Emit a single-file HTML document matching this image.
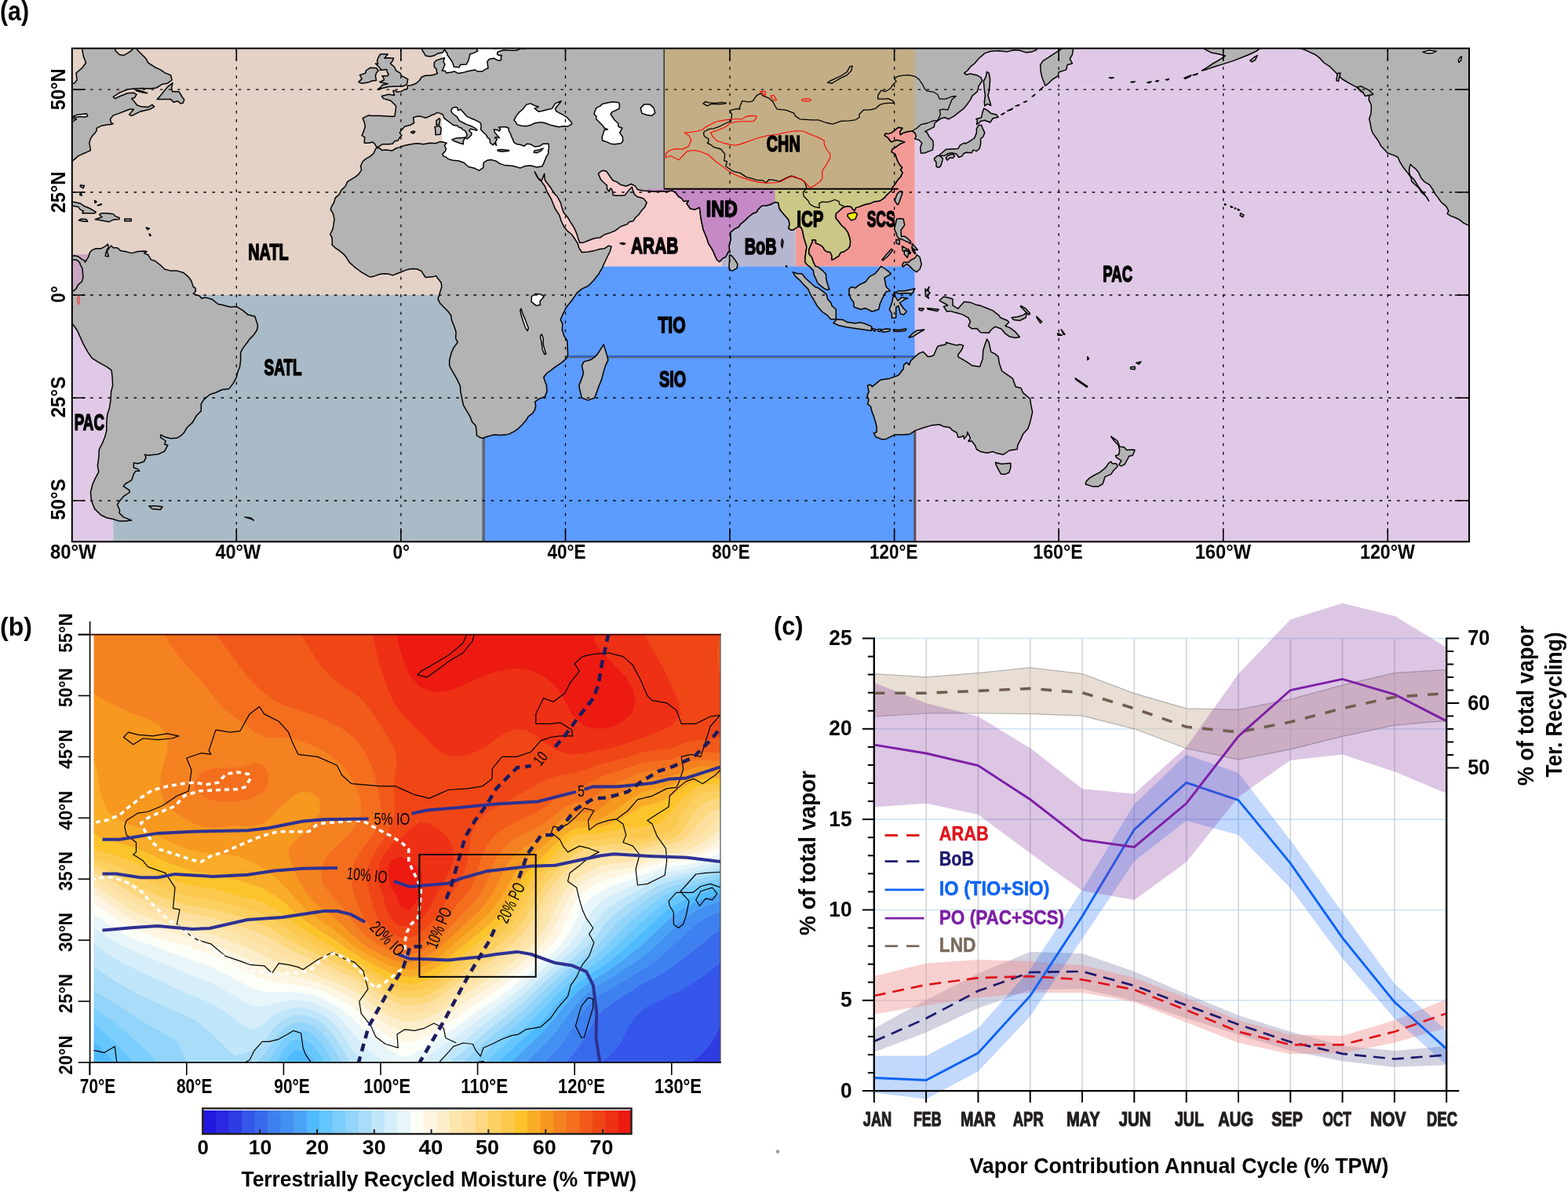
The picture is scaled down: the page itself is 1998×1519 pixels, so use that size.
<!DOCTYPE html><html><head><meta charset="utf-8"><title>Figure</title><style>html,body{margin:0;padding:0;background:#fff;overflow:hidden}svg{display:block}</style></head><body><svg width="1998" height="1519" viewBox="0 0 1998 1519" font-family="Liberation Sans, Arial, sans-serif">
<rect width="1998" height="1519" fill="#fff"/>
<defs><clipPath id="mapclip"><rect x="91.8" y="61.6" width="1780.2" height="628.7"/></clipPath>
<clipPath id="cpCHN"><rect x="846.2" y="56.4" width="319.6" height="184.4"/></clipPath>
<clipPath id="cpIND"><rect x="825.2" y="240.8" width="162.4" height="98.5"/></clipPath>
<clipPath id="cpICP"><rect x="987.6" y="240.8" width="183.4" height="98.5"/></clipPath>
</defs>
<g clip-path="url(#mapclip)">
<rect x="91.8" y="61.6" width="1780.2" height="628.6999999999999" fill="#fff"/>
<rect x="86.5" y="56.4" width="476.7" height="319.6" fill="#e4d2c7"/>
<rect x="144.2" y="376.0" width="471.5" height="319.6" fill="#a9bbc6"/>
<rect x="86.5" y="332.5" width="57.6" height="363.1" fill="#e0c9e6"/>
<rect x="86.5" y="324.1" width="36.7" height="51.9" fill="#caa5c4"/>
<rect x="615.7" y="339.3" width="550.1" height="356.3" fill="#5c9bff"/>
<rect x="678.5" y="215.7" width="241.0" height="123.6" fill="#f8cccc"/>
<rect x="919.5" y="239.8" width="94.3" height="99.5" fill="#b6b6d0"/>
<rect x="1013.8" y="156.0" width="151.9" height="183.4" fill="#f39a96"/>
<rect x="1165.8" y="56.4" width="717.7" height="639.2" fill="#e0c9e6"/>
<line x1="614.8" y1="454.6" x2="614.8" y2="695.6" stroke="#6e8290" stroke-width="1.9"/>
<line x1="616.6" y1="454.6" x2="616.6" y2="695.6" stroke="#5a5050" stroke-width="1.9"/>
<line x1="615.7" y1="453.8" x2="1165.8" y2="453.8" stroke="#1a5ecb" stroke-width="1.7"/>
<line x1="615.7" y1="455.5" x2="1165.8" y2="455.5" stroke="#6b6060" stroke-width="1.7"/>
<line x1="1165.8" y1="454.6" x2="1165.8" y2="695.6" stroke="#5a5058" stroke-width="3"/>
<path d="M536.6,51.2 L536.6,56.4 L537.1,61.7 L538.7,65.3 L540.2,67.4 L542.3,71.1 L547.6,72.1 L552.8,71.1 L558.1,67.9 L564.3,66.9 L566.4,62.7 L568.0,65.9 L569.6,67.4 L570.1,70.0 L572.7,73.7 L575.3,77.4 L576.9,80.5 L578.5,85.2 L585.3,85.8 L586.3,82.6 L594.2,82.1 L596.8,77.4 L597.9,73.2 L598.9,69.0 L604.2,67.4 L608.9,64.8 L606.8,61.7 L602.6,58.5 L601.5,56.4 L601.5,51.2 L623.0,51.2 L623.0,58.5 L626.2,60.1 L630.9,62.2 L636.6,60.6 L644.5,60.1 L650.3,59.0 L657.6,59.0 L662.8,60.6 L669.1,62.2 L662.8,62.2 L657.6,64.3 L649.7,64.3 L641.9,63.8 L636.6,65.3 L634.0,66.4 L633.5,69.0 L635.6,70.6 L639.3,70.6 L638.2,73.2 L638.7,76.3 L636.1,77.4 L633.0,76.3 L629.3,74.2 L623.5,75.3 L620.9,78.4 L621.4,82.6 L622.0,86.8 L618.3,88.4 L614.6,91.0 L608.3,91.0 L605.2,88.9 L597.3,90.5 L589.5,92.6 L584.2,93.6 L579.0,91.0 L575.3,92.0 L568.5,93.1 L567.5,90.5 L563.3,90.0 L564.9,87.3 L567.0,81.6 L564.9,78.9 L566.4,73.7 L562.8,74.8 L556.0,76.9 L553.3,80.0 L553.3,85.2 L556.0,87.9 L556.5,91.5 L557.5,93.6 L552.8,95.2 L547.6,96.2 L542.3,96.2 L537.1,98.3 L534.5,102.5 L530.3,106.2 L526.6,107.8 L523.5,108.8 L519.3,109.3 L519.3,113.0 L513.5,115.1 L510.9,116.7 L505.7,117.2 L503.6,115.6 L500.9,115.6 L502.5,121.4 L495.2,120.3 L486.3,122.4 L488.4,125.6 L497.8,128.2 L500.4,130.8 L504.6,135.0 L504.1,140.8 L503.0,148.1 L500.4,148.6 L492.6,148.1 L484.7,147.6 L474.2,147.6 L469.0,147.1 L462.2,150.7 L464.3,156.0 L465.3,161.2 L463.7,166.4 L461.1,172.7 L464.8,174.8 L464.3,179.5 L464.3,182.2 L470.0,182.2 L474.8,181.1 L477.4,183.2 L479.5,186.9 L481.6,187.4 L484.7,185.3 L487.8,183.7 L495.2,183.7 L500.4,183.2 L502.5,180.1 L507.2,179.0 L509.3,175.3 L511.9,172.7 L509.3,169.1 L511.9,165.4 L515.6,161.2 L522.4,159.6 L527.7,156.5 L527.1,153.3 L526.6,149.7 L531.9,148.1 L537.1,148.6 L542.3,150.2 L547.6,148.1 L550.2,146.5 L553.9,145.5 L557.0,143.4 L560.7,144.4 L564.3,146.0 L565.9,150.7 L569.6,153.3 L573.8,156.5 L578.0,159.6 L582.7,160.2 L584.8,162.2 L588.4,163.3 L589.5,165.4 L592.6,166.4 L594.2,169.1 L595.2,172.2 L593.2,175.9 L595.2,176.9 L597.9,174.8 L600.5,172.2 L601.0,169.6 L597.9,166.4 L599.4,164.3 L602.6,164.9 L607.3,166.4 L607.8,165.4 L604.7,162.8 L599.4,160.2 L594.7,158.6 L590.5,156.5 L585.3,153.9 L582.2,148.6 L576.9,145.0 L574.8,141.3 L576.4,137.6 L579.5,136.6 L582.7,137.1 L583.7,140.8 L586.9,139.2 L591.1,143.9 L594.7,148.1 L600.0,150.7 L605.2,152.8 L610.4,155.4 L612.5,157.0 L613.1,161.2 L612.5,164.9 L615.7,168.5 L619.3,171.7 L621.4,175.3 L624.1,177.4 L624.6,182.2 L628.3,184.8 L630.3,182.2 L632.4,185.3 L631.4,180.6 L633.5,177.4 L630.3,175.3 L634.5,174.8 L636.6,175.9 L633.0,171.7 L630.3,168.5 L629.3,164.9 L633.0,165.4 L636.1,167.0 L637.7,164.9 L635.6,162.2 L639.8,161.7 L644.5,161.7 L648.2,163.3 L648.2,166.4 L650.3,170.1 L651.8,174.3 L653.4,177.4 L655.0,181.6 L658.6,183.7 L662.8,184.3 L668.1,186.3 L671.2,183.2 L675.9,183.7 L681.2,186.9 L687.5,186.3 L692.2,183.2 L699.0,183.2 L699.5,188.4 L698.5,192.1 L699.0,195.3 L696.9,198.4 L694.8,203.1 L692.7,208.4 L690.6,212.0 L683.8,213.1 L680.1,212.0 L675.9,211.0 L669.6,211.5 L662.8,214.1 L653.9,211.5 L642.9,210.4 L636.6,208.4 L631.9,205.2 L626.2,203.6 L620.9,204.2 L616.2,207.3 L615.7,213.6 L610.4,217.3 L605.2,214.6 L596.8,212.5 L591.1,207.3 L583.7,204.7 L576.9,204.2 L571.1,202.6 L568.0,200.0 L564.9,198.9 L563.8,196.3 L567.5,192.6 L568.5,189.5 L566.4,185.3 L569.1,182.2 L564.3,181.1 L560.7,180.6 L554.9,182.7 L547.6,182.2 L539.7,183.7 L531.9,182.7 L526.6,183.2 L521.4,184.3 L516.1,185.3 L508.3,187.9 L504.6,189.0 L499.4,192.1 L492.0,191.1 L486.8,191.6 L483.1,188.4 L480.0,188.4 L478.4,190.0 L476.3,195.3 L471.6,199.4 L465.8,202.6 L462.2,205.7 L459.6,211.5 L460.6,216.7 L457.5,221.4 L453.3,225.1 L448.0,228.3 L442.8,231.4 L440.2,237.2 L434.9,242.4 L432.3,247.6 L427.1,252.4 L425.5,258.1 L422.4,263.4 L421.3,267.0 L424.5,272.3 L426.0,279.1 L425.0,286.9 L423.9,292.2 L420.8,298.5 L422.9,302.7 L423.4,307.9 L422.9,311.6 L427.1,315.8 L432.3,319.4 L437.6,323.6 L441.2,327.8 L445.4,334.6 L450.7,339.3 L455.9,343.5 L461.1,347.2 L469.0,351.9 L471.6,352.9 L476.8,351.9 L484.7,349.3 L489.9,348.8 L495.2,349.3 L500.4,350.9 L505.7,348.8 L510.9,346.7 L516.1,344.6 L521.4,343.0 L526.6,342.5 L531.9,343.0 L537.1,345.6 L539.7,349.8 L542.3,353.5 L547.6,352.9 L552.8,352.4 L555.4,351.4 L558.1,355.0 L562.2,360.3 L562.8,365.5 L561.2,370.8 L559.6,376.0 L558.1,381.2 L560.7,386.5 L565.9,391.7 L571.1,397.0 L574.8,402.2 L575.3,407.4 L578.5,415.3 L581.1,423.2 L580.6,431.0 L583.2,436.2 L578.0,443.1 L575.3,449.3 L572.7,458.8 L572.7,466.1 L576.4,472.9 L581.6,481.8 L586.3,491.3 L586.9,499.1 L589.0,509.6 L590.5,516.4 L594.7,523.7 L598.9,530.6 L601.5,537.4 L606.2,542.6 L607.3,550.5 L607.3,554.6 L612.0,557.8 L615.7,558.3 L620.9,556.2 L628.8,554.1 L636.6,554.6 L644.5,554.1 L649.7,552.6 L655.0,549.9 L660.2,546.3 L665.5,541.0 L670.2,535.8 L673.3,530.6 L678.5,526.9 L681.2,522.7 L682.7,517.5 L681.7,512.2 L686.4,508.5 L694.3,505.4 L696.9,499.1 L696.4,491.3 L694.3,485.5 L692.7,480.8 L696.9,475.5 L702.1,471.9 L707.4,467.7 L715.2,462.4 L721.5,457.2 L723.6,452.0 L723.1,441.5 L722.6,433.6 L718.9,428.4 L716.3,420.5 L716.8,412.7 L714.2,407.4 L716.3,402.2 L718.9,397.0 L721.5,391.7 L725.7,386.5 L729.9,381.2 L735.1,373.4 L741.4,368.1 L749.3,364.5 L756.1,357.7 L762.4,349.8 L767.6,340.9 L771.8,331.5 L777.0,321.0 L779.1,314.2 L775.5,313.1 L770.2,316.8 L765.0,317.3 L757.1,319.4 L749.3,321.0 L741.4,321.5 L737.7,315.8 L736.2,310.5 L733.0,305.3 L728.3,298.5 L723.1,294.3 L718.9,289.6 L715.2,281.7 L712.6,273.8 L707.4,266.0 L705.3,260.7 L702.1,252.9 L697.4,245.0 L694.3,237.2 L690.1,231.4 L686.4,228.3 L683.8,223.0 L681.2,218.8 L682.2,220.9 L684.8,226.2 L690.1,230.4 L691.6,226.7 L693.7,221.4 L694.3,229.3 L696.9,233.0 L702.1,239.8 L705.8,246.1 L710.0,250.3 L714.2,258.1 L715.7,263.4 L718.4,271.2 L723.1,276.5 L726.7,282.7 L732.0,291.1 L735.1,298.5 L737.2,305.3 L738.8,309.5 L744.0,308.9 L749.3,306.8 L757.1,303.7 L765.0,302.7 L770.2,299.0 L778.1,296.4 L784.4,293.7 L791.2,288.5 L799.0,285.9 L801.7,282.7 L806.9,281.7 L809.5,277.5 L813.7,273.8 L817.4,268.6 L821.6,263.9 L824.2,258.1 L820.0,252.9 L816.3,251.8 L812.1,250.8 L808.5,247.6 L806.4,242.4 L805.3,238.2 L801.7,241.9 L796.4,248.7 L791.2,249.2 L785.9,249.2 L781.2,248.7 L780.2,242.4 L778.1,239.8 L776.0,244.0 L773.4,240.3 L773.4,236.1 L770.2,233.5 L765.5,228.8 L762.4,221.4 L765.0,218.8 L767.6,217.3 L772.8,218.3 L776.0,223.0 L780.7,229.8 L785.9,231.9 L791.2,235.6 L798.0,237.2 L804.3,234.5 L809.5,237.2 L812.1,241.4 L820.0,242.9 L833.1,244.0 L843.6,243.5 L848.8,244.0 L856.7,242.9 L860.9,245.5 L864.5,250.3 L868.7,252.9 L871.3,256.6 L877.6,256.0 L875.0,259.2 L879.7,266.0 L885.5,267.0 L891.3,264.4 L892.3,271.2 L892.8,276.5 L894.4,284.3 L896.0,292.2 L898.6,298.5 L901.2,305.3 L902.8,310.5 L906.4,315.8 L909.1,321.0 L911.2,326.2 L913.8,331.5 L916.9,333.6 L920.6,329.4 L924.8,327.3 L927.4,322.0 L929.5,319.4 L929.0,313.1 L931.1,305.3 L930.5,296.4 L935.3,292.2 L941.5,289.0 L943.1,285.9 L948.4,281.7 L953.6,276.5 L958.8,272.3 L964.1,270.2 L966.7,266.0 L970.9,262.3 L974.6,262.3 L979.8,261.3 L984.5,259.2 L987.6,257.6 L991.8,258.6 L992.9,264.9 L994.5,268.1 L998.1,272.3 L1001.8,276.5 L1004.9,280.1 L1006.0,285.4 L1004.9,291.1 L1008.1,293.2 L1011.2,292.7 L1016.5,289.0 L1020.7,289.6 L1022.8,294.8 L1024.3,302.7 L1025.9,307.9 L1028.0,314.7 L1026.9,321.0 L1025.9,328.8 L1025.9,334.1 L1028.0,336.7 L1032.2,340.4 L1036.4,344.6 L1036.9,349.8 L1039.5,355.0 L1041.6,360.3 L1044.8,363.4 L1049.5,367.1 L1053.1,369.2 L1056.8,368.7 L1054.7,362.9 L1052.6,355.0 L1052.6,349.8 L1047.9,344.6 L1042.7,340.4 L1039.0,339.3 L1036.4,334.1 L1034.3,327.8 L1030.6,323.6 L1030.6,318.4 L1032.7,313.1 L1034.8,308.9 L1034.8,305.8 L1039.5,305.8 L1039.5,310.0 L1045.3,312.1 L1048.9,315.2 L1050.5,318.4 L1053.1,320.5 L1057.9,321.5 L1059.9,325.7 L1059.9,330.9 L1062.0,330.4 L1068.9,326.2 L1070.9,322.0 L1075.7,320.5 L1080.9,316.8 L1083.0,313.1 L1083.5,307.9 L1082.5,302.7 L1080.4,296.4 L1076.7,291.1 L1072.5,287.5 L1068.9,282.7 L1064.7,277.5 L1065.2,272.3 L1069.4,268.6 L1074.1,264.4 L1079.3,262.8 L1084.6,263.4 L1086.1,266.0 L1088.8,268.6 L1090.3,264.9 L1095.0,263.4 L1100.3,261.3 L1105.5,259.7 L1109.2,259.2 L1113.4,257.1 L1121.2,256.0 L1126.5,252.4 L1130.7,247.6 L1135.9,242.9 L1137.5,238.2 L1140.6,234.5 L1143.8,229.3 L1147.4,225.6 L1150.1,219.9 L1147.4,216.2 L1149.5,213.6 L1145.9,209.4 L1143.8,205.7 L1142.2,201.5 L1140.6,196.3 L1135.9,193.7 L1137.0,190.0 L1142.2,186.9 L1147.4,183.2 L1152.7,181.1 L1147.4,179.5 L1142.2,178.5 L1135.9,181.1 L1133.3,178.5 L1131.7,175.9 L1127.0,172.7 L1128.1,170.1 L1131.7,170.6 L1135.9,169.1 L1139.6,166.4 L1144.8,162.2 L1150.1,163.3 L1146.9,167.5 L1147.4,171.7 L1151.6,169.1 L1157.9,167.5 L1162.1,167.0 L1165.8,169.1 L1167.3,173.8 L1165.8,176.9 L1171.0,178.5 L1174.7,182.2 L1172.6,188.4 L1173.6,195.3 L1178.9,194.7 L1184.1,192.6 L1188.3,191.1 L1189.4,184.8 L1188.8,179.5 L1184.1,174.3 L1181.5,169.1 L1178.9,167.5 L1184.1,164.9 L1190.4,161.7 L1190.9,157.0 L1195.6,153.3 L1199.8,150.7 L1204.0,149.7 L1208.7,151.8 L1215.5,148.1 L1220.8,143.9 L1227.6,138.7 L1232.8,132.4 L1236.5,127.1 L1239.1,121.9 L1245.4,116.7 L1247.0,109.9 L1251.7,102.5 L1249.6,98.3 L1244.4,95.7 L1236.5,94.1 L1231.3,95.2 L1228.6,93.1 L1232.8,90.0 L1236.5,85.2 L1241.7,81.0 L1247.0,74.8 L1254.8,67.9 L1262.7,65.3 L1273.2,64.8 L1283.7,65.9 L1291.5,63.8 L1299.4,64.3 L1307.2,66.9 L1315.1,65.9 L1320.3,63.8 L1322.9,60.6 L1324.5,51.2 L1353.9,51.2 L1353.9,61.7 L1343.9,67.9 L1336.0,73.2 L1329.2,77.4 L1325.6,82.6 L1326.1,90.5 L1327.7,98.3 L1330.8,106.2 L1331.9,109.3 L1336.0,106.2 L1341.3,101.0 L1348.1,96.8 L1349.1,92.0 L1358.6,88.9 L1360.1,82.6 L1366.4,81.0 L1363.3,74.8 L1366.4,69.5 L1367.5,62.7 L1368.0,51.2Z M655.0,153.3 L657.6,148.1 L660.7,143.9 L666.0,139.2 L670.7,133.4 L675.9,131.9 L681.2,134.5 L686.4,136.1 L681.2,138.1 L686.4,142.3 L691.6,141.3 L696.9,139.7 L702.1,138.7 L703.7,138.1 L707.4,131.9 L715.2,128.7 L712.6,132.4 L710.0,135.0 L707.4,138.7 L708.9,141.8 L712.6,143.9 L717.8,146.5 L723.1,150.2 L728.3,156.0 L728.8,158.1 L723.1,161.2 L717.8,160.7 L712.6,161.7 L707.4,160.7 L702.1,159.6 L696.9,157.5 L691.6,156.0 L686.4,156.0 L681.2,157.0 L675.9,159.6 L670.7,160.7 L663.9,160.2 L658.6,158.6 L657.6,156.0Z M767.6,132.4 L772.8,131.3 L780.7,129.8 L788.6,130.8 L789.6,135.0 L788.6,138.7 L779.7,142.9 L778.1,145.5 L783.3,153.3 L787.5,157.0 L788.0,161.2 L792.8,163.3 L789.6,169.1 L793.3,174.3 L793.8,179.5 L791.2,182.7 L783.3,183.7 L778.1,183.2 L772.8,180.6 L767.6,179.0 L767.1,174.8 L768.7,170.1 L770.2,165.4 L774.4,164.9 L770.2,163.3 L767.6,159.6 L765.0,157.0 L759.8,151.8 L759.8,148.1 L757.1,145.5 L758.2,141.3 L759.8,137.6 L765.0,135.0Z M816.3,137.6 L821.0,132.9 L827.9,132.9 L833.1,137.6 L834.7,143.9 L830.5,147.6 L824.2,146.5 L817.9,144.4Z" fill="#b3b3b3" fill-rule="evenodd" stroke="#000" stroke-width="1.5" stroke-linejoin="round"/>
<path d="M1656.1,51.2 L1656.1,61.7 L1660.9,62.7 L1663.5,63.8 L1668.7,66.4 L1676.6,70.0 L1681.8,74.2 L1687.1,80.0 L1694.9,85.2 L1700.2,90.5 L1705.4,95.7 L1710.6,101.0 L1721.1,107.2 L1729.0,111.4 L1734.2,116.7 L1744.7,122.4 L1744.2,127.1 L1747.3,134.0 L1747.3,140.2 L1746.8,145.5 L1744.7,151.2 L1746.3,158.6 L1747.3,164.3 L1748.9,169.1 L1752.5,174.3 L1755.2,178.0 L1757.8,182.2 L1759.4,185.8 L1763.5,190.0 L1768.3,195.3 L1776.1,197.9 L1781.4,200.5 L1782.9,204.7 L1786.6,211.0 L1790.3,216.2 L1794.5,221.4 L1798.1,226.7 L1798.6,230.9 L1802.3,234.5 L1808.1,239.8 L1811.2,245.0 L1818.0,251.3 L1820.7,256.0 L1815.4,247.6 L1810.2,241.4 L1806.0,235.6 L1802.3,229.3 L1797.1,224.1 L1795.5,218.8 L1796.0,213.6 L1797.1,209.4 L1799.7,212.0 L1803.9,215.2 L1807.6,219.9 L1810.7,226.7 L1815.4,231.9 L1821.7,235.6 L1825.9,241.9 L1829.0,247.6 L1832.7,252.4 L1836.4,257.6 L1842.7,262.8 L1845.8,268.6 L1844.2,272.3 L1847.9,274.9 L1854.7,277.5 L1859.9,280.1 L1865.2,284.3 L1870.4,286.9 L1883.5,289.6 L1883.5,51.2Z" fill="#b3b3b3" fill-rule="evenodd" stroke="#000" stroke-width="1.5" stroke-linejoin="round"/>
<path d="M1535.1,51.2 L1535.1,62.7 L1543.0,66.9 L1553.5,69.0 L1561.3,71.1 L1556.1,74.8 L1545.6,81.0 L1536.7,86.8 L1531.5,90.0 L1537.7,88.4 L1548.2,84.7 L1558.7,81.6 L1571.8,77.4 L1582.3,73.2 L1592.8,69.0 L1600.6,65.3 L1606.9,60.6 L1612.1,51.2Z" fill="#b3b3b3" fill-rule="evenodd" stroke="#000" stroke-width="1.5" stroke-linejoin="round"/>
<path d="M81.3,107.2 L94.4,106.2 L98.1,102.0 L97.0,93.1 L104.9,86.3 L109.6,80.0 L106.4,72.1 L104.9,64.3 L104.9,51.2 L146.8,51.2 L146.8,64.3 L152.0,69.5 L157.3,70.6 L162.5,67.9 L167.7,64.3 L170.4,60.1 L173.0,51.2 L173.0,60.1 L175.6,64.3 L180.8,69.5 L186.1,74.8 L188.7,80.0 L196.6,85.2 L204.4,88.9 L210.7,93.1 L217.5,95.7 L219.1,102.0 L213.3,106.2 L207.0,107.2 L199.2,112.0 L191.3,113.0 L180.8,112.5 L170.4,113.0 L162.5,114.1 L152.0,118.2 L144.2,123.5 L146.8,125.6 L152.0,123.0 L162.5,118.8 L170.4,118.2 L174.0,120.3 L171.4,124.5 L167.7,125.6 L171.4,129.8 L174.6,134.0 L180.8,136.1 L188.7,136.6 L193.9,133.4 L196.6,136.1 L191.3,139.2 L178.2,142.3 L167.7,147.6 L164.6,146.0 L170.4,139.2 L165.1,139.2 L159.9,141.3 L152.0,144.4 L144.2,147.1 L140.5,151.8 L141.6,157.0 L144.2,157.5 L141.6,158.6 L136.3,159.1 L129.5,160.2 L123.2,163.3 L123.2,166.4 L120.6,170.1 L118.0,172.7 L115.4,176.9 L113.8,182.2 L114.8,187.4 L115.4,191.6 L110.1,194.2 L104.9,196.3 L99.6,198.9 L96.0,202.1 L91.8,205.7 L81.3,211.0Z" fill="#b3b3b3" fill-rule="evenodd" stroke="#000" stroke-width="1.5" stroke-linejoin="round"/>
<path d="M81.3,326.2 L91.8,326.8 L94.4,325.7 L99.6,326.8 L104.9,330.9 L107.5,332.0 L108.5,334.1 L112.7,327.3 L114.8,321.0 L118.0,318.4 L122.2,316.8 L128.5,316.8 L133.7,314.2 L137.4,311.0 L138.4,315.2 L136.3,318.4 L135.3,321.0 L134.2,326.2 L138.4,326.8 L136.3,320.5 L137.4,318.4 L141.6,313.1 L144.2,315.8 L149.4,315.8 L153.6,319.4 L159.9,320.5 L167.7,322.6 L175.6,320.5 L183.5,319.9 L187.1,320.5 L183.5,322.6 L188.7,324.7 L192.4,330.9 L197.6,332.5 L204.4,337.8 L209.7,343.0 L217.5,345.1 L225.4,345.1 L233.2,347.2 L238.5,351.4 L241.1,354.0 L243.7,357.7 L246.3,365.5 L248.9,367.1 L249.5,370.8 L246.3,374.4 L254.2,377.0 L256.8,380.2 L262.0,379.1 L269.9,381.2 L277.8,387.5 L283.0,388.6 L293.5,391.2 L301.3,390.7 L309.2,395.4 L316.0,401.1 L324.9,403.2 L327.0,410.1 L328.6,415.3 L327.5,420.5 L323.3,426.8 L318.1,432.1 L314.4,437.3 L309.2,444.1 L306.6,449.3 L306.6,459.8 L305.5,467.7 L302.9,474.0 L301.3,480.8 L297.1,488.6 L291.9,495.4 L283.0,496.5 L275.1,500.2 L267.3,502.8 L259.4,509.6 L256.3,514.8 L256.3,523.7 L250.5,529.5 L245.3,538.4 L238.5,544.7 L234.3,551.5 L230.6,555.2 L225.4,558.3 L217.5,558.8 L209.7,556.7 L204.9,554.1 L204.4,557.3 L211.2,562.0 L209.7,566.2 L213.8,567.2 L209.7,575.1 L201.8,578.7 L188.7,580.3 L184.5,579.3 L186.1,582.9 L183.5,588.2 L175.6,590.8 L170.4,589.8 L170.4,596.0 L175.6,597.6 L177.7,600.2 L173.0,600.2 L170.4,603.9 L167.7,611.8 L159.9,616.5 L157.3,619.6 L165.1,624.9 L165.1,627.5 L157.3,632.7 L152.0,639.0 L149.4,643.2 L152.6,650.0 L152.0,653.7 L157.3,658.9 L167.7,663.1 L159.9,664.1 L152.0,664.1 L144.2,661.5 L136.3,660.0 L128.5,656.3 L120.6,648.4 L116.4,638.0 L115.4,627.5 L118.0,617.0 L121.6,609.1 L125.8,601.3 L124.3,593.4 L125.8,582.9 L126.4,572.5 L130.5,564.6 L133.7,556.7 L135.8,548.9 L135.8,538.4 L136.8,527.9 L139.5,520.1 L141.0,509.6 L141.6,499.1 L143.6,491.3 L143.1,480.8 L142.1,471.9 L136.3,467.7 L125.8,461.9 L116.9,456.2 L111.7,448.3 L106.4,438.9 L101.7,428.4 L98.1,420.5 L92.3,412.7 L87.1,407.4 L85.5,403.2 L86.0,398.5 L89.7,394.9 L92.3,391.7 L90.2,389.1 L87.1,383.9 L91.3,378.6 L91.8,371.8 L97.0,368.1 L99.6,362.9 L104.4,358.7 L105.9,353.5 L105.4,347.2 L104.9,341.9 L102.8,338.3 L101.2,334.1 L97.0,330.9 L91.8,330.9 L81.3,330.4Z" fill="#b3b3b3" fill-rule="evenodd" stroke="#000" stroke-width="1.5" stroke-linejoin="round"/>
<path d="M481.0,114.1 L488.9,112.0 L495.2,110.4 L505.7,109.9 L513.5,109.9 L518.2,107.8 L519.8,101.0 L516.1,98.9 L511.9,96.8 L509.9,93.1 L504.6,90.0 L502.5,85.2 L499.4,82.6 L497.3,81.0 L500.4,77.4 L501.5,74.2 L495.2,73.7 L489.9,74.2 L494.1,69.0 L484.7,69.0 L482.1,73.2 L480.5,77.4 L481.6,81.6 L478.4,81.0 L482.1,84.7 L485.2,87.9 L484.2,89.4 L492.6,88.4 L493.6,92.0 L495.2,94.7 L493.6,96.8 L486.8,96.8 L488.9,99.4 L489.4,102.0 L483.7,104.6 L488.9,105.7 L494.1,106.7 L487.3,108.3 L484.7,111.4Z" fill="#b3b3b3" fill-rule="evenodd" stroke="#000" stroke-width="1.5" stroke-linejoin="round"/>
<path d="M479.5,102.5 L478.4,96.8 L479.5,93.1 L482.1,90.0 L479.5,86.8 L471.6,86.3 L466.4,90.0 L465.8,93.1 L458.5,95.7 L461.1,100.4 L456.9,104.6 L461.1,106.2 L469.0,105.1 L474.2,103.0Z" fill="#b3b3b3" fill-rule="evenodd" stroke="#000" stroke-width="1.5" stroke-linejoin="round"/>
<path d="M554.9,171.7 L561.2,171.2 L562.2,163.8 L559.6,160.2 L553.9,161.7 L554.9,166.4Z" fill="#b3b3b3" fill-rule="evenodd" stroke="#000" stroke-width="1.5" stroke-linejoin="round"/>
<path d="M556.0,159.1 L559.6,158.6 L560.7,152.3 L559.6,150.7 L556.0,153.9Z" fill="#b3b3b3" fill-rule="evenodd" stroke="#000" stroke-width="1.5" stroke-linejoin="round"/>
<path d="M575.9,178.0 L581.6,175.9 L592.6,175.3 L590.0,180.6 L590.5,183.7 L585.3,182.2 L578.0,179.5Z" fill="#b3b3b3" fill-rule="evenodd" stroke="#000" stroke-width="1.5" stroke-linejoin="round"/>
<path d="M634.0,191.1 L639.3,190.5 L648.7,191.6 L647.6,192.6 L640.3,193.2 L634.5,192.6Z" fill="#b3b3b3" fill-rule="evenodd" stroke="#000" stroke-width="1.5" stroke-linejoin="round"/>
<path d="M680.1,194.2 L683.8,194.7 L689.0,192.6 L692.2,189.0 L686.4,191.1 L681.2,192.1Z" fill="#b3b3b3" fill-rule="evenodd" stroke="#000" stroke-width="1.5" stroke-linejoin="round"/>
<path d="M523.5,168.5 L527.1,167.0 L528.7,168.0 L526.6,170.1 L524.5,169.1Z" fill="#b3b3b3" fill-rule="evenodd" stroke="#000" stroke-width="1.5" stroke-linejoin="round"/>
<path d="M769.2,438.9 L773.9,454.6 L774.9,458.8 L771.8,465.1 L769.7,471.9 L766.6,483.4 L762.4,493.9 L757.7,507.0 L749.3,510.1 L741.4,507.0 L739.3,499.1 L737.7,491.3 L740.9,483.4 L743.5,475.5 L741.4,466.1 L744.0,460.9 L751.9,458.8 L757.1,455.6 L761.3,451.4 L765.0,445.7Z" fill="#b3b3b3" fill-rule="evenodd" stroke="#000" stroke-width="1.5" stroke-linejoin="round"/>
<path d="M929.5,344.0 L933.2,345.1 L938.9,341.9 L940.0,336.7 L936.8,331.5 L932.6,326.2 L929.5,324.7 L929.5,331.5 L929.0,339.3Z" fill="#b3b3b3" fill-rule="evenodd" stroke="#000" stroke-width="1.5" stroke-linejoin="round"/>
<path d="M1010.2,346.7 L1016.5,348.8 L1021.7,348.8 L1026.9,355.0 L1033.8,361.3 L1038.5,365.5 L1042.7,367.1 L1047.9,370.8 L1053.1,375.0 L1054.7,381.2 L1058.9,386.0 L1059.9,389.6 L1065.2,394.3 L1065.2,406.4 L1058.9,406.9 L1054.7,402.2 L1047.4,397.0 L1041.1,389.6 L1036.4,381.2 L1033.2,376.0 L1029.6,368.1 L1024.3,362.9 L1019.1,357.1 L1013.8,352.4Z" fill="#b3b3b3" fill-rule="evenodd" stroke="#000" stroke-width="1.5" stroke-linejoin="round"/>
<path d="M1062.0,411.6 L1066.2,406.9 L1074.1,407.4 L1079.3,410.6 L1089.8,412.1 L1095.0,411.1 L1101.3,412.1 L1110.8,416.3 L1110.2,421.6 L1100.3,420.0 L1089.8,418.4 L1079.3,416.9 L1068.9,414.8Z" fill="#b3b3b3" fill-rule="evenodd" stroke="#000" stroke-width="1.5" stroke-linejoin="round"/>
<path d="M1110.8,418.4 L1116.5,420.0 L1114.4,422.1 L1111.3,420.0Z" fill="#b3b3b3" fill-rule="evenodd" stroke="#000" stroke-width="1.5" stroke-linejoin="round"/>
<path d="M1118.6,419.5 L1122.3,419.5 L1121.8,422.6 L1118.6,422.1Z" fill="#b3b3b3" fill-rule="evenodd" stroke="#000" stroke-width="1.5" stroke-linejoin="round"/>
<path d="M1122.8,420.5 L1129.1,419.0 L1134.3,419.5 L1133.3,422.1 L1124.9,423.2Z" fill="#b3b3b3" fill-rule="evenodd" stroke="#000" stroke-width="1.5" stroke-linejoin="round"/>
<path d="M1138.5,420.0 L1144.8,420.5 L1154.8,419.0 L1153.7,421.6 L1144.8,422.6 L1139.1,422.1Z" fill="#b3b3b3" fill-rule="evenodd" stroke="#000" stroke-width="1.5" stroke-linejoin="round"/>
<path d="M1157.9,430.0 L1163.2,424.7 L1168.4,421.1 L1177.8,420.0 L1171.0,424.2 L1163.2,428.9Z" fill="#b3b3b3" fill-rule="evenodd" stroke="#000" stroke-width="1.5" stroke-linejoin="round"/>
<path d="M1082.0,368.1 L1085.1,365.5 L1089.8,367.1 L1095.0,362.9 L1102.9,359.2 L1108.1,352.4 L1115.0,348.8 L1118.6,344.6 L1122.8,339.3 L1127.5,342.5 L1131.7,345.6 L1135.4,348.8 L1130.7,351.9 L1127.0,354.0 L1128.1,360.3 L1129.1,365.5 L1134.3,370.8 L1129.1,371.8 L1126.5,376.0 L1123.9,381.2 L1121.2,387.5 L1119.7,394.3 L1111.3,397.0 L1102.9,392.8 L1096.6,394.3 L1088.2,391.2 L1087.7,384.9 L1084.6,381.2 L1082.0,375.0Z" fill="#b3b3b3" fill-rule="evenodd" stroke="#000" stroke-width="1.5" stroke-linejoin="round"/>
<path d="M1136.4,405.3 L1141.7,404.8 L1141.7,391.7 L1144.8,389.6 L1147.4,400.1 L1151.6,401.1 L1155.3,397.0 L1151.1,392.8 L1146.4,386.0 L1154.2,380.7 L1156.9,380.2 L1148.5,379.1 L1144.3,383.3 L1140.6,377.6 L1140.1,373.4 L1144.8,370.8 L1152.7,370.8 L1162.1,368.7 L1165.8,367.6 L1162.6,373.9 L1155.3,373.4 L1143.8,373.9 L1139.6,371.8 L1138.5,376.0 L1137.0,383.9 L1134.3,391.7 L1133.3,394.3 L1136.4,399.6Z" fill="#b3b3b3" fill-rule="evenodd" stroke="#000" stroke-width="1.5" stroke-linejoin="round"/>
<path d="M1180.4,370.8 L1184.1,365.5 L1182.5,370.8 L1185.2,373.4 L1181.5,376.0 L1183.6,380.2 L1179.4,377.6 L1178.9,368.1Z" fill="#b3b3b3" fill-rule="evenodd" stroke="#000" stroke-width="1.5" stroke-linejoin="round"/>
<path d="M1181.5,392.8 L1196.2,394.3 L1194.6,396.4 L1182.5,394.3Z" fill="#b3b3b3" fill-rule="evenodd" stroke="#000" stroke-width="1.5" stroke-linejoin="round"/>
<path d="M1171.0,392.8 L1177.3,393.3 L1175.2,395.9 L1171.0,394.9Z" fill="#b3b3b3" fill-rule="evenodd" stroke="#000" stroke-width="1.5" stroke-linejoin="round"/>
<path d="M1197.2,382.8 L1202.4,378.1 L1210.3,379.7 L1214.0,381.2 L1214.0,389.1 L1220.8,393.3 L1228.6,384.4 L1236.5,385.4 L1244.4,388.6 L1249.6,389.6 L1257.5,392.8 L1265.3,395.9 L1273.2,402.2 L1274.7,404.8 L1283.7,408.5 L1285.7,410.6 L1281.0,415.3 L1287.3,417.9 L1294.1,423.2 L1299.4,429.4 L1294.1,430.5 L1286.3,428.9 L1281.0,425.2 L1275.8,419.0 L1267.9,416.3 L1262.7,420.5 L1260.1,424.2 L1249.6,423.7 L1244.4,418.4 L1238.6,419.0 L1233.9,415.3 L1236.5,410.1 L1233.9,404.8 L1226.0,400.6 L1218.2,398.5 L1210.3,396.4 L1206.6,397.0 L1202.4,390.7 L1207.7,389.1 L1205.1,387.5 L1198.3,383.9Z" fill="#b3b3b3" fill-rule="evenodd" stroke="#000" stroke-width="1.5" stroke-linejoin="round"/>
<path d="M1288.9,404.8 L1296.8,403.8 L1304.6,401.1 L1308.3,398.0 L1307.2,404.8 L1299.4,408.5 L1291.5,407.4Z" fill="#b3b3b3" fill-rule="evenodd" stroke="#000" stroke-width="1.5" stroke-linejoin="round"/>
<path d="M1300.9,389.6 L1307.2,393.3 L1312.5,399.6 L1310.9,401.1 L1305.1,395.4 L1300.4,390.7Z" fill="#b3b3b3" fill-rule="evenodd" stroke="#000" stroke-width="1.5" stroke-linejoin="round"/>
<path d="M1320.8,403.2 L1327.7,410.1 L1325.6,411.6 L1321.4,405.3Z" fill="#b3b3b3" fill-rule="evenodd" stroke="#000" stroke-width="1.5" stroke-linejoin="round"/>
<path d="M1347.6,424.7 L1353.3,427.3 L1348.1,427.3Z" fill="#b3b3b3" fill-rule="evenodd" stroke="#000" stroke-width="1.5" stroke-linejoin="round"/>
<path d="M1352.3,420.0 L1357.0,426.3 L1355.4,426.3Z" fill="#b3b3b3" fill-rule="evenodd" stroke="#000" stroke-width="1.5" stroke-linejoin="round"/>
<path d="M1370.1,481.8 L1385.8,492.3 L1384.8,493.4 L1371.1,483.9Z" fill="#b3b3b3" fill-rule="evenodd" stroke="#000" stroke-width="1.5" stroke-linejoin="round"/>
<path d="M1440.8,467.7 L1446.1,467.2 L1446.1,470.8 L1440.8,470.3Z" fill="#b3b3b3" fill-rule="evenodd" stroke="#000" stroke-width="1.5" stroke-linejoin="round"/>
<path d="M1447.6,462.4 L1453.9,460.9 L1451.3,464.0Z" fill="#b3b3b3" fill-rule="evenodd" stroke="#000" stroke-width="1.5" stroke-linejoin="round"/>
<path d="M1385.8,454.6 L1387.4,457.2 L1385.8,458.8Z" fill="#b3b3b3" fill-rule="evenodd" stroke="#000" stroke-width="1.5" stroke-linejoin="round"/>
<path d="M1105.5,491.3 L1109.2,490.2 L1111.3,492.8 L1122.3,483.9 L1133.3,482.4 L1144.8,478.2 L1151.1,470.3 L1151.6,465.1 L1155.3,461.9 L1158.4,465.1 L1160.5,459.8 L1165.8,454.6 L1171.0,450.4 L1176.3,448.3 L1182.5,454.6 L1186.7,454.1 L1189.9,452.5 L1193.0,445.2 L1195.1,441.0 L1199.8,439.9 L1205.1,438.9 L1205.6,436.2 L1210.3,437.8 L1218.2,439.9 L1223.4,438.9 L1227.6,440.4 L1225.5,445.7 L1220.8,452.0 L1220.8,454.6 L1226.0,457.7 L1232.3,461.4 L1239.1,466.1 L1248.6,467.2 L1252.2,457.2 L1252.7,446.7 L1254.3,441.5 L1257.5,432.1 L1260.1,436.2 L1262.7,448.3 L1267.9,450.9 L1272.1,454.6 L1273.2,462.4 L1276.8,472.9 L1283.7,477.6 L1290.5,482.4 L1294.1,492.8 L1300.9,494.4 L1303.6,500.7 L1312.5,508.0 L1313.5,514.8 L1315.6,525.3 L1312.5,538.4 L1309.8,546.3 L1303.6,553.1 L1300.9,559.4 L1296.8,567.2 L1296.2,572.5 L1286.3,574.0 L1278.4,579.3 L1270.6,577.7 L1265.3,575.6 L1257.5,577.2 L1249.6,575.6 L1244.4,572.5 L1242.3,567.2 L1238.1,562.0 L1233.9,562.5 L1236.5,558.3 L1232.8,550.5 L1232.3,554.6 L1228.6,559.4 L1227.6,555.2 L1223.4,557.3 L1220.8,557.3 L1219.2,551.5 L1212.9,547.8 L1210.3,544.7 L1202.4,543.6 L1197.2,541.0 L1186.7,542.1 L1176.3,545.2 L1165.8,548.9 L1160.5,552.6 L1157.9,553.6 L1150.1,554.1 L1139.6,554.1 L1129.1,559.4 L1123.9,559.9 L1116.0,556.7 L1113.4,552.0 L1117.1,550.5 L1117.1,543.6 L1115.0,535.8 L1113.4,530.6 L1111.3,525.3 L1109.2,517.5 L1105.5,514.8 L1107.1,509.6 L1105.0,504.4 L1107.1,499.1Z" fill="#b3b3b3" fill-rule="evenodd" stroke="#000" stroke-width="1.5" stroke-linejoin="round"/>
<path d="M1268.5,589.2 L1275.8,591.3 L1287.8,590.3 L1287.8,596.0 L1285.7,602.3 L1280.5,604.4 L1275.3,603.9 L1271.6,597.1 L1269.0,591.8Z" fill="#b3b3b3" fill-rule="evenodd" stroke="#000" stroke-width="1.5" stroke-linejoin="round"/>
<path d="M1415.7,556.2 L1424.1,562.0 L1426.7,569.3 L1432.4,569.8 L1435.6,573.5 L1443.4,573.0 L1446.1,573.5 L1443.4,580.3 L1438.2,581.4 L1437.7,583.5 L1433.0,591.8 L1428.8,593.9 L1425.6,592.4 L1428.8,587.1 L1422.5,582.9 L1421.4,580.8 L1425.6,579.3 L1426.7,574.0 L1425.1,567.2 L1419.9,562.0Z" fill="#b3b3b3" fill-rule="evenodd" stroke="#000" stroke-width="1.5" stroke-linejoin="round"/>
<path d="M1415.7,588.2 L1417.2,590.8 L1422.5,590.8 L1424.1,594.5 L1418.8,599.7 L1415.7,604.4 L1407.8,607.6 L1406.8,611.8 L1405.2,616.5 L1399.4,620.1 L1392.6,620.1 L1383.2,617.0 L1384.2,613.3 L1388.4,609.1 L1393.7,606.0 L1401.5,601.8 L1406.8,597.6 L1409.9,594.5 L1412.5,590.3Z" fill="#b3b3b3" fill-rule="evenodd" stroke="#000" stroke-width="1.5" stroke-linejoin="round"/>
<path d="M1196.7,197.9 L1199.8,195.3 L1205.1,190.5 L1210.3,190.0 L1220.8,189.5 L1223.4,184.8 L1228.6,182.2 L1230.2,183.2 L1236.5,179.5 L1241.7,175.9 L1244.4,169.1 L1244.4,163.8 L1247.0,159.6 L1250.6,159.6 L1252.2,163.8 L1254.8,169.1 L1252.7,174.3 L1249.6,176.9 L1249.6,183.2 L1248.0,189.5 L1244.4,192.6 L1240.2,191.1 L1238.1,194.7 L1231.3,194.2 L1227.6,195.8 L1226.0,198.9 L1221.8,200.5 L1218.7,196.3 L1212.9,194.7 L1207.7,195.8 L1203.5,198.4 L1198.3,198.4Z" fill="#b3b3b3" fill-rule="evenodd" stroke="#000" stroke-width="1.5" stroke-linejoin="round"/>
<path d="M1190.4,202.1 L1194.6,198.4 L1197.2,198.4 L1201.4,202.1 L1199.8,208.4 L1198.3,212.0 L1195.6,213.6 L1193.0,212.0 L1193.0,206.8 L1190.9,204.2Z" fill="#b3b3b3" fill-rule="evenodd" stroke="#000" stroke-width="1.5" stroke-linejoin="round"/>
<path d="M1205.1,201.5 L1207.7,197.9 L1214.0,196.3 L1216.6,198.9 L1214.0,201.5 L1210.3,201.0 L1207.2,204.2Z" fill="#b3b3b3" fill-rule="evenodd" stroke="#000" stroke-width="1.5" stroke-linejoin="round"/>
<path d="M1244.4,158.6 L1245.4,153.3 L1243.8,151.8 L1250.6,149.7 L1251.7,143.9 L1253.8,138.1 L1257.5,140.2 L1262.7,144.4 L1269.5,146.0 L1272.1,149.2 L1265.3,150.7 L1261.6,156.0 L1254.8,153.3 L1249.6,154.4 L1247.0,157.0Z" fill="#b3b3b3" fill-rule="evenodd" stroke="#000" stroke-width="1.5" stroke-linejoin="round"/>
<path d="M1254.8,135.0 L1258.0,132.4 L1262.7,134.5 L1261.1,128.7 L1259.0,121.9 L1260.1,116.7 L1261.1,108.8 L1261.6,101.0 L1260.1,93.1 L1257.5,91.5 L1256.4,97.3 L1253.3,103.6 L1254.3,114.1 L1255.4,121.9 L1254.3,129.8Z" fill="#b3b3b3" fill-rule="evenodd" stroke="#000" stroke-width="1.5" stroke-linejoin="round"/>
<path d="M1140.1,255.5 L1143.2,260.7 L1144.8,260.2 L1149.5,247.6 L1149.5,244.0 L1146.9,243.5 L1143.2,247.1Z" fill="#b3b3b3" fill-rule="evenodd" stroke="#000" stroke-width="1.5" stroke-linejoin="round"/>
<path d="M1139.6,292.2 L1142.7,279.1 L1147.4,278.6 L1151.1,279.1 L1152.7,286.9 L1148.0,293.2 L1148.5,301.6 L1152.7,301.1 L1156.3,303.7 L1160.5,307.9 L1160.5,310.5 L1155.3,307.9 L1150.1,305.3 L1144.8,303.7 L1142.7,300.0 L1142.2,297.4Z" fill="#b3b3b3" fill-rule="evenodd" stroke="#000" stroke-width="1.5" stroke-linejoin="round"/>
<path d="M1149.5,339.3 L1151.1,334.6 L1157.9,334.1 L1160.5,331.5 L1165.8,328.8 L1168.4,324.7 L1172.1,327.8 L1174.2,336.7 L1172.1,343.0 L1167.9,346.7 L1163.2,343.5 L1160.5,340.4 L1155.3,336.2 L1151.1,339.9Z" fill="#b3b3b3" fill-rule="evenodd" stroke="#000" stroke-width="1.5" stroke-linejoin="round"/>
<path d="M1162.6,310.5 L1169.4,318.4 L1165.8,318.4 L1162.1,315.8Z" fill="#b3b3b3" fill-rule="evenodd" stroke="#000" stroke-width="1.5" stroke-linejoin="round"/>
<path d="M1162.1,315.2 L1166.8,322.6 L1165.8,323.6 L1162.6,319.4Z" fill="#b3b3b3" fill-rule="evenodd" stroke="#000" stroke-width="1.5" stroke-linejoin="round"/>
<path d="M1149.5,313.7 L1155.8,317.3 L1152.7,321.0 L1150.1,319.4Z" fill="#b3b3b3" fill-rule="evenodd" stroke="#000" stroke-width="1.5" stroke-linejoin="round"/>
<path d="M1152.7,318.9 L1157.9,321.0 L1156.3,328.3 L1152.2,324.1Z" fill="#b3b3b3" fill-rule="evenodd" stroke="#000" stroke-width="1.5" stroke-linejoin="round"/>
<path d="M1157.4,317.3 L1160.5,322.6 L1159.0,323.6 L1156.9,318.9Z" fill="#b3b3b3" fill-rule="evenodd" stroke="#000" stroke-width="1.5" stroke-linejoin="round"/>
<path d="M1141.7,305.3 L1146.4,306.3 L1145.9,311.6 L1142.2,310.0Z" fill="#b3b3b3" fill-rule="evenodd" stroke="#000" stroke-width="1.5" stroke-linejoin="round"/>
<path d="M1124.9,332.0 L1131.7,326.2 L1137.5,318.9 L1135.9,317.3 L1129.1,324.7 L1123.9,330.9Z" fill="#b3b3b3" fill-rule="evenodd" stroke="#000" stroke-width="1.5" stroke-linejoin="round"/>
<path d="M200.2,126.6 L204.4,121.9 L208.6,116.7 L213.3,110.9 L220.1,105.7 L218.6,111.4 L219.6,116.7 L228.0,116.7 L231.7,123.0 L234.8,127.1 L233.2,131.3 L230.1,131.9 L226.4,128.7 L221.2,130.3 L217.5,126.6 L208.1,126.6Z" fill="#b3b3b3" fill-rule="evenodd" stroke="#000" stroke-width="1.5" stroke-linejoin="round"/>
<path d="M173.0,114.6 L180.8,116.1 L187.7,118.8 L183.5,118.2 L174.6,116.1Z" fill="#b3b3b3" fill-rule="evenodd" stroke="#000" stroke-width="1.5" stroke-linejoin="round"/>
<path d="M86.5,256.0 L94.4,257.6 L102.3,259.2 L107.5,262.8 L114.3,265.5 L122.2,270.2 L120.6,271.7 L115.4,271.7 L104.9,271.7 L106.4,269.1 L102.3,267.0 L99.6,263.4 L94.4,262.8 L89.2,260.7 L86.5,259.7Z" fill="#b3b3b3" fill-rule="evenodd" stroke="#000" stroke-width="1.5" stroke-linejoin="round"/>
<path d="M121.1,279.6 L128.5,280.7 L133.7,281.7 L138.9,282.7 L144.2,280.1 L152.0,279.6 L152.0,277.5 L146.8,275.4 L144.2,272.8 L136.3,271.7 L129.5,271.7 L126.4,273.3 L130.0,276.5 L125.8,278.0Z" fill="#b3b3b3" fill-rule="evenodd" stroke="#000" stroke-width="1.5" stroke-linejoin="round"/>
<path d="M158.8,281.7 L167.2,281.7 L167.2,279.1 L158.8,279.1Z" fill="#b3b3b3" fill-rule="evenodd" stroke="#000" stroke-width="1.5" stroke-linejoin="round"/>
<path d="M100.2,280.7 L107.5,282.2 L111.7,282.2 L110.1,279.6 L103.3,279.1Z" fill="#b3b3b3" fill-rule="evenodd" stroke="#000" stroke-width="1.5" stroke-linejoin="round"/>
<path d="M102.3,236.1 L107.5,236.6 L105.9,239.8 L102.3,237.7Z" fill="#b3b3b3" fill-rule="evenodd" stroke="#000" stroke-width="1.5" stroke-linejoin="round"/>
<path d="M102.8,245.0 L104.4,249.2 L101.7,248.2Z" fill="#b3b3b3" fill-rule="evenodd" stroke="#000" stroke-width="1.5" stroke-linejoin="round"/>
<path d="M1592.8,77.4 L1598.0,73.2 L1602.2,70.6 L1599.6,76.3 L1595.4,78.9Z" fill="#b3b3b3" fill-rule="evenodd" stroke="#000" stroke-width="1.5" stroke-linejoin="round"/>
<path d="M1739.4,122.4 L1749.9,120.3 L1744.7,115.1 L1734.2,109.9 L1729.0,110.9 L1736.8,117.7Z" fill="#b3b3b3" fill-rule="evenodd" stroke="#000" stroke-width="1.5" stroke-linejoin="round"/>
<path d="M1705.4,103.6 L1708.0,93.1 L1704.3,93.6 L1702.8,102.5Z" fill="#b3b3b3" fill-rule="evenodd" stroke="#000" stroke-width="1.5" stroke-linejoin="round"/>
<path d="M1580.7,271.7 L1584.9,273.8 L1583.8,276.5 L1580.2,274.9Z" fill="#b3b3b3" fill-rule="evenodd" stroke="#000" stroke-width="1.5" stroke-linejoin="round"/>
<path d="M1577.0,266.5 L1579.7,267.6 L1577.6,268.1Z" fill="#b3b3b3" fill-rule="evenodd" stroke="#000" stroke-width="1.5" stroke-linejoin="round"/>
<path d="M1573.4,264.9 L1574.9,265.5 L1573.4,266.0Z" fill="#b3b3b3" fill-rule="evenodd" stroke="#000" stroke-width="1.5" stroke-linejoin="round"/>
<path d="M1568.1,262.8 L1570.7,263.9 L1568.7,264.4Z" fill="#b3b3b3" fill-rule="evenodd" stroke="#000" stroke-width="1.5" stroke-linejoin="round"/>
<path d="M1560.3,259.7 L1562.4,260.7 L1560.8,261.3Z" fill="#b3b3b3" fill-rule="evenodd" stroke="#000" stroke-width="1.5" stroke-linejoin="round"/>
<path d="M1275.8,146.0 L1280.0,143.9 L1278.4,145.5Z" fill="#b3b3b3" fill-rule="evenodd" stroke="#000" stroke-width="1.5" stroke-linejoin="round"/>
<path d="M1283.7,141.3 L1290.5,138.1 L1288.9,139.7Z" fill="#b3b3b3" fill-rule="evenodd" stroke="#000" stroke-width="1.5" stroke-linejoin="round"/>
<path d="M1294.1,135.0 L1298.8,133.4 L1297.8,134.5Z" fill="#b3b3b3" fill-rule="evenodd" stroke="#000" stroke-width="1.5" stroke-linejoin="round"/>
<path d="M1304.6,130.3 L1308.3,128.7 L1307.2,129.8Z" fill="#b3b3b3" fill-rule="evenodd" stroke="#000" stroke-width="1.5" stroke-linejoin="round"/>
<path d="M1315.1,123.0 L1318.8,120.3 L1317.7,121.9Z" fill="#b3b3b3" fill-rule="evenodd" stroke="#000" stroke-width="1.5" stroke-linejoin="round"/>
<path d="M1324.5,115.1 L1329.2,110.9 L1326.1,113.5Z" fill="#b3b3b3" fill-rule="evenodd" stroke="#000" stroke-width="1.5" stroke-linejoin="round"/>
<path d="M1413.1,98.9 L1419.3,98.9 L1416.2,99.9Z" fill="#b3b3b3" fill-rule="evenodd" stroke="#000" stroke-width="1.5" stroke-linejoin="round"/>
<path d="M1440.8,104.6 L1446.1,104.1 L1443.4,105.1Z" fill="#b3b3b3" fill-rule="evenodd" stroke="#000" stroke-width="1.5" stroke-linejoin="round"/>
<path d="M1461.8,105.1 L1467.0,104.1 L1464.4,105.7Z" fill="#b3b3b3" fill-rule="evenodd" stroke="#000" stroke-width="1.5" stroke-linejoin="round"/>
<path d="M1472.3,103.6 L1476.4,102.5 L1474.9,104.1Z" fill="#b3b3b3" fill-rule="evenodd" stroke="#000" stroke-width="1.5" stroke-linejoin="round"/>
<path d="M1485.4,101.5 L1489.5,100.4 L1488.0,102.0Z" fill="#b3b3b3" fill-rule="evenodd" stroke="#000" stroke-width="1.5" stroke-linejoin="round"/>
<path d="M1508.9,99.4 L1517.8,95.7 L1516.8,97.3 L1510.5,100.4Z" fill="#b3b3b3" fill-rule="evenodd" stroke="#000" stroke-width="1.5" stroke-linejoin="round"/>
<path d="M1519.9,95.7 L1526.2,93.6 L1524.6,95.2Z" fill="#b3b3b3" fill-rule="evenodd" stroke="#000" stroke-width="1.5" stroke-linejoin="round"/>
<path d="M189.7,644.8 L199.2,644.8 L207.0,645.8 L204.4,649.5 L193.9,648.4Z" fill="#b3b3b3" fill-rule="evenodd" stroke="#000" stroke-width="1.5" stroke-linejoin="round"/>
<path d="M311.8,658.9 L319.7,660.0 L323.3,663.1 L320.7,661.5Z" fill="#b3b3b3" fill-rule="evenodd" stroke="#000" stroke-width="1.5" stroke-linejoin="round"/>
<path d="M996.6,304.7 L998.1,307.9 L996.6,315.8 L995.5,310.5Z" fill="#b3b3b3" fill-rule="evenodd" stroke="#000" stroke-width="1.5" stroke-linejoin="round"/>
<path d="M120.6,255.5 L123.2,257.1 L121.1,258.6Z" fill="#b3b3b3" fill-rule="evenodd" stroke="#000" stroke-width="1.5" stroke-linejoin="round"/>
<path d="M124.3,261.8 L129.5,259.7 L128.5,261.3Z" fill="#b3b3b3" fill-rule="evenodd" stroke="#000" stroke-width="1.5" stroke-linejoin="round"/>
<path d="M186.1,290.1 L190.3,291.1 L188.2,292.7Z" fill="#b3b3b3" fill-rule="evenodd" stroke="#000" stroke-width="1.5" stroke-linejoin="round"/>
<path d="M190.3,297.9 L192.4,300.0 L190.8,300.6Z" fill="#b3b3b3" fill-rule="evenodd" stroke="#000" stroke-width="1.5" stroke-linejoin="round"/>
<path d="M790.1,310.0 L793.8,309.5 L796.9,310.5 L793.8,311.6Z" fill="#b3b3b3" fill-rule="evenodd" stroke="#000" stroke-width="1.5" stroke-linejoin="round"/>
<path d="M1001.3,338.8 L1002.8,339.3 L1002.3,340.4Z" fill="#b3b3b3" fill-rule="evenodd" stroke="#000" stroke-width="1.5" stroke-linejoin="round"/>
<path d="M536.6,51.2 L536.6,56.4 L537.1,61.7 L538.7,65.3 L540.2,67.4 L542.3,71.1 L547.6,72.1 L552.8,71.1 L558.1,67.9 L564.3,66.9 L566.4,62.7 L568.0,65.9 L569.6,67.4 L570.1,70.0 L572.7,73.7 L575.3,77.4 L576.9,80.5 L578.5,85.2 L585.3,85.8 L586.3,82.6 L594.2,82.1 L596.8,77.4 L597.9,73.2 L598.9,69.0 L604.2,67.4 L608.9,64.8 L606.8,61.7 L602.6,58.5 L601.5,56.4 L601.5,51.2 L623.0,51.2 L623.0,58.5 L626.2,60.1 L630.9,62.2 L636.6,60.6 L644.5,60.1 L650.3,59.0 L657.6,59.0 L662.8,60.6 L669.1,62.2 L662.8,62.2 L657.6,64.3 L649.7,64.3 L641.9,63.8 L636.6,65.3 L634.0,66.4 L633.5,69.0 L635.6,70.6 L639.3,70.6 L638.2,73.2 L638.7,76.3 L636.1,77.4 L633.0,76.3 L629.3,74.2 L623.5,75.3 L620.9,78.4 L621.4,82.6 L622.0,86.8 L618.3,88.4 L614.6,91.0 L608.3,91.0 L605.2,88.9 L597.3,90.5 L589.5,92.6 L584.2,93.6 L579.0,91.0 L575.3,92.0 L568.5,93.1 L567.5,90.5 L563.3,90.0 L564.9,87.3 L567.0,81.6 L564.9,78.9 L566.4,73.7 L562.8,74.8 L556.0,76.9 L553.3,80.0 L553.3,85.2 L556.0,87.9 L556.5,91.5 L557.5,93.6 L552.8,95.2 L547.6,96.2 L542.3,96.2 L537.1,98.3 L534.5,102.5 L530.3,106.2 L526.6,107.8 L523.5,108.8 L519.3,109.3 L519.3,113.0 L513.5,115.1 L510.9,116.7 L505.7,117.2 L503.6,115.6 L500.9,115.6 L502.5,121.4 L495.2,120.3 L486.3,122.4 L488.4,125.6 L497.8,128.2 L500.4,130.8 L504.6,135.0 L504.1,140.8 L503.0,148.1 L500.4,148.6 L492.6,148.1 L484.7,147.6 L474.2,147.6 L469.0,147.1 L462.2,150.7 L464.3,156.0 L465.3,161.2 L463.7,166.4 L461.1,172.7 L464.8,174.8 L464.3,179.5 L464.3,182.2 L470.0,182.2 L474.8,181.1 L477.4,183.2 L479.5,186.9 L481.6,187.4 L484.7,185.3 L487.8,183.7 L495.2,183.7 L500.4,183.2 L502.5,180.1 L507.2,179.0 L509.3,175.3 L511.9,172.7 L509.3,169.1 L511.9,165.4 L515.6,161.2 L522.4,159.6 L527.7,156.5 L527.1,153.3 L526.6,149.7 L531.9,148.1 L537.1,148.6 L542.3,150.2 L547.6,148.1 L550.2,146.5 L553.9,145.5 L557.0,143.4 L560.7,144.4 L564.3,146.0 L565.9,150.7 L569.6,153.3 L573.8,156.5 L578.0,159.6 L582.7,160.2 L584.8,162.2 L588.4,163.3 L589.5,165.4 L592.6,166.4 L594.2,169.1 L595.2,172.2 L593.2,175.9 L595.2,176.9 L597.9,174.8 L600.5,172.2 L601.0,169.6 L597.9,166.4 L599.4,164.3 L602.6,164.9 L607.3,166.4 L607.8,165.4 L604.7,162.8 L599.4,160.2 L594.7,158.6 L590.5,156.5 L585.3,153.9 L582.2,148.6 L576.9,145.0 L574.8,141.3 L576.4,137.6 L579.5,136.6 L582.7,137.1 L583.7,140.8 L586.9,139.2 L591.1,143.9 L594.7,148.1 L600.0,150.7 L605.2,152.8 L610.4,155.4 L612.5,157.0 L613.1,161.2 L612.5,164.9 L615.7,168.5 L619.3,171.7 L621.4,175.3 L624.1,177.4 L624.6,182.2 L628.3,184.8 L630.3,182.2 L632.4,185.3 L631.4,180.6 L633.5,177.4 L630.3,175.3 L634.5,174.8 L636.6,175.9 L633.0,171.7 L630.3,168.5 L629.3,164.9 L633.0,165.4 L636.1,167.0 L637.7,164.9 L635.6,162.2 L639.8,161.7 L644.5,161.7 L648.2,163.3 L648.2,166.4 L650.3,170.1 L651.8,174.3 L653.4,177.4 L655.0,181.6 L658.6,183.7 L662.8,184.3 L668.1,186.3 L671.2,183.2 L675.9,183.7 L681.2,186.9 L687.5,186.3 L692.2,183.2 L699.0,183.2 L699.5,188.4 L698.5,192.1 L699.0,195.3 L696.9,198.4 L694.8,203.1 L692.7,208.4 L690.6,212.0 L683.8,213.1 L680.1,212.0 L675.9,211.0 L669.6,211.5 L662.8,214.1 L653.9,211.5 L642.9,210.4 L636.6,208.4 L631.9,205.2 L626.2,203.6 L620.9,204.2 L616.2,207.3 L615.7,213.6 L610.4,217.3 L605.2,214.6 L596.8,212.5 L591.1,207.3 L583.7,204.7 L576.9,204.2 L571.1,202.6 L568.0,200.0 L564.9,198.9 L563.8,196.3 L567.5,192.6 L568.5,189.5 L566.4,185.3 L569.1,182.2 L564.3,181.1 L560.7,180.6 L554.9,182.7 L547.6,182.2 L539.7,183.7 L531.9,182.7 L526.6,183.2 L521.4,184.3 L516.1,185.3 L508.3,187.9 L504.6,189.0 L499.4,192.1 L492.0,191.1 L486.8,191.6 L483.1,188.4 L480.0,188.4 L478.4,190.0 L476.3,195.3 L471.6,199.4 L465.8,202.6 L462.2,205.7 L459.6,211.5 L460.6,216.7 L457.5,221.4 L453.3,225.1 L448.0,228.3 L442.8,231.4 L440.2,237.2 L434.9,242.4 L432.3,247.6 L427.1,252.4 L425.5,258.1 L422.4,263.4 L421.3,267.0 L424.5,272.3 L426.0,279.1 L425.0,286.9 L423.9,292.2 L420.8,298.5 L422.9,302.7 L423.4,307.9 L422.9,311.6 L427.1,315.8 L432.3,319.4 L437.6,323.6 L441.2,327.8 L445.4,334.6 L450.7,339.3 L455.9,343.5 L461.1,347.2 L469.0,351.9 L471.6,352.9 L476.8,351.9 L484.7,349.3 L489.9,348.8 L495.2,349.3 L500.4,350.9 L505.7,348.8 L510.9,346.7 L516.1,344.6 L521.4,343.0 L526.6,342.5 L531.9,343.0 L537.1,345.6 L539.7,349.8 L542.3,353.5 L547.6,352.9 L552.8,352.4 L555.4,351.4 L558.1,355.0 L562.2,360.3 L562.8,365.5 L561.2,370.8 L559.6,376.0 L558.1,381.2 L560.7,386.5 L565.9,391.7 L571.1,397.0 L574.8,402.2 L575.3,407.4 L578.5,415.3 L581.1,423.2 L580.6,431.0 L583.2,436.2 L578.0,443.1 L575.3,449.3 L572.7,458.8 L572.7,466.1 L576.4,472.9 L581.6,481.8 L586.3,491.3 L586.9,499.1 L589.0,509.6 L590.5,516.4 L594.7,523.7 L598.9,530.6 L601.5,537.4 L606.2,542.6 L607.3,550.5 L607.3,554.6 L612.0,557.8 L615.7,558.3 L620.9,556.2 L628.8,554.1 L636.6,554.6 L644.5,554.1 L649.7,552.6 L655.0,549.9 L660.2,546.3 L665.5,541.0 L670.2,535.8 L673.3,530.6 L678.5,526.9 L681.2,522.7 L682.7,517.5 L681.7,512.2 L686.4,508.5 L694.3,505.4 L696.9,499.1 L696.4,491.3 L694.3,485.5 L692.7,480.8 L696.9,475.5 L702.1,471.9 L707.4,467.7 L715.2,462.4 L721.5,457.2 L723.6,452.0 L723.1,441.5 L722.6,433.6 L718.9,428.4 L716.3,420.5 L716.8,412.7 L714.2,407.4 L716.3,402.2 L718.9,397.0 L721.5,391.7 L725.7,386.5 L729.9,381.2 L735.1,373.4 L741.4,368.1 L749.3,364.5 L756.1,357.7 L762.4,349.8 L767.6,340.9 L771.8,331.5 L777.0,321.0 L779.1,314.2 L775.5,313.1 L770.2,316.8 L765.0,317.3 L757.1,319.4 L749.3,321.0 L741.4,321.5 L737.7,315.8 L736.2,310.5 L733.0,305.3 L728.3,298.5 L723.1,294.3 L718.9,289.6 L715.2,281.7 L712.6,273.8 L707.4,266.0 L705.3,260.7 L702.1,252.9 L697.4,245.0 L694.3,237.2 L690.1,231.4 L686.4,228.3 L683.8,223.0 L681.2,218.8 L682.2,220.9 L684.8,226.2 L690.1,230.4 L691.6,226.7 L693.7,221.4 L694.3,229.3 L696.9,233.0 L702.1,239.8 L705.8,246.1 L710.0,250.3 L714.2,258.1 L715.7,263.4 L718.4,271.2 L723.1,276.5 L726.7,282.7 L732.0,291.1 L735.1,298.5 L737.2,305.3 L738.8,309.5 L744.0,308.9 L749.3,306.8 L757.1,303.7 L765.0,302.7 L770.2,299.0 L778.1,296.4 L784.4,293.7 L791.2,288.5 L799.0,285.9 L801.7,282.7 L806.9,281.7 L809.5,277.5 L813.7,273.8 L817.4,268.6 L821.6,263.9 L824.2,258.1 L820.0,252.9 L816.3,251.8 L812.1,250.8 L808.5,247.6 L806.4,242.4 L805.3,238.2 L801.7,241.9 L796.4,248.7 L791.2,249.2 L785.9,249.2 L781.2,248.7 L780.2,242.4 L778.1,239.8 L776.0,244.0 L773.4,240.3 L773.4,236.1 L770.2,233.5 L765.5,228.8 L762.4,221.4 L765.0,218.8 L767.6,217.3 L772.8,218.3 L776.0,223.0 L780.7,229.8 L785.9,231.9 L791.2,235.6 L798.0,237.2 L804.3,234.5 L809.5,237.2 L812.1,241.4 L820.0,242.9 L833.1,244.0 L843.6,243.5 L848.8,244.0 L856.7,242.9 L860.9,245.5 L864.5,250.3 L868.7,252.9 L871.3,256.6 L877.6,256.0 L875.0,259.2 L879.7,266.0 L885.5,267.0 L891.3,264.4 L892.3,271.2 L892.8,276.5 L894.4,284.3 L896.0,292.2 L898.6,298.5 L901.2,305.3 L902.8,310.5 L906.4,315.8 L909.1,321.0 L911.2,326.2 L913.8,331.5 L916.9,333.6 L920.6,329.4 L924.8,327.3 L927.4,322.0 L929.5,319.4 L929.0,313.1 L931.1,305.3 L930.5,296.4 L935.3,292.2 L941.5,289.0 L943.1,285.9 L948.4,281.7 L953.6,276.5 L958.8,272.3 L964.1,270.2 L966.7,266.0 L970.9,262.3 L974.6,262.3 L979.8,261.3 L984.5,259.2 L987.6,257.6 L991.8,258.6 L992.9,264.9 L994.5,268.1 L998.1,272.3 L1001.8,276.5 L1004.9,280.1 L1006.0,285.4 L1004.9,291.1 L1008.1,293.2 L1011.2,292.7 L1016.5,289.0 L1020.7,289.6 L1022.8,294.8 L1024.3,302.7 L1025.9,307.9 L1028.0,314.7 L1026.9,321.0 L1025.9,328.8 L1025.9,334.1 L1028.0,336.7 L1032.2,340.4 L1036.4,344.6 L1036.9,349.8 L1039.5,355.0 L1041.6,360.3 L1044.8,363.4 L1049.5,367.1 L1053.1,369.2 L1056.8,368.7 L1054.7,362.9 L1052.6,355.0 L1052.6,349.8 L1047.9,344.6 L1042.7,340.4 L1039.0,339.3 L1036.4,334.1 L1034.3,327.8 L1030.6,323.6 L1030.6,318.4 L1032.7,313.1 L1034.8,308.9 L1034.8,305.8 L1039.5,305.8 L1039.5,310.0 L1045.3,312.1 L1048.9,315.2 L1050.5,318.4 L1053.1,320.5 L1057.9,321.5 L1059.9,325.7 L1059.9,330.9 L1062.0,330.4 L1068.9,326.2 L1070.9,322.0 L1075.7,320.5 L1080.9,316.8 L1083.0,313.1 L1083.5,307.9 L1082.5,302.7 L1080.4,296.4 L1076.7,291.1 L1072.5,287.5 L1068.9,282.7 L1064.7,277.5 L1065.2,272.3 L1069.4,268.6 L1074.1,264.4 L1079.3,262.8 L1084.6,263.4 L1086.1,266.0 L1088.8,268.6 L1090.3,264.9 L1095.0,263.4 L1100.3,261.3 L1105.5,259.7 L1109.2,259.2 L1113.4,257.1 L1121.2,256.0 L1126.5,252.4 L1130.7,247.6 L1135.9,242.9 L1137.5,238.2 L1140.6,234.5 L1143.8,229.3 L1147.4,225.6 L1150.1,219.9 L1147.4,216.2 L1149.5,213.6 L1145.9,209.4 L1143.8,205.7 L1142.2,201.5 L1140.6,196.3 L1135.9,193.7 L1137.0,190.0 L1142.2,186.9 L1147.4,183.2 L1152.7,181.1 L1147.4,179.5 L1142.2,178.5 L1135.9,181.1 L1133.3,178.5 L1131.7,175.9 L1127.0,172.7 L1128.1,170.1 L1131.7,170.6 L1135.9,169.1 L1139.6,166.4 L1144.8,162.2 L1150.1,163.3 L1146.9,167.5 L1147.4,171.7 L1151.6,169.1 L1157.9,167.5 L1162.1,167.0 L1165.8,169.1 L1167.3,173.8 L1165.8,176.9 L1171.0,178.5 L1174.7,182.2 L1172.6,188.4 L1173.6,195.3 L1178.9,194.7 L1184.1,192.6 L1188.3,191.1 L1189.4,184.8 L1188.8,179.5 L1184.1,174.3 L1181.5,169.1 L1178.9,167.5 L1184.1,164.9 L1190.4,161.7 L1190.9,157.0 L1195.6,153.3 L1199.8,150.7 L1204.0,149.7 L1208.7,151.8 L1215.5,148.1 L1220.8,143.9 L1227.6,138.7 L1232.8,132.4 L1236.5,127.1 L1239.1,121.9 L1245.4,116.7 L1247.0,109.9 L1251.7,102.5 L1249.6,98.3 L1244.4,95.7 L1236.5,94.1 L1231.3,95.2 L1228.6,93.1 L1232.8,90.0 L1236.5,85.2 L1241.7,81.0 L1247.0,74.8 L1254.8,67.9 L1262.7,65.3 L1273.2,64.8 L1283.7,65.9 L1291.5,63.8 L1299.4,64.3 L1307.2,66.9 L1315.1,65.9 L1320.3,63.8 L1322.9,60.6 L1324.5,51.2 L1353.9,51.2 L1353.9,61.7 L1343.9,67.9 L1336.0,73.2 L1329.2,77.4 L1325.6,82.6 L1326.1,90.5 L1327.7,98.3 L1330.8,106.2 L1331.9,109.3 L1336.0,106.2 L1341.3,101.0 L1348.1,96.8 L1349.1,92.0 L1358.6,88.9 L1360.1,82.6 L1366.4,81.0 L1363.3,74.8 L1366.4,69.5 L1367.5,62.7 L1368.0,51.2Z M655.0,153.3 L657.6,148.1 L660.7,143.9 L666.0,139.2 L670.7,133.4 L675.9,131.9 L681.2,134.5 L686.4,136.1 L681.2,138.1 L686.4,142.3 L691.6,141.3 L696.9,139.7 L702.1,138.7 L703.7,138.1 L707.4,131.9 L715.2,128.7 L712.6,132.4 L710.0,135.0 L707.4,138.7 L708.9,141.8 L712.6,143.9 L717.8,146.5 L723.1,150.2 L728.3,156.0 L728.8,158.1 L723.1,161.2 L717.8,160.7 L712.6,161.7 L707.4,160.7 L702.1,159.6 L696.9,157.5 L691.6,156.0 L686.4,156.0 L681.2,157.0 L675.9,159.6 L670.7,160.7 L663.9,160.2 L658.6,158.6 L657.6,156.0Z M767.6,132.4 L772.8,131.3 L780.7,129.8 L788.6,130.8 L789.6,135.0 L788.6,138.7 L779.7,142.9 L778.1,145.5 L783.3,153.3 L787.5,157.0 L788.0,161.2 L792.8,163.3 L789.6,169.1 L793.3,174.3 L793.8,179.5 L791.2,182.7 L783.3,183.7 L778.1,183.2 L772.8,180.6 L767.6,179.0 L767.1,174.8 L768.7,170.1 L770.2,165.4 L774.4,164.9 L770.2,163.3 L767.6,159.6 L765.0,157.0 L759.8,151.8 L759.8,148.1 L757.1,145.5 L758.2,141.3 L759.8,137.6 L765.0,135.0Z M816.3,137.6 L821.0,132.9 L827.9,132.9 L833.1,137.6 L834.7,143.9 L830.5,147.6 L824.2,146.5 L817.9,144.4Z" fill="#c4ae85" fill-rule="evenodd" clip-path="url(#cpCHN)" stroke="#000" stroke-width="1.5" stroke-linejoin="round"/>
<path d="M536.6,51.2 L536.6,56.4 L537.1,61.7 L538.7,65.3 L540.2,67.4 L542.3,71.1 L547.6,72.1 L552.8,71.1 L558.1,67.9 L564.3,66.9 L566.4,62.7 L568.0,65.9 L569.6,67.4 L570.1,70.0 L572.7,73.7 L575.3,77.4 L576.9,80.5 L578.5,85.2 L585.3,85.8 L586.3,82.6 L594.2,82.1 L596.8,77.4 L597.9,73.2 L598.9,69.0 L604.2,67.4 L608.9,64.8 L606.8,61.7 L602.6,58.5 L601.5,56.4 L601.5,51.2 L623.0,51.2 L623.0,58.5 L626.2,60.1 L630.9,62.2 L636.6,60.6 L644.5,60.1 L650.3,59.0 L657.6,59.0 L662.8,60.6 L669.1,62.2 L662.8,62.2 L657.6,64.3 L649.7,64.3 L641.9,63.8 L636.6,65.3 L634.0,66.4 L633.5,69.0 L635.6,70.6 L639.3,70.6 L638.2,73.2 L638.7,76.3 L636.1,77.4 L633.0,76.3 L629.3,74.2 L623.5,75.3 L620.9,78.4 L621.4,82.6 L622.0,86.8 L618.3,88.4 L614.6,91.0 L608.3,91.0 L605.2,88.9 L597.3,90.5 L589.5,92.6 L584.2,93.6 L579.0,91.0 L575.3,92.0 L568.5,93.1 L567.5,90.5 L563.3,90.0 L564.9,87.3 L567.0,81.6 L564.9,78.9 L566.4,73.7 L562.8,74.8 L556.0,76.9 L553.3,80.0 L553.3,85.2 L556.0,87.9 L556.5,91.5 L557.5,93.6 L552.8,95.2 L547.6,96.2 L542.3,96.2 L537.1,98.3 L534.5,102.5 L530.3,106.2 L526.6,107.8 L523.5,108.8 L519.3,109.3 L519.3,113.0 L513.5,115.1 L510.9,116.7 L505.7,117.2 L503.6,115.6 L500.9,115.6 L502.5,121.4 L495.2,120.3 L486.3,122.4 L488.4,125.6 L497.8,128.2 L500.4,130.8 L504.6,135.0 L504.1,140.8 L503.0,148.1 L500.4,148.6 L492.6,148.1 L484.7,147.6 L474.2,147.6 L469.0,147.1 L462.2,150.7 L464.3,156.0 L465.3,161.2 L463.7,166.4 L461.1,172.7 L464.8,174.8 L464.3,179.5 L464.3,182.2 L470.0,182.2 L474.8,181.1 L477.4,183.2 L479.5,186.9 L481.6,187.4 L484.7,185.3 L487.8,183.7 L495.2,183.7 L500.4,183.2 L502.5,180.1 L507.2,179.0 L509.3,175.3 L511.9,172.7 L509.3,169.1 L511.9,165.4 L515.6,161.2 L522.4,159.6 L527.7,156.5 L527.1,153.3 L526.6,149.7 L531.9,148.1 L537.1,148.6 L542.3,150.2 L547.6,148.1 L550.2,146.5 L553.9,145.5 L557.0,143.4 L560.7,144.4 L564.3,146.0 L565.9,150.7 L569.6,153.3 L573.8,156.5 L578.0,159.6 L582.7,160.2 L584.8,162.2 L588.4,163.3 L589.5,165.4 L592.6,166.4 L594.2,169.1 L595.2,172.2 L593.2,175.9 L595.2,176.9 L597.9,174.8 L600.5,172.2 L601.0,169.6 L597.9,166.4 L599.4,164.3 L602.6,164.9 L607.3,166.4 L607.8,165.4 L604.7,162.8 L599.4,160.2 L594.7,158.6 L590.5,156.5 L585.3,153.9 L582.2,148.6 L576.9,145.0 L574.8,141.3 L576.4,137.6 L579.5,136.6 L582.7,137.1 L583.7,140.8 L586.9,139.2 L591.1,143.9 L594.7,148.1 L600.0,150.7 L605.2,152.8 L610.4,155.4 L612.5,157.0 L613.1,161.2 L612.5,164.9 L615.7,168.5 L619.3,171.7 L621.4,175.3 L624.1,177.4 L624.6,182.2 L628.3,184.8 L630.3,182.2 L632.4,185.3 L631.4,180.6 L633.5,177.4 L630.3,175.3 L634.5,174.8 L636.6,175.9 L633.0,171.7 L630.3,168.5 L629.3,164.9 L633.0,165.4 L636.1,167.0 L637.7,164.9 L635.6,162.2 L639.8,161.7 L644.5,161.7 L648.2,163.3 L648.2,166.4 L650.3,170.1 L651.8,174.3 L653.4,177.4 L655.0,181.6 L658.6,183.7 L662.8,184.3 L668.1,186.3 L671.2,183.2 L675.9,183.7 L681.2,186.9 L687.5,186.3 L692.2,183.2 L699.0,183.2 L699.5,188.4 L698.5,192.1 L699.0,195.3 L696.9,198.4 L694.8,203.1 L692.7,208.4 L690.6,212.0 L683.8,213.1 L680.1,212.0 L675.9,211.0 L669.6,211.5 L662.8,214.1 L653.9,211.5 L642.9,210.4 L636.6,208.4 L631.9,205.2 L626.2,203.6 L620.9,204.2 L616.2,207.3 L615.7,213.6 L610.4,217.3 L605.2,214.6 L596.8,212.5 L591.1,207.3 L583.7,204.7 L576.9,204.2 L571.1,202.6 L568.0,200.0 L564.9,198.9 L563.8,196.3 L567.5,192.6 L568.5,189.5 L566.4,185.3 L569.1,182.2 L564.3,181.1 L560.7,180.6 L554.9,182.7 L547.6,182.2 L539.7,183.7 L531.9,182.7 L526.6,183.2 L521.4,184.3 L516.1,185.3 L508.3,187.9 L504.6,189.0 L499.4,192.1 L492.0,191.1 L486.8,191.6 L483.1,188.4 L480.0,188.4 L478.4,190.0 L476.3,195.3 L471.6,199.4 L465.8,202.6 L462.2,205.7 L459.6,211.5 L460.6,216.7 L457.5,221.4 L453.3,225.1 L448.0,228.3 L442.8,231.4 L440.2,237.2 L434.9,242.4 L432.3,247.6 L427.1,252.4 L425.5,258.1 L422.4,263.4 L421.3,267.0 L424.5,272.3 L426.0,279.1 L425.0,286.9 L423.9,292.2 L420.8,298.5 L422.9,302.7 L423.4,307.9 L422.9,311.6 L427.1,315.8 L432.3,319.4 L437.6,323.6 L441.2,327.8 L445.4,334.6 L450.7,339.3 L455.9,343.5 L461.1,347.2 L469.0,351.9 L471.6,352.9 L476.8,351.9 L484.7,349.3 L489.9,348.8 L495.2,349.3 L500.4,350.9 L505.7,348.8 L510.9,346.7 L516.1,344.6 L521.4,343.0 L526.6,342.5 L531.9,343.0 L537.1,345.6 L539.7,349.8 L542.3,353.5 L547.6,352.9 L552.8,352.4 L555.4,351.4 L558.1,355.0 L562.2,360.3 L562.8,365.5 L561.2,370.8 L559.6,376.0 L558.1,381.2 L560.7,386.5 L565.9,391.7 L571.1,397.0 L574.8,402.2 L575.3,407.4 L578.5,415.3 L581.1,423.2 L580.6,431.0 L583.2,436.2 L578.0,443.1 L575.3,449.3 L572.7,458.8 L572.7,466.1 L576.4,472.9 L581.6,481.8 L586.3,491.3 L586.9,499.1 L589.0,509.6 L590.5,516.4 L594.7,523.7 L598.9,530.6 L601.5,537.4 L606.2,542.6 L607.3,550.5 L607.3,554.6 L612.0,557.8 L615.7,558.3 L620.9,556.2 L628.8,554.1 L636.6,554.6 L644.5,554.1 L649.7,552.6 L655.0,549.9 L660.2,546.3 L665.5,541.0 L670.2,535.8 L673.3,530.6 L678.5,526.9 L681.2,522.7 L682.7,517.5 L681.7,512.2 L686.4,508.5 L694.3,505.4 L696.9,499.1 L696.4,491.3 L694.3,485.5 L692.7,480.8 L696.9,475.5 L702.1,471.9 L707.4,467.7 L715.2,462.4 L721.5,457.2 L723.6,452.0 L723.1,441.5 L722.6,433.6 L718.9,428.4 L716.3,420.5 L716.8,412.7 L714.2,407.4 L716.3,402.2 L718.9,397.0 L721.5,391.7 L725.7,386.5 L729.9,381.2 L735.1,373.4 L741.4,368.1 L749.3,364.5 L756.1,357.7 L762.4,349.8 L767.6,340.9 L771.8,331.5 L777.0,321.0 L779.1,314.2 L775.5,313.1 L770.2,316.8 L765.0,317.3 L757.1,319.4 L749.3,321.0 L741.4,321.5 L737.7,315.8 L736.2,310.5 L733.0,305.3 L728.3,298.5 L723.1,294.3 L718.9,289.6 L715.2,281.7 L712.6,273.8 L707.4,266.0 L705.3,260.7 L702.1,252.9 L697.4,245.0 L694.3,237.2 L690.1,231.4 L686.4,228.3 L683.8,223.0 L681.2,218.8 L682.2,220.9 L684.8,226.2 L690.1,230.4 L691.6,226.7 L693.7,221.4 L694.3,229.3 L696.9,233.0 L702.1,239.8 L705.8,246.1 L710.0,250.3 L714.2,258.1 L715.7,263.4 L718.4,271.2 L723.1,276.5 L726.7,282.7 L732.0,291.1 L735.1,298.5 L737.2,305.3 L738.8,309.5 L744.0,308.9 L749.3,306.8 L757.1,303.7 L765.0,302.7 L770.2,299.0 L778.1,296.4 L784.4,293.7 L791.2,288.5 L799.0,285.9 L801.7,282.7 L806.9,281.7 L809.5,277.5 L813.7,273.8 L817.4,268.6 L821.6,263.9 L824.2,258.1 L820.0,252.9 L816.3,251.8 L812.1,250.8 L808.5,247.6 L806.4,242.4 L805.3,238.2 L801.7,241.9 L796.4,248.7 L791.2,249.2 L785.9,249.2 L781.2,248.7 L780.2,242.4 L778.1,239.8 L776.0,244.0 L773.4,240.3 L773.4,236.1 L770.2,233.5 L765.5,228.8 L762.4,221.4 L765.0,218.8 L767.6,217.3 L772.8,218.3 L776.0,223.0 L780.7,229.8 L785.9,231.9 L791.2,235.6 L798.0,237.2 L804.3,234.5 L809.5,237.2 L812.1,241.4 L820.0,242.9 L833.1,244.0 L843.6,243.5 L848.8,244.0 L856.7,242.9 L860.9,245.5 L864.5,250.3 L868.7,252.9 L871.3,256.6 L877.6,256.0 L875.0,259.2 L879.7,266.0 L885.5,267.0 L891.3,264.4 L892.3,271.2 L892.8,276.5 L894.4,284.3 L896.0,292.2 L898.6,298.5 L901.2,305.3 L902.8,310.5 L906.4,315.8 L909.1,321.0 L911.2,326.2 L913.8,331.5 L916.9,333.6 L920.6,329.4 L924.8,327.3 L927.4,322.0 L929.5,319.4 L929.0,313.1 L931.1,305.3 L930.5,296.4 L935.3,292.2 L941.5,289.0 L943.1,285.9 L948.4,281.7 L953.6,276.5 L958.8,272.3 L964.1,270.2 L966.7,266.0 L970.9,262.3 L974.6,262.3 L979.8,261.3 L984.5,259.2 L987.6,257.6 L991.8,258.6 L992.9,264.9 L994.5,268.1 L998.1,272.3 L1001.8,276.5 L1004.9,280.1 L1006.0,285.4 L1004.9,291.1 L1008.1,293.2 L1011.2,292.7 L1016.5,289.0 L1020.7,289.6 L1022.8,294.8 L1024.3,302.7 L1025.9,307.9 L1028.0,314.7 L1026.9,321.0 L1025.9,328.8 L1025.9,334.1 L1028.0,336.7 L1032.2,340.4 L1036.4,344.6 L1036.9,349.8 L1039.5,355.0 L1041.6,360.3 L1044.8,363.4 L1049.5,367.1 L1053.1,369.2 L1056.8,368.7 L1054.7,362.9 L1052.6,355.0 L1052.6,349.8 L1047.9,344.6 L1042.7,340.4 L1039.0,339.3 L1036.4,334.1 L1034.3,327.8 L1030.6,323.6 L1030.6,318.4 L1032.7,313.1 L1034.8,308.9 L1034.8,305.8 L1039.5,305.8 L1039.5,310.0 L1045.3,312.1 L1048.9,315.2 L1050.5,318.4 L1053.1,320.5 L1057.9,321.5 L1059.9,325.7 L1059.9,330.9 L1062.0,330.4 L1068.9,326.2 L1070.9,322.0 L1075.7,320.5 L1080.9,316.8 L1083.0,313.1 L1083.5,307.9 L1082.5,302.7 L1080.4,296.4 L1076.7,291.1 L1072.5,287.5 L1068.9,282.7 L1064.7,277.5 L1065.2,272.3 L1069.4,268.6 L1074.1,264.4 L1079.3,262.8 L1084.6,263.4 L1086.1,266.0 L1088.8,268.6 L1090.3,264.9 L1095.0,263.4 L1100.3,261.3 L1105.5,259.7 L1109.2,259.2 L1113.4,257.1 L1121.2,256.0 L1126.5,252.4 L1130.7,247.6 L1135.9,242.9 L1137.5,238.2 L1140.6,234.5 L1143.8,229.3 L1147.4,225.6 L1150.1,219.9 L1147.4,216.2 L1149.5,213.6 L1145.9,209.4 L1143.8,205.7 L1142.2,201.5 L1140.6,196.3 L1135.9,193.7 L1137.0,190.0 L1142.2,186.9 L1147.4,183.2 L1152.7,181.1 L1147.4,179.5 L1142.2,178.5 L1135.9,181.1 L1133.3,178.5 L1131.7,175.9 L1127.0,172.7 L1128.1,170.1 L1131.7,170.6 L1135.9,169.1 L1139.6,166.4 L1144.8,162.2 L1150.1,163.3 L1146.9,167.5 L1147.4,171.7 L1151.6,169.1 L1157.9,167.5 L1162.1,167.0 L1165.8,169.1 L1167.3,173.8 L1165.8,176.9 L1171.0,178.5 L1174.7,182.2 L1172.6,188.4 L1173.6,195.3 L1178.9,194.7 L1184.1,192.6 L1188.3,191.1 L1189.4,184.8 L1188.8,179.5 L1184.1,174.3 L1181.5,169.1 L1178.9,167.5 L1184.1,164.9 L1190.4,161.7 L1190.9,157.0 L1195.6,153.3 L1199.8,150.7 L1204.0,149.7 L1208.7,151.8 L1215.5,148.1 L1220.8,143.9 L1227.6,138.7 L1232.8,132.4 L1236.5,127.1 L1239.1,121.9 L1245.4,116.7 L1247.0,109.9 L1251.7,102.5 L1249.6,98.3 L1244.4,95.7 L1236.5,94.1 L1231.3,95.2 L1228.6,93.1 L1232.8,90.0 L1236.5,85.2 L1241.7,81.0 L1247.0,74.8 L1254.8,67.9 L1262.7,65.3 L1273.2,64.8 L1283.7,65.9 L1291.5,63.8 L1299.4,64.3 L1307.2,66.9 L1315.1,65.9 L1320.3,63.8 L1322.9,60.6 L1324.5,51.2 L1353.9,51.2 L1353.9,61.7 L1343.9,67.9 L1336.0,73.2 L1329.2,77.4 L1325.6,82.6 L1326.1,90.5 L1327.7,98.3 L1330.8,106.2 L1331.9,109.3 L1336.0,106.2 L1341.3,101.0 L1348.1,96.8 L1349.1,92.0 L1358.6,88.9 L1360.1,82.6 L1366.4,81.0 L1363.3,74.8 L1366.4,69.5 L1367.5,62.7 L1368.0,51.2Z M655.0,153.3 L657.6,148.1 L660.7,143.9 L666.0,139.2 L670.7,133.4 L675.9,131.9 L681.2,134.5 L686.4,136.1 L681.2,138.1 L686.4,142.3 L691.6,141.3 L696.9,139.7 L702.1,138.7 L703.7,138.1 L707.4,131.9 L715.2,128.7 L712.6,132.4 L710.0,135.0 L707.4,138.7 L708.9,141.8 L712.6,143.9 L717.8,146.5 L723.1,150.2 L728.3,156.0 L728.8,158.1 L723.1,161.2 L717.8,160.7 L712.6,161.7 L707.4,160.7 L702.1,159.6 L696.9,157.5 L691.6,156.0 L686.4,156.0 L681.2,157.0 L675.9,159.6 L670.7,160.7 L663.9,160.2 L658.6,158.6 L657.6,156.0Z M767.6,132.4 L772.8,131.3 L780.7,129.8 L788.6,130.8 L789.6,135.0 L788.6,138.7 L779.7,142.9 L778.1,145.5 L783.3,153.3 L787.5,157.0 L788.0,161.2 L792.8,163.3 L789.6,169.1 L793.3,174.3 L793.8,179.5 L791.2,182.7 L783.3,183.7 L778.1,183.2 L772.8,180.6 L767.6,179.0 L767.1,174.8 L768.7,170.1 L770.2,165.4 L774.4,164.9 L770.2,163.3 L767.6,159.6 L765.0,157.0 L759.8,151.8 L759.8,148.1 L757.1,145.5 L758.2,141.3 L759.8,137.6 L765.0,135.0Z M816.3,137.6 L821.0,132.9 L827.9,132.9 L833.1,137.6 L834.7,143.9 L830.5,147.6 L824.2,146.5 L817.9,144.4Z" fill="#c589c6" fill-rule="evenodd" clip-path="url(#cpIND)" stroke="#000" stroke-width="1.5" stroke-linejoin="round"/>
<path d="M536.6,51.2 L536.6,56.4 L537.1,61.7 L538.7,65.3 L540.2,67.4 L542.3,71.1 L547.6,72.1 L552.8,71.1 L558.1,67.9 L564.3,66.9 L566.4,62.7 L568.0,65.9 L569.6,67.4 L570.1,70.0 L572.7,73.7 L575.3,77.4 L576.9,80.5 L578.5,85.2 L585.3,85.8 L586.3,82.6 L594.2,82.1 L596.8,77.4 L597.9,73.2 L598.9,69.0 L604.2,67.4 L608.9,64.8 L606.8,61.7 L602.6,58.5 L601.5,56.4 L601.5,51.2 L623.0,51.2 L623.0,58.5 L626.2,60.1 L630.9,62.2 L636.6,60.6 L644.5,60.1 L650.3,59.0 L657.6,59.0 L662.8,60.6 L669.1,62.2 L662.8,62.2 L657.6,64.3 L649.7,64.3 L641.9,63.8 L636.6,65.3 L634.0,66.4 L633.5,69.0 L635.6,70.6 L639.3,70.6 L638.2,73.2 L638.7,76.3 L636.1,77.4 L633.0,76.3 L629.3,74.2 L623.5,75.3 L620.9,78.4 L621.4,82.6 L622.0,86.8 L618.3,88.4 L614.6,91.0 L608.3,91.0 L605.2,88.9 L597.3,90.5 L589.5,92.6 L584.2,93.6 L579.0,91.0 L575.3,92.0 L568.5,93.1 L567.5,90.5 L563.3,90.0 L564.9,87.3 L567.0,81.6 L564.9,78.9 L566.4,73.7 L562.8,74.8 L556.0,76.9 L553.3,80.0 L553.3,85.2 L556.0,87.9 L556.5,91.5 L557.5,93.6 L552.8,95.2 L547.6,96.2 L542.3,96.2 L537.1,98.3 L534.5,102.5 L530.3,106.2 L526.6,107.8 L523.5,108.8 L519.3,109.3 L519.3,113.0 L513.5,115.1 L510.9,116.7 L505.7,117.2 L503.6,115.6 L500.9,115.6 L502.5,121.4 L495.2,120.3 L486.3,122.4 L488.4,125.6 L497.8,128.2 L500.4,130.8 L504.6,135.0 L504.1,140.8 L503.0,148.1 L500.4,148.6 L492.6,148.1 L484.7,147.6 L474.2,147.6 L469.0,147.1 L462.2,150.7 L464.3,156.0 L465.3,161.2 L463.7,166.4 L461.1,172.7 L464.8,174.8 L464.3,179.5 L464.3,182.2 L470.0,182.2 L474.8,181.1 L477.4,183.2 L479.5,186.9 L481.6,187.4 L484.7,185.3 L487.8,183.7 L495.2,183.7 L500.4,183.2 L502.5,180.1 L507.2,179.0 L509.3,175.3 L511.9,172.7 L509.3,169.1 L511.9,165.4 L515.6,161.2 L522.4,159.6 L527.7,156.5 L527.1,153.3 L526.6,149.7 L531.9,148.1 L537.1,148.6 L542.3,150.2 L547.6,148.1 L550.2,146.5 L553.9,145.5 L557.0,143.4 L560.7,144.4 L564.3,146.0 L565.9,150.7 L569.6,153.3 L573.8,156.5 L578.0,159.6 L582.7,160.2 L584.8,162.2 L588.4,163.3 L589.5,165.4 L592.6,166.4 L594.2,169.1 L595.2,172.2 L593.2,175.9 L595.2,176.9 L597.9,174.8 L600.5,172.2 L601.0,169.6 L597.9,166.4 L599.4,164.3 L602.6,164.9 L607.3,166.4 L607.8,165.4 L604.7,162.8 L599.4,160.2 L594.7,158.6 L590.5,156.5 L585.3,153.9 L582.2,148.6 L576.9,145.0 L574.8,141.3 L576.4,137.6 L579.5,136.6 L582.7,137.1 L583.7,140.8 L586.9,139.2 L591.1,143.9 L594.7,148.1 L600.0,150.7 L605.2,152.8 L610.4,155.4 L612.5,157.0 L613.1,161.2 L612.5,164.9 L615.7,168.5 L619.3,171.7 L621.4,175.3 L624.1,177.4 L624.6,182.2 L628.3,184.8 L630.3,182.2 L632.4,185.3 L631.4,180.6 L633.5,177.4 L630.3,175.3 L634.5,174.8 L636.6,175.9 L633.0,171.7 L630.3,168.5 L629.3,164.9 L633.0,165.4 L636.1,167.0 L637.7,164.9 L635.6,162.2 L639.8,161.7 L644.5,161.7 L648.2,163.3 L648.2,166.4 L650.3,170.1 L651.8,174.3 L653.4,177.4 L655.0,181.6 L658.6,183.7 L662.8,184.3 L668.1,186.3 L671.2,183.2 L675.9,183.7 L681.2,186.9 L687.5,186.3 L692.2,183.2 L699.0,183.2 L699.5,188.4 L698.5,192.1 L699.0,195.3 L696.9,198.4 L694.8,203.1 L692.7,208.4 L690.6,212.0 L683.8,213.1 L680.1,212.0 L675.9,211.0 L669.6,211.5 L662.8,214.1 L653.9,211.5 L642.9,210.4 L636.6,208.4 L631.9,205.2 L626.2,203.6 L620.9,204.2 L616.2,207.3 L615.7,213.6 L610.4,217.3 L605.2,214.6 L596.8,212.5 L591.1,207.3 L583.7,204.7 L576.9,204.2 L571.1,202.6 L568.0,200.0 L564.9,198.9 L563.8,196.3 L567.5,192.6 L568.5,189.5 L566.4,185.3 L569.1,182.2 L564.3,181.1 L560.7,180.6 L554.9,182.7 L547.6,182.2 L539.7,183.7 L531.9,182.7 L526.6,183.2 L521.4,184.3 L516.1,185.3 L508.3,187.9 L504.6,189.0 L499.4,192.1 L492.0,191.1 L486.8,191.6 L483.1,188.4 L480.0,188.4 L478.4,190.0 L476.3,195.3 L471.6,199.4 L465.8,202.6 L462.2,205.7 L459.6,211.5 L460.6,216.7 L457.5,221.4 L453.3,225.1 L448.0,228.3 L442.8,231.4 L440.2,237.2 L434.9,242.4 L432.3,247.6 L427.1,252.4 L425.5,258.1 L422.4,263.4 L421.3,267.0 L424.5,272.3 L426.0,279.1 L425.0,286.9 L423.9,292.2 L420.8,298.5 L422.9,302.7 L423.4,307.9 L422.9,311.6 L427.1,315.8 L432.3,319.4 L437.6,323.6 L441.2,327.8 L445.4,334.6 L450.7,339.3 L455.9,343.5 L461.1,347.2 L469.0,351.9 L471.6,352.9 L476.8,351.9 L484.7,349.3 L489.9,348.8 L495.2,349.3 L500.4,350.9 L505.7,348.8 L510.9,346.7 L516.1,344.6 L521.4,343.0 L526.6,342.5 L531.9,343.0 L537.1,345.6 L539.7,349.8 L542.3,353.5 L547.6,352.9 L552.8,352.4 L555.4,351.4 L558.1,355.0 L562.2,360.3 L562.8,365.5 L561.2,370.8 L559.6,376.0 L558.1,381.2 L560.7,386.5 L565.9,391.7 L571.1,397.0 L574.8,402.2 L575.3,407.4 L578.5,415.3 L581.1,423.2 L580.6,431.0 L583.2,436.2 L578.0,443.1 L575.3,449.3 L572.7,458.8 L572.7,466.1 L576.4,472.9 L581.6,481.8 L586.3,491.3 L586.9,499.1 L589.0,509.6 L590.5,516.4 L594.7,523.7 L598.9,530.6 L601.5,537.4 L606.2,542.6 L607.3,550.5 L607.3,554.6 L612.0,557.8 L615.7,558.3 L620.9,556.2 L628.8,554.1 L636.6,554.6 L644.5,554.1 L649.7,552.6 L655.0,549.9 L660.2,546.3 L665.5,541.0 L670.2,535.8 L673.3,530.6 L678.5,526.9 L681.2,522.7 L682.7,517.5 L681.7,512.2 L686.4,508.5 L694.3,505.4 L696.9,499.1 L696.4,491.3 L694.3,485.5 L692.7,480.8 L696.9,475.5 L702.1,471.9 L707.4,467.7 L715.2,462.4 L721.5,457.2 L723.6,452.0 L723.1,441.5 L722.6,433.6 L718.9,428.4 L716.3,420.5 L716.8,412.7 L714.2,407.4 L716.3,402.2 L718.9,397.0 L721.5,391.7 L725.7,386.5 L729.9,381.2 L735.1,373.4 L741.4,368.1 L749.3,364.5 L756.1,357.7 L762.4,349.8 L767.6,340.9 L771.8,331.5 L777.0,321.0 L779.1,314.2 L775.5,313.1 L770.2,316.8 L765.0,317.3 L757.1,319.4 L749.3,321.0 L741.4,321.5 L737.7,315.8 L736.2,310.5 L733.0,305.3 L728.3,298.5 L723.1,294.3 L718.9,289.6 L715.2,281.7 L712.6,273.8 L707.4,266.0 L705.3,260.7 L702.1,252.9 L697.4,245.0 L694.3,237.2 L690.1,231.4 L686.4,228.3 L683.8,223.0 L681.2,218.8 L682.2,220.9 L684.8,226.2 L690.1,230.4 L691.6,226.7 L693.7,221.4 L694.3,229.3 L696.9,233.0 L702.1,239.8 L705.8,246.1 L710.0,250.3 L714.2,258.1 L715.7,263.4 L718.4,271.2 L723.1,276.5 L726.7,282.7 L732.0,291.1 L735.1,298.5 L737.2,305.3 L738.8,309.5 L744.0,308.9 L749.3,306.8 L757.1,303.7 L765.0,302.7 L770.2,299.0 L778.1,296.4 L784.4,293.7 L791.2,288.5 L799.0,285.9 L801.7,282.7 L806.9,281.7 L809.5,277.5 L813.7,273.8 L817.4,268.6 L821.6,263.9 L824.2,258.1 L820.0,252.9 L816.3,251.8 L812.1,250.8 L808.5,247.6 L806.4,242.4 L805.3,238.2 L801.7,241.9 L796.4,248.7 L791.2,249.2 L785.9,249.2 L781.2,248.7 L780.2,242.4 L778.1,239.8 L776.0,244.0 L773.4,240.3 L773.4,236.1 L770.2,233.5 L765.5,228.8 L762.4,221.4 L765.0,218.8 L767.6,217.3 L772.8,218.3 L776.0,223.0 L780.7,229.8 L785.9,231.9 L791.2,235.6 L798.0,237.2 L804.3,234.5 L809.5,237.2 L812.1,241.4 L820.0,242.9 L833.1,244.0 L843.6,243.5 L848.8,244.0 L856.7,242.9 L860.9,245.5 L864.5,250.3 L868.7,252.9 L871.3,256.6 L877.6,256.0 L875.0,259.2 L879.7,266.0 L885.5,267.0 L891.3,264.4 L892.3,271.2 L892.8,276.5 L894.4,284.3 L896.0,292.2 L898.6,298.5 L901.2,305.3 L902.8,310.5 L906.4,315.8 L909.1,321.0 L911.2,326.2 L913.8,331.5 L916.9,333.6 L920.6,329.4 L924.8,327.3 L927.4,322.0 L929.5,319.4 L929.0,313.1 L931.1,305.3 L930.5,296.4 L935.3,292.2 L941.5,289.0 L943.1,285.9 L948.4,281.7 L953.6,276.5 L958.8,272.3 L964.1,270.2 L966.7,266.0 L970.9,262.3 L974.6,262.3 L979.8,261.3 L984.5,259.2 L987.6,257.6 L991.8,258.6 L992.9,264.9 L994.5,268.1 L998.1,272.3 L1001.8,276.5 L1004.9,280.1 L1006.0,285.4 L1004.9,291.1 L1008.1,293.2 L1011.2,292.7 L1016.5,289.0 L1020.7,289.6 L1022.8,294.8 L1024.3,302.7 L1025.9,307.9 L1028.0,314.7 L1026.9,321.0 L1025.9,328.8 L1025.9,334.1 L1028.0,336.7 L1032.2,340.4 L1036.4,344.6 L1036.9,349.8 L1039.5,355.0 L1041.6,360.3 L1044.8,363.4 L1049.5,367.1 L1053.1,369.2 L1056.8,368.7 L1054.7,362.9 L1052.6,355.0 L1052.6,349.8 L1047.9,344.6 L1042.7,340.4 L1039.0,339.3 L1036.4,334.1 L1034.3,327.8 L1030.6,323.6 L1030.6,318.4 L1032.7,313.1 L1034.8,308.9 L1034.8,305.8 L1039.5,305.8 L1039.5,310.0 L1045.3,312.1 L1048.9,315.2 L1050.5,318.4 L1053.1,320.5 L1057.9,321.5 L1059.9,325.7 L1059.9,330.9 L1062.0,330.4 L1068.9,326.2 L1070.9,322.0 L1075.7,320.5 L1080.9,316.8 L1083.0,313.1 L1083.5,307.9 L1082.5,302.7 L1080.4,296.4 L1076.7,291.1 L1072.5,287.5 L1068.9,282.7 L1064.7,277.5 L1065.2,272.3 L1069.4,268.6 L1074.1,264.4 L1079.3,262.8 L1084.6,263.4 L1086.1,266.0 L1088.8,268.6 L1090.3,264.9 L1095.0,263.4 L1100.3,261.3 L1105.5,259.7 L1109.2,259.2 L1113.4,257.1 L1121.2,256.0 L1126.5,252.4 L1130.7,247.6 L1135.9,242.9 L1137.5,238.2 L1140.6,234.5 L1143.8,229.3 L1147.4,225.6 L1150.1,219.9 L1147.4,216.2 L1149.5,213.6 L1145.9,209.4 L1143.8,205.7 L1142.2,201.5 L1140.6,196.3 L1135.9,193.7 L1137.0,190.0 L1142.2,186.9 L1147.4,183.2 L1152.7,181.1 L1147.4,179.5 L1142.2,178.5 L1135.9,181.1 L1133.3,178.5 L1131.7,175.9 L1127.0,172.7 L1128.1,170.1 L1131.7,170.6 L1135.9,169.1 L1139.6,166.4 L1144.8,162.2 L1150.1,163.3 L1146.9,167.5 L1147.4,171.7 L1151.6,169.1 L1157.9,167.5 L1162.1,167.0 L1165.8,169.1 L1167.3,173.8 L1165.8,176.9 L1171.0,178.5 L1174.7,182.2 L1172.6,188.4 L1173.6,195.3 L1178.9,194.7 L1184.1,192.6 L1188.3,191.1 L1189.4,184.8 L1188.8,179.5 L1184.1,174.3 L1181.5,169.1 L1178.9,167.5 L1184.1,164.9 L1190.4,161.7 L1190.9,157.0 L1195.6,153.3 L1199.8,150.7 L1204.0,149.7 L1208.7,151.8 L1215.5,148.1 L1220.8,143.9 L1227.6,138.7 L1232.8,132.4 L1236.5,127.1 L1239.1,121.9 L1245.4,116.7 L1247.0,109.9 L1251.7,102.5 L1249.6,98.3 L1244.4,95.7 L1236.5,94.1 L1231.3,95.2 L1228.6,93.1 L1232.8,90.0 L1236.5,85.2 L1241.7,81.0 L1247.0,74.8 L1254.8,67.9 L1262.7,65.3 L1273.2,64.8 L1283.7,65.9 L1291.5,63.8 L1299.4,64.3 L1307.2,66.9 L1315.1,65.9 L1320.3,63.8 L1322.9,60.6 L1324.5,51.2 L1353.9,51.2 L1353.9,61.7 L1343.9,67.9 L1336.0,73.2 L1329.2,77.4 L1325.6,82.6 L1326.1,90.5 L1327.7,98.3 L1330.8,106.2 L1331.9,109.3 L1336.0,106.2 L1341.3,101.0 L1348.1,96.8 L1349.1,92.0 L1358.6,88.9 L1360.1,82.6 L1366.4,81.0 L1363.3,74.8 L1366.4,69.5 L1367.5,62.7 L1368.0,51.2Z M655.0,153.3 L657.6,148.1 L660.7,143.9 L666.0,139.2 L670.7,133.4 L675.9,131.9 L681.2,134.5 L686.4,136.1 L681.2,138.1 L686.4,142.3 L691.6,141.3 L696.9,139.7 L702.1,138.7 L703.7,138.1 L707.4,131.9 L715.2,128.7 L712.6,132.4 L710.0,135.0 L707.4,138.7 L708.9,141.8 L712.6,143.9 L717.8,146.5 L723.1,150.2 L728.3,156.0 L728.8,158.1 L723.1,161.2 L717.8,160.7 L712.6,161.7 L707.4,160.7 L702.1,159.6 L696.9,157.5 L691.6,156.0 L686.4,156.0 L681.2,157.0 L675.9,159.6 L670.7,160.7 L663.9,160.2 L658.6,158.6 L657.6,156.0Z M767.6,132.4 L772.8,131.3 L780.7,129.8 L788.6,130.8 L789.6,135.0 L788.6,138.7 L779.7,142.9 L778.1,145.5 L783.3,153.3 L787.5,157.0 L788.0,161.2 L792.8,163.3 L789.6,169.1 L793.3,174.3 L793.8,179.5 L791.2,182.7 L783.3,183.7 L778.1,183.2 L772.8,180.6 L767.6,179.0 L767.1,174.8 L768.7,170.1 L770.2,165.4 L774.4,164.9 L770.2,163.3 L767.6,159.6 L765.0,157.0 L759.8,151.8 L759.8,148.1 L757.1,145.5 L758.2,141.3 L759.8,137.6 L765.0,135.0Z M816.3,137.6 L821.0,132.9 L827.9,132.9 L833.1,137.6 L834.7,143.9 L830.5,147.6 L824.2,146.5 L817.9,144.4Z" fill="#cbc887" fill-rule="evenodd" clip-path="url(#cpICP)" stroke="#000" stroke-width="1.5" stroke-linejoin="round"/>
<path d="M677.5,377.6 L682.7,374.4 L689.0,375.0 L693.2,378.1 L688.0,383.9 L688.5,388.6 L683.3,389.6 L677.0,384.4Z" fill="#fff" stroke="#000" stroke-width="1.5" stroke-linejoin="round"/>
<path d="M663.9,393.3 L666.0,399.6 L669.1,406.9 L671.2,412.7 L673.3,417.9 L672.3,421.6 L669.6,417.9 L667.0,410.6 L664.4,402.2 L662.8,395.9Z" fill="#fff" stroke="#000" stroke-width="1.5" stroke-linejoin="round"/>
<path d="M690.1,425.8 L692.2,431.0 L692.2,438.9 L694.3,446.7 L695.8,450.9 L693.7,451.4 L691.1,445.2 L690.1,436.2 L688.5,428.4Z" fill="#fff" stroke="#000" stroke-width="1.5" stroke-linejoin="round"/>
<path d="M92.8,149.2 L97.0,149.2 L102.3,148.6 L107.5,149.2 L111.7,148.1 L110.6,145.0 L104.9,145.5 L99.6,146.0 L94.4,147.6Z" fill="#fff" stroke="#000" stroke-width="1.5" stroke-linejoin="round"/>
<path d="M86.5,157.0 L92.8,154.9 L97.5,151.8 L94.4,151.2 L86.5,152.8Z" fill="#fff" stroke="#000" stroke-width="1.5" stroke-linejoin="round"/>
<path d="M1812.8,66.4 L1820.7,64.3 L1830.1,65.3 L1825.9,67.4 L1818.0,67.9Z" fill="#fff" stroke="#000" stroke-width="1.5" stroke-linejoin="round"/>
<path d="M1858.9,79.5 L1861.5,77.4 L1862.6,72.1 L1860.5,73.2 L1858.4,76.9Z" fill="#fff" stroke="#000" stroke-width="1.5" stroke-linejoin="round"/>
<path d="M1079.9,275.4 L1084.6,280.7 L1089.8,279.1 L1092.4,273.3 L1090.3,270.7 L1086.1,271.2 L1080.4,272.8Z" fill="#f2f20a" stroke="#000" stroke-width="1.5" stroke-linejoin="round"/>
<path d="M1054.7,105.1 L1059.9,106.2 L1066.2,102.5 L1071.5,99.4 L1079.3,95.7 L1084.6,90.5 L1086.1,84.2 L1083.0,84.7 L1079.3,91.5 L1071.5,96.8 L1063.6,100.4 L1056.8,103.6Z" fill="none" stroke="#000" stroke-width="1.3"/>
<path d="M896.0,131.9 L901.2,135.0 L906.4,132.4 L914.3,132.9 L922.2,132.4 L925.8,131.3 L919.5,130.3 L911.7,131.3 L903.8,130.8 L898.6,129.8Z" fill="none" stroke="#000" stroke-width="1.3"/>
<path d="M1075.7,262.8 L1069.9,260.7 L1068.9,256.6 L1063.6,254.5 L1058.4,256.6 L1053.1,257.6 L1047.9,257.1 L1043.7,259.2 L1044.2,264.9 L1037.4,263.4 L1032.2,260.2 L1029.6,255.5 L1024.3,250.3 L1023.3,245.0 L1028.0,239.8 L1025.4,231.9 L1020.7,228.3 L1014.9,226.7 L1008.6,224.1 L1000.7,227.2 L992.9,231.4 L990.3,230.4 L985.0,229.3 L979.8,228.8 L976.1,233.0 L971.9,229.8 L964.1,229.3 L958.8,227.7 L951.0,225.6 L943.1,220.4 L936.3,218.8 L932.6,217.3 L924.8,212.0 L926.4,205.7 L922.7,205.2 L923.7,196.3 L918.5,190.0 L909.1,187.4 L906.4,184.8 L901.2,182.2 L902.8,181.1 L902.8,176.9 L897.5,173.8 L896.5,170.1 L897.5,167.5 L903.8,164.3 L909.1,163.8 L916.9,161.2 L924.8,157.0 L931.1,154.9 L932.6,146.0 L930.0,140.8 L937.9,138.7 L943.1,139.2 L942.1,137.6 L945.7,128.7 L953.6,129.8 L958.8,129.2 L964.1,121.9 L969.3,118.8 L971.9,121.9 L979.8,125.1 L985.0,129.8 L987.6,135.0 L990.3,139.2 L1000.7,140.2 L1011.2,143.9 L1013.8,148.1 L1019.1,151.8 L1034.8,152.8 L1042.7,152.8 L1053.1,156.5 L1061.0,158.1 L1071.5,154.4 L1082.0,153.9 L1089.8,152.8 L1095.0,149.7 L1095.0,145.5 L1100.3,140.2 L1108.1,140.2 L1116.0,138.1 L1121.2,133.4 L1126.5,131.9 L1131.7,131.3 L1138.5,131.3 L1138.0,128.7 L1131.7,125.6 L1126.5,126.1 L1118.6,126.1 L1118.6,121.9 L1122.8,115.1 L1128.1,116.7 L1134.3,113.0 L1137.0,108.8 L1142.2,103.6 L1139.6,100.4 L1143.8,97.3 L1150.1,96.2 L1157.9,95.7 L1165.8,97.3 L1171.0,101.0 L1175.2,107.2 L1178.9,114.1 L1181.5,116.1 L1189.4,117.2 L1194.6,120.3 L1197.2,126.1 L1205.1,126.1 L1212.9,123.0 L1218.2,122.4 L1212.9,127.1 L1207.7,140.2 L1202.4,139.2 L1197.2,140.2 L1198.3,145.5 L1196.2,150.7 L1194.6,153.3 L1189.4,153.9 L1184.1,156.0 L1181.5,157.0 L1173.6,158.6 L1168.4,163.3 L1162.1,167.0" fill="none" stroke="#000" stroke-width="1.3" stroke-linejoin="round"/>
<path d="M848.4,196.1 L848.4,200.9 L854.4,198.5 L865.2,203.9 L870.0,198.5 L876.0,192.5 L885.6,191.5 L894.1,193.7 L902.5,197.3 L912.1,205.7 L921.7,212.9 L931.3,220.1 L942.1,224.9 L954.1,229.1 L966.1,232.1 L976.9,233.3 L987.7,232.7 L995.0,231.5 L1002.2,227.3 L1010.6,224.3 L1017.8,227.3 L1025.0,230.9 L1028.6,235.7 L1032.2,239.3 L1037.0,236.9 L1044.2,232.1 L1047.8,227.3 L1047.8,217.7 L1052.6,210.5 L1057.4,202.1 L1058.0,196.1 L1053.8,191.3 L1050.2,184.1 L1050.2,179.3 L1044.2,175.7 L1032.2,170.9 L1023.8,167.3 L1014.2,166.7 L1002.2,168.5 L990.2,171.5 L978.1,172.7 L966.1,175.7 L954.1,179.9 L942.1,184.1 L936.1,185.3 L924.1,182.9 L913.3,179.3 L908.5,174.5 L905.5,169.1 L914.5,166.1 L924.1,161.9 L931.3,156.5 L942.1,154.7 L950.5,154.7 L960.1,154.7 L963.7,150.5 L963.7,148.0 L956.5,147.4 L950.5,148.6 L945.7,151.7 L936.1,151.7 L924.1,152.9 L912.1,155.3 L900.1,161.3 L895.3,164.9 L888.0,167.3 L879.6,168.5 L872.4,169.1 L878.4,173.3 L880.8,179.3 L877.2,186.5 L870.0,190.1 L859.2,189.8 L852.0,192.5Z" fill="none" stroke="#f00" stroke-width="1.1"/>
<path d="M969.1,116.6 L975.5,116.8 L974.8,121.9 L970.9,118.0Z" fill="none" stroke="#f00" stroke-width="1.1"/>
<path d="M981.7,122.2 L985.9,121.4 L989.5,127.4 L985.9,128.2Z" fill="none" stroke="#f00" stroke-width="1.1"/>
<ellipse cx="1027.4" cy="127.4" rx="6" ry="1.5" fill="none" stroke="#f00" stroke-width="1.1"/>
<ellipse cx="100" cy="382.5" rx="1.3" ry="5.5" fill="none" stroke="#f22" stroke-width="1"/>
<line x1="846.2" y1="59.0" x2="846.2" y2="240.8" stroke="#333" stroke-width="1.5"/>
<line x1="846.2" y1="240.8" x2="1144.8" y2="240.8" stroke="#000" stroke-width="2"/>
<line x1="301.3" y1="61.6" x2="301.3" y2="690.3" stroke="#000" stroke-width="1.3" stroke-dasharray="3.6,7.55" stroke-dashoffset="-1.3"/>
<line x1="301.3" y1="61.6" x2="301.3" y2="77.6" stroke="#000" stroke-width="1.6"/>
<line x1="301.3" y1="673.3" x2="301.3" y2="690.3" stroke="#000" stroke-width="1.6"/>
<line x1="510.9" y1="61.6" x2="510.9" y2="690.3" stroke="#000" stroke-width="1.3" stroke-dasharray="3.6,7.55" stroke-dashoffset="-1.3"/>
<line x1="510.9" y1="61.6" x2="510.9" y2="77.6" stroke="#000" stroke-width="1.6"/>
<line x1="510.9" y1="673.3" x2="510.9" y2="690.3" stroke="#000" stroke-width="1.6"/>
<line x1="720.5" y1="61.6" x2="720.5" y2="690.3" stroke="#000" stroke-width="1.3" stroke-dasharray="3.6,7.55" stroke-dashoffset="-1.3"/>
<line x1="720.5" y1="61.6" x2="720.5" y2="77.6" stroke="#000" stroke-width="1.6"/>
<line x1="720.5" y1="673.3" x2="720.5" y2="690.3" stroke="#000" stroke-width="1.6"/>
<line x1="930.0" y1="61.6" x2="930.0" y2="690.3" stroke="#000" stroke-width="1.3" stroke-dasharray="3.6,7.55" stroke-dashoffset="-1.3"/>
<line x1="930.0" y1="61.6" x2="930.0" y2="77.6" stroke="#000" stroke-width="1.6"/>
<line x1="930.0" y1="673.3" x2="930.0" y2="690.3" stroke="#000" stroke-width="1.6"/>
<line x1="1139.6" y1="61.6" x2="1139.6" y2="690.3" stroke="#000" stroke-width="1.3" stroke-dasharray="3.6,7.55" stroke-dashoffset="-1.3"/>
<line x1="1139.6" y1="61.6" x2="1139.6" y2="77.6" stroke="#000" stroke-width="1.6"/>
<line x1="1139.6" y1="673.3" x2="1139.6" y2="690.3" stroke="#000" stroke-width="1.6"/>
<line x1="1349.1" y1="61.6" x2="1349.1" y2="690.3" stroke="#000" stroke-width="1.3" stroke-dasharray="3.6,7.55" stroke-dashoffset="-1.3"/>
<line x1="1349.1" y1="61.6" x2="1349.1" y2="77.6" stroke="#000" stroke-width="1.6"/>
<line x1="1349.1" y1="673.3" x2="1349.1" y2="690.3" stroke="#000" stroke-width="1.6"/>
<line x1="1558.7" y1="61.6" x2="1558.7" y2="690.3" stroke="#000" stroke-width="1.3" stroke-dasharray="3.6,7.55" stroke-dashoffset="-1.3"/>
<line x1="1558.7" y1="61.6" x2="1558.7" y2="77.6" stroke="#000" stroke-width="1.6"/>
<line x1="1558.7" y1="673.3" x2="1558.7" y2="690.3" stroke="#000" stroke-width="1.6"/>
<line x1="1768.3" y1="61.6" x2="1768.3" y2="690.3" stroke="#000" stroke-width="1.3" stroke-dasharray="3.6,7.55" stroke-dashoffset="-1.3"/>
<line x1="1768.3" y1="61.6" x2="1768.3" y2="77.6" stroke="#000" stroke-width="1.6"/>
<line x1="1768.3" y1="673.3" x2="1768.3" y2="690.3" stroke="#000" stroke-width="1.6"/>
<line x1="91.8" y1="114.1" x2="1872.0" y2="114.1" stroke="#000" stroke-width="1.3" stroke-dasharray="3.5,7.6" stroke-dashoffset="-1.1"/>
<line x1="91.8" y1="114.1" x2="108.8" y2="114.1" stroke="#000" stroke-width="1.6"/>
<line x1="1854.0" y1="114.1" x2="1872.0" y2="114.1" stroke="#000" stroke-width="1.6"/>
<line x1="91.8" y1="245.0" x2="1872.0" y2="245.0" stroke="#000" stroke-width="1.3" stroke-dasharray="3.5,7.6" stroke-dashoffset="-1.1"/>
<line x1="91.8" y1="245.0" x2="108.8" y2="245.0" stroke="#000" stroke-width="1.6"/>
<line x1="1854.0" y1="245.0" x2="1872.0" y2="245.0" stroke="#000" stroke-width="1.6"/>
<line x1="91.8" y1="376.0" x2="1872.0" y2="376.0" stroke="#000" stroke-width="1.3" stroke-dasharray="3.5,7.6" stroke-dashoffset="-1.1"/>
<line x1="91.8" y1="376.0" x2="108.8" y2="376.0" stroke="#000" stroke-width="1.6"/>
<line x1="1854.0" y1="376.0" x2="1872.0" y2="376.0" stroke="#000" stroke-width="1.6"/>
<line x1="91.8" y1="507.0" x2="1872.0" y2="507.0" stroke="#000" stroke-width="1.3" stroke-dasharray="3.5,7.6" stroke-dashoffset="-1.1"/>
<line x1="91.8" y1="507.0" x2="108.8" y2="507.0" stroke="#000" stroke-width="1.6"/>
<line x1="1854.0" y1="507.0" x2="1872.0" y2="507.0" stroke="#000" stroke-width="1.6"/>
<line x1="91.8" y1="638.0" x2="1872.0" y2="638.0" stroke="#000" stroke-width="1.3" stroke-dasharray="3.5,7.6" stroke-dashoffset="-1.1"/>
<line x1="91.8" y1="638.0" x2="108.8" y2="638.0" stroke="#000" stroke-width="1.6"/>
<line x1="1854.0" y1="638.0" x2="1872.0" y2="638.0" stroke="#000" stroke-width="1.6"/>
</g>
<rect x="91.8" y="61.6" width="1780.2" height="628.6999999999999" fill="none" stroke="#000" stroke-width="2"/>
<text x="0" y="26.4" font-size="35" font-weight="bold" fill="#000" text-anchor="start" textLength="37" lengthAdjust="spacingAndGlyphs">(a)</text>
<text x="316.2" y="331.2" font-size="29.5" font-weight="bold" fill="#000" text-anchor="start" textLength="51.6" lengthAdjust="spacingAndGlyphs" stroke="#000" stroke-width="1.6" stroke-linejoin="round">NATL</text>
<text x="336.5" y="477.6" font-size="29.5" font-weight="bold" fill="#000" text-anchor="start" textLength="48.1" lengthAdjust="spacingAndGlyphs" stroke="#000" stroke-width="1.6" stroke-linejoin="round">SATL</text>
<text x="94.7" y="547.7" font-size="29.5" font-weight="bold" fill="#000" text-anchor="start" textLength="38.3" lengthAdjust="spacingAndGlyphs" stroke="#000" stroke-width="1.6" stroke-linejoin="round">PAC</text>
<text x="1405.3" y="359.4" font-size="29.5" font-weight="bold" fill="#000" text-anchor="start" textLength="37.8" lengthAdjust="spacingAndGlyphs" stroke="#000" stroke-width="1.6" stroke-linejoin="round">PAC</text>
<text x="838.4" y="424.4" font-size="29.5" font-weight="bold" fill="#000" text-anchor="start" textLength="35.2" lengthAdjust="spacingAndGlyphs" stroke="#000" stroke-width="1.6" stroke-linejoin="round">TIO</text>
<text x="840.1" y="493.4" font-size="29.5" font-weight="bold" fill="#000" text-anchor="start" textLength="34.1" lengthAdjust="spacingAndGlyphs" stroke="#000" stroke-width="1.6" stroke-linejoin="round">SIO</text>
<text x="976.8" y="193.4" font-size="29.5" font-weight="bold" fill="#000" text-anchor="start" textLength="42.9" lengthAdjust="spacingAndGlyphs" stroke="#000" stroke-width="1.6" stroke-linejoin="round">CHN</text>
<text x="899.7" y="275.7" font-size="29.5" font-weight="bold" fill="#000" text-anchor="start" textLength="40.1" lengthAdjust="spacingAndGlyphs" stroke="#000" stroke-width="1.6" stroke-linejoin="round">IND</text>
<text x="1015.3" y="289.0" font-size="29.5" font-weight="bold" fill="#000" text-anchor="start" textLength="34.1" lengthAdjust="spacingAndGlyphs" stroke="#000" stroke-width="1.6" stroke-linejoin="round">ICP</text>
<text x="1104.7" y="289.0" font-size="29.5" font-weight="bold" fill="#000" text-anchor="start" textLength="35.9" lengthAdjust="spacingAndGlyphs" stroke="#000" stroke-width="1.6" stroke-linejoin="round">SCS</text>
<text x="804.0" y="323.0" font-size="29.5" font-weight="bold" fill="#000" text-anchor="start" textLength="60.4" lengthAdjust="spacingAndGlyphs" stroke="#000" stroke-width="1.6" stroke-linejoin="round">ARAB</text>
<text x="948.7" y="324.1" font-size="29.5" font-weight="bold" fill="#000" text-anchor="start" textLength="40.9" lengthAdjust="spacingAndGlyphs" stroke="#000" stroke-width="1.6" stroke-linejoin="round">BoB</text>
<text x="83" y="113.9" font-size="25.5" font-weight="bold" fill="#000" text-anchor="middle" textLength="52.6" lengthAdjust="spacingAndGlyphs" transform="rotate(-90 83 113.9)">50°N</text>
<text x="83" y="245" font-size="25.5" font-weight="bold" fill="#000" text-anchor="middle" textLength="52.6" lengthAdjust="spacingAndGlyphs" transform="rotate(-90 83 245)">25°N</text>
<text x="83" y="375" font-size="25.5" font-weight="bold" fill="#000" text-anchor="middle" textLength="21.4" lengthAdjust="spacingAndGlyphs" transform="rotate(-90 83 375)">0°</text>
<text x="83" y="506" font-size="25.5" font-weight="bold" fill="#000" text-anchor="middle" textLength="52.6" lengthAdjust="spacingAndGlyphs" transform="rotate(-90 83 506)">25°S</text>
<text x="83" y="636.5" font-size="25.5" font-weight="bold" fill="#000" text-anchor="middle" textLength="52.6" lengthAdjust="spacingAndGlyphs" transform="rotate(-90 83 636.5)">50°S</text>
<text x="64" y="711.8" font-size="26.5" font-weight="bold" fill="#000" text-anchor="start" textLength="58.6" lengthAdjust="spacingAndGlyphs">80°W</text>
<text x="274.4" y="711.8" font-size="26.5" font-weight="bold" fill="#000" text-anchor="start" textLength="57.8" lengthAdjust="spacingAndGlyphs">40°W</text>
<text x="500.4" y="711.8" font-size="26.5" font-weight="bold" fill="#000" text-anchor="start" textLength="21.6" lengthAdjust="spacingAndGlyphs">0°</text>
<text x="697.4" y="711.8" font-size="26.5" font-weight="bold" fill="#000" text-anchor="start" textLength="49.1" lengthAdjust="spacingAndGlyphs">40°E</text>
<text x="907.3" y="711.8" font-size="26.5" font-weight="bold" fill="#000" text-anchor="start" textLength="48.3" lengthAdjust="spacingAndGlyphs">80°E</text>
<text x="1108" y="711.8" font-size="26.5" font-weight="bold" fill="#000" text-anchor="start" textLength="61.4" lengthAdjust="spacingAndGlyphs">120°E</text>
<text x="1316.3" y="711.8" font-size="26.5" font-weight="bold" fill="#000" text-anchor="start" textLength="63.4" lengthAdjust="spacingAndGlyphs">160°E</text>
<text x="1522.7" y="711.8" font-size="26.5" font-weight="bold" fill="#000" text-anchor="start" textLength="71.3" lengthAdjust="spacingAndGlyphs">160°W</text>
<text x="1733" y="711.8" font-size="26.5" font-weight="bold" fill="#000" text-anchor="start" textLength="70" lengthAdjust="spacingAndGlyphs">120°W</text>
<defs><clipPath id="bclip"><rect x="119.5" y="808.6" width="798.5" height="545.3000000000001"/></clipPath></defs>
<g clip-path="url(#bclip)">
<rect x="119.5" y="808.6" width="798.5" height="545.3000000000001" fill="#fcfef8"/>
<path d="M868.2 1361.7L880.5 1361.7L892.9 1361.7L905.2 1361.7L917.6 1361.7L917.6 1346.1L917.6 1330.5L917.6 1315.0L917.6 1308.2L913.6 1315.0L905.2 1329.8L904.8 1330.5L892.9 1344.1L890.6 1346.1L880.5 1352.7L868.2 1361.0L867.3 1361.7Z" fill="#2e3ce4" stroke="#2e3ce4" stroke-width="0.6" fill-rule="evenodd"/>
<path d="M756.9 1361.7L769.3 1361.7L781.6 1361.7L794.0 1361.7L806.4 1361.7L818.7 1361.7L831.1 1361.7L843.4 1361.7L855.8 1361.7L867.3 1361.7L868.2 1361.0L880.5 1352.7L890.6 1346.1L892.9 1344.1L904.8 1330.5L905.2 1329.8L913.6 1315.0L917.6 1308.2L917.6 1299.4L917.6 1283.8L917.6 1268.2L917.6 1252.6L917.6 1237.1L917.6 1226.6L905.2 1236.2L904.1 1237.1L892.9 1245.7L881.7 1252.6L880.5 1253.5L868.2 1261.2L855.8 1267.1L853.0 1268.2L843.4 1273.1L831.1 1278.8L821.4 1283.8L818.7 1286.1L806.4 1298.6L805.6 1299.4L796.7 1315.0L794.0 1320.8L789.5 1330.5L781.6 1339.9L775.4 1346.1L769.3 1350.4L756.9 1359.8L754.9 1361.7Z" fill="#3456ea" stroke="#3456ea" stroke-width="0.6" fill-rule="evenodd"/>
<path d="M719.8 1361.7L732.2 1361.7L744.6 1361.7L754.9 1361.7L756.9 1359.8L769.3 1350.4L775.4 1346.1L781.6 1339.9L789.5 1330.5L794.0 1320.8L796.7 1315.0L805.6 1299.4L806.4 1298.6L818.7 1286.1L821.4 1283.8L831.1 1278.8L843.4 1273.1L853.0 1268.2L855.8 1267.1L868.2 1261.2L880.5 1253.5L881.7 1252.6L892.9 1245.7L904.1 1237.1L905.2 1236.2L917.6 1226.6L917.6 1221.5L917.6 1205.9L917.6 1190.3L917.6 1184.7L907.9 1190.3L905.2 1192.6L892.9 1204.0L890.6 1205.9L880.5 1213.3L869.9 1221.5L868.2 1222.7L855.8 1232.1L848.3 1237.1L843.4 1240.2L831.1 1247.2L820.2 1252.6L818.7 1253.4L806.4 1261.4L794.9 1268.2L794.0 1268.9L781.6 1277.5L771.3 1283.8L769.3 1285.8L757.7 1299.4L756.9 1300.5L748.8 1315.0L744.6 1321.7L739.4 1330.5L732.2 1340.3L727.8 1346.1L719.8 1354.9L713.0 1361.7Z" fill="#386aee" stroke="#386aee" stroke-width="0.6" fill-rule="evenodd"/>
<path d="M695.1 1361.7L707.5 1361.7L713.0 1361.7L719.8 1354.9L727.8 1346.1L732.2 1340.3L739.4 1330.5L744.6 1321.7L748.8 1315.0L756.9 1300.5L757.7 1299.4L769.3 1285.8L771.3 1283.8L781.6 1277.5L794.0 1268.9L794.9 1268.2L806.4 1261.4L818.7 1253.4L820.2 1252.6L831.1 1247.2L843.4 1240.2L848.3 1237.1L855.8 1232.1L868.2 1222.7L869.9 1221.5L880.5 1213.3L890.6 1205.9L892.9 1204.0L905.2 1192.6L907.9 1190.3L917.6 1184.7L917.6 1174.7L917.6 1162.1L905.2 1166.1L892.9 1173.0L890.1 1174.7L880.5 1183.2L872.3 1190.3L868.2 1194.2L856.1 1205.9L855.8 1206.2L843.4 1217.4L838.2 1221.5L831.1 1226.6L818.7 1234.7L815.1 1237.1L806.4 1242.8L794.0 1250.5L790.3 1252.6L781.6 1258.1L769.3 1264.5L762.3 1268.2L756.9 1272.4L746.4 1283.8L744.6 1286.3L735.7 1299.4L732.2 1305.0L725.9 1315.0L719.8 1324.1L714.9 1330.5L707.5 1339.1L700.6 1346.1L695.1 1351.4L684.2 1361.7Z" fill="#3e80f0" stroke="#3e80f0" stroke-width="0.6" fill-rule="evenodd"/>
<path d="M670.4 1361.7L682.8 1361.7L684.2 1361.7L695.1 1351.4L700.6 1346.1L707.5 1339.1L714.9 1330.5L719.8 1324.1L725.9 1315.0L732.2 1305.0L735.7 1299.4L744.6 1286.3L746.4 1283.8L756.9 1272.4L762.3 1268.2L769.3 1264.5L781.6 1258.1L790.3 1252.6L794.0 1250.5L806.4 1242.8L815.1 1237.1L818.7 1234.7L831.1 1226.6L838.2 1221.5L843.4 1217.4L855.8 1206.2L856.1 1205.9L868.2 1194.2L872.3 1190.3L880.5 1183.2L890.1 1174.7L892.9 1173.0L905.2 1166.1L917.6 1162.1L917.6 1159.2L917.6 1149.2L905.2 1152.0L892.9 1157.0L888.3 1159.2L880.5 1164.6L868.2 1173.2L866.1 1174.7L855.8 1184.8L850.3 1190.3L843.4 1197.4L834.3 1205.9L831.1 1208.6L818.7 1218.3L814.6 1221.5L806.4 1227.5L794.0 1236.0L792.5 1237.1L781.6 1244.2L769.3 1251.0L766.3 1252.6L756.9 1258.5L744.6 1268.0L744.3 1268.2L732.2 1282.1L730.7 1283.8L719.8 1298.6L719.3 1299.4L707.8 1315.0L707.5 1315.4L695.1 1329.2L693.7 1330.5L682.8 1341.3L677.7 1346.1L670.4 1353.3L661.9 1361.7Z" fill="#4290f2" stroke="#4290f2" stroke-width="0.6" fill-rule="evenodd"/>
<path d="M126.6 1361.7L127.2 1361.7L126.6 1360.9L114.2 1348.5L114.2 1361.7ZM386.1 1361.7L386.3 1361.7L386.1 1361.4L384.5 1361.7ZM645.7 1361.7L658.0 1361.7L661.9 1361.7L670.4 1353.3L677.7 1346.1L682.8 1341.3L693.7 1330.5L695.1 1329.2L707.5 1315.4L707.8 1315.0L719.3 1299.4L719.8 1298.6L730.7 1283.8L732.2 1282.1L744.3 1268.2L744.6 1268.0L756.9 1258.5L766.3 1252.6L769.3 1251.0L781.6 1244.2L792.5 1237.1L794.0 1236.0L806.4 1227.5L814.6 1221.5L818.7 1218.3L831.1 1208.6L834.3 1205.9L843.4 1197.4L850.3 1190.3L855.8 1184.8L866.1 1174.7L868.2 1173.2L880.5 1164.6L888.3 1159.2L892.9 1157.0L905.2 1152.0L917.6 1149.2L917.6 1143.6L917.6 1139.7L905.2 1141.8L899.3 1143.6L892.9 1146.4L880.5 1152.6L868.2 1158.6L867.1 1159.2L855.8 1168.0L848.1 1174.7L843.4 1179.5L832.4 1190.3L831.1 1191.6L818.7 1202.7L815.1 1205.9L806.4 1213.1L795.9 1221.5L794.0 1222.9L781.6 1232.0L774.1 1237.1L769.3 1240.1L756.9 1247.6L749.4 1252.6L744.6 1256.5L732.2 1267.3L731.1 1268.2L719.8 1280.9L717.3 1283.8L707.5 1296.5L705.0 1299.4L695.1 1311.0L691.2 1315.0L682.8 1323.5L675.0 1330.5L670.4 1335.0L658.6 1346.1L658.0 1346.6L645.7 1359.0L643.0 1361.7Z" fill="#4aa2f6" stroke="#4aa2f6" stroke-width="0.6" fill-rule="evenodd"/>
<path d="M126.6 1360.9L127.2 1361.7L138.9 1361.7L151.3 1361.7L152.2 1361.7L151.3 1360.6L139.2 1346.1L138.9 1345.8L126.6 1332.7L124.1 1330.5L114.2 1323.2L114.2 1330.5L114.2 1346.1L114.2 1348.5ZM361.4 1361.7L373.8 1361.7L384.5 1361.7L386.1 1361.4L386.3 1361.7L398.5 1361.7L405.0 1361.7L398.5 1349.2L396.1 1346.1L386.1 1337.7L373.8 1339.2L368.2 1346.1L361.4 1357.2L359.2 1361.7ZM633.3 1361.7L643.0 1361.7L645.7 1359.0L658.0 1346.6L658.6 1346.1L670.4 1335.0L675.0 1330.5L682.8 1323.5L691.2 1315.0L695.1 1311.0L705.0 1299.4L707.5 1296.5L717.3 1283.8L719.8 1280.9L731.1 1268.2L732.2 1267.3L744.6 1256.5L749.4 1252.6L756.9 1247.6L769.3 1240.1L774.1 1237.1L781.6 1232.0L794.0 1222.9L795.9 1221.5L806.4 1213.1L815.1 1205.9L818.7 1202.7L831.1 1191.6L832.4 1190.3L843.4 1179.5L848.1 1174.7L855.8 1168.0L867.1 1159.2L868.2 1158.6L880.5 1152.6L892.9 1146.4L899.3 1143.6L905.2 1141.8L917.6 1139.7L917.6 1132.2L905.2 1134.8L892.9 1138.5L880.5 1142.8L878.3 1143.6L868.2 1148.4L855.8 1155.1L849.9 1159.2L843.4 1164.9L832.5 1174.7L831.1 1176.2L818.7 1187.8L815.9 1190.3L806.4 1198.9L798.8 1205.9L794.0 1209.9L781.6 1220.3L780.4 1221.5L769.3 1229.7L758.2 1237.1L756.9 1237.9L744.6 1246.4L736.3 1252.6L732.2 1256.3L719.8 1267.2L718.7 1268.2L707.5 1281.2L705.1 1283.8L695.1 1295.7L691.5 1299.4L682.8 1308.5L675.6 1315.0L670.4 1319.9L658.5 1330.5L658.0 1330.9L645.7 1342.5L641.8 1346.1L633.3 1354.8L626.8 1361.7Z" fill="#50bafe" stroke="#50bafe" stroke-width="0.6" fill-rule="evenodd"/>
<path d="M151.3 1360.6L152.2 1361.7L163.6 1361.7L176.0 1361.7L177.7 1361.7L176.0 1359.8L163.7 1346.1L163.6 1346.0L151.3 1332.7L149.4 1330.5L138.9 1320.3L132.9 1315.0L126.6 1310.1L114.2 1302.2L114.2 1315.0L114.2 1323.2L124.1 1330.5L126.6 1332.7L138.9 1345.8L139.2 1346.1ZM349.0 1361.7L359.2 1361.7L361.4 1357.2L368.2 1346.1L373.8 1339.2L386.1 1337.7L396.1 1346.1L398.5 1349.2L405.0 1361.7L410.8 1361.7L417.5 1361.7L410.8 1348.2L409.7 1346.1L398.5 1330.7L398.3 1330.5L386.1 1323.6L373.8 1324.7L367.1 1330.5L361.4 1337.6L356.2 1346.1L349.0 1359.3L347.5 1361.7ZM621.0 1361.7L626.8 1361.7L633.3 1354.8L641.8 1346.1L645.7 1342.5L658.0 1330.9L658.5 1330.5L670.4 1319.9L675.6 1315.0L682.8 1308.5L691.5 1299.4L695.1 1295.7L705.1 1283.8L707.5 1281.2L718.7 1268.2L719.8 1267.2L732.2 1256.3L736.3 1252.6L744.6 1246.4L756.9 1237.9L758.2 1237.1L769.3 1229.7L780.4 1221.5L781.6 1220.3L794.0 1209.9L798.8 1205.9L806.4 1198.9L815.9 1190.3L818.7 1187.8L831.1 1176.2L832.5 1174.7L843.4 1164.9L849.9 1159.2L855.8 1155.1L868.2 1148.4L878.3 1143.6L880.5 1142.8L892.9 1138.5L905.2 1134.8L917.6 1132.2L917.6 1128.0L917.6 1125.2L905.2 1127.8L904.4 1128.0L892.9 1131.6L880.5 1135.8L868.2 1139.7L857.5 1143.6L855.8 1144.4L843.4 1153.0L835.3 1159.2L831.1 1163.0L818.7 1173.8L817.5 1174.7L806.4 1184.9L800.6 1190.3L794.0 1196.5L784.4 1205.9L781.6 1208.3L769.3 1219.3L766.7 1221.5L756.9 1228.5L744.7 1237.1L744.6 1237.1L732.2 1246.5L724.5 1252.6L719.8 1256.8L707.7 1268.2L707.5 1268.4L695.1 1282.3L693.6 1283.8L682.8 1295.3L678.4 1299.4L670.4 1306.9L661.0 1315.0L658.0 1317.7L645.7 1328.3L643.1 1330.5L633.3 1339.6L626.7 1346.1L621.0 1352.2L611.9 1361.7Z" fill="#66c6fe" stroke="#66c6fe" stroke-width="0.6" fill-rule="evenodd"/>
<path d="M176.0 1359.8L177.7 1361.7L188.4 1361.7L200.7 1361.7L207.1 1361.7L200.7 1353.4L194.3 1346.1L188.4 1340.2L177.7 1330.5L176.0 1329.2L163.6 1317.8L160.7 1315.0L151.3 1306.8L141.8 1299.4L138.9 1297.3L126.6 1289.3L117.4 1283.8L114.2 1281.8L114.2 1283.8L114.2 1299.4L114.2 1302.2L126.6 1310.1L132.9 1315.0L138.9 1320.3L149.4 1330.5L151.3 1332.7L163.6 1346.0L163.7 1346.1ZM336.7 1361.7L347.5 1361.7L349.0 1359.3L356.2 1346.1L361.4 1337.6L367.1 1330.5L373.8 1324.7L386.1 1323.6L398.3 1330.5L398.5 1330.7L409.7 1346.1L410.8 1348.2L417.5 1361.7L423.2 1361.7L428.6 1361.7L423.2 1351.3L420.6 1346.1L411.3 1330.5L410.8 1329.9L398.5 1317.7L393.0 1315.0L386.1 1312.3L373.8 1313.3L371.1 1315.0L361.4 1323.0L355.9 1330.5L349.0 1341.6L345.9 1346.1L336.7 1360.2L335.3 1361.7ZM608.6 1361.7L611.9 1361.7L621.0 1352.2L626.7 1346.1L633.3 1339.6L643.1 1330.5L645.7 1328.3L658.0 1317.7L661.0 1315.0L670.4 1306.9L678.4 1299.4L682.8 1295.3L693.6 1283.8L695.1 1282.3L707.5 1268.4L707.7 1268.2L719.8 1256.8L724.5 1252.6L732.2 1246.5L744.6 1237.1L744.7 1237.1L756.9 1228.5L766.7 1221.5L769.3 1219.3L781.6 1208.3L784.4 1205.9L794.0 1196.5L800.6 1190.3L806.4 1184.9L817.5 1174.7L818.7 1173.8L831.1 1163.0L835.3 1159.2L843.4 1153.0L855.8 1144.4L857.5 1143.6L868.2 1139.7L880.5 1135.8L892.9 1131.6L904.4 1128.0L905.2 1127.8L917.6 1125.2L917.6 1118.9L905.2 1122.0L892.9 1125.3L882.9 1128.0L880.5 1128.8L868.2 1132.5L855.8 1136.6L843.4 1142.6L841.8 1143.6L831.1 1151.7L821.2 1159.2L818.7 1161.3L806.4 1171.5L802.5 1174.7L794.0 1182.6L786.5 1190.3L781.6 1195.1L771.8 1205.9L769.3 1208.2L756.9 1219.0L753.8 1221.5L744.6 1228.0L732.6 1237.1L732.2 1237.3L719.8 1247.2L713.4 1252.6L707.5 1258.2L697.3 1268.2L695.1 1270.7L682.8 1283.3L682.2 1283.8L670.4 1295.0L665.3 1299.4L658.0 1305.8L646.7 1315.0L645.7 1315.9L633.3 1326.4L628.6 1330.5L621.0 1338.0L612.5 1346.1L608.6 1350.3L596.8 1361.7Z" fill="#7ccefc" stroke="#7ccefc" stroke-width="0.6" fill-rule="evenodd"/>
<path d="M200.7 1353.4L207.1 1361.7L213.1 1361.7L225.4 1361.7L237.8 1361.7L245.4 1361.7L237.8 1351.8L234.3 1346.1L228.4 1330.5L225.4 1327.5L213.1 1319.0L206.7 1315.0L200.7 1312.1L188.4 1305.2L179.2 1299.4L176.0 1297.5L163.6 1289.4L155.3 1283.8L151.3 1281.2L138.9 1273.6L128.8 1268.2L126.6 1266.9L114.2 1257.6L114.2 1268.2L114.2 1281.8L117.4 1283.8L126.6 1289.3L138.9 1297.3L141.8 1299.4L151.3 1306.8L160.7 1315.0L163.6 1317.8L176.0 1329.2L177.7 1330.5L188.4 1340.2L194.3 1346.1ZM324.3 1361.7L335.3 1361.7L336.7 1360.2L345.9 1346.1L349.0 1341.6L355.9 1330.5L361.4 1323.0L371.1 1315.0L373.8 1313.3L386.1 1312.3L393.0 1315.0L398.5 1317.7L410.8 1329.9L411.3 1330.5L420.6 1346.1L423.2 1351.3L428.6 1361.7L435.6 1361.7L439.9 1361.7L435.6 1354.5L431.1 1346.1L423.2 1332.2L422.2 1330.5L410.8 1315.5L410.2 1315.0L398.5 1306.5L386.1 1302.5L373.8 1303.4L361.4 1310.3L356.8 1315.0L349.0 1325.8L345.8 1330.5L336.7 1343.6L333.8 1346.1L324.3 1356.3L317.7 1361.7ZM583.9 1361.7L596.2 1361.7L596.8 1361.7L608.6 1350.3L612.5 1346.1L621.0 1338.0L628.6 1330.5L633.3 1326.4L645.7 1315.9L646.7 1315.0L658.0 1305.8L665.3 1299.4L670.4 1295.0L682.2 1283.8L682.8 1283.3L695.1 1270.7L697.3 1268.2L707.5 1258.2L713.4 1252.6L719.8 1247.2L732.2 1237.3L732.6 1237.1L744.6 1228.0L753.8 1221.5L756.9 1219.0L769.3 1208.2L771.8 1205.9L781.6 1195.1L786.5 1190.3L794.0 1182.6L802.5 1174.7L806.4 1171.5L818.7 1161.3L821.2 1159.2L831.1 1151.7L841.8 1143.6L843.4 1142.6L855.8 1136.6L868.2 1132.5L880.5 1128.8L882.9 1128.0L892.9 1125.3L905.2 1122.0L917.6 1118.9L917.6 1112.6L905.2 1116.2L892.9 1119.6L880.5 1122.9L868.2 1125.7L858.8 1128.0L855.8 1128.9L843.4 1134.2L831.1 1141.4L827.7 1143.6L818.7 1150.3L806.4 1158.9L806.0 1159.2L794.0 1168.9L787.5 1174.7L781.6 1180.7L773.5 1190.3L769.3 1195.0L760.1 1205.9L756.9 1208.7L744.6 1218.6L741.3 1221.5L732.2 1228.3L721.2 1237.1L719.8 1238.2L707.5 1248.5L702.8 1252.6L695.1 1260.3L686.9 1268.2L682.8 1272.4L670.5 1283.8L670.4 1283.9L658.0 1294.6L652.1 1299.4L645.7 1304.7L633.3 1314.3L632.5 1315.0L621.0 1325.1L614.9 1330.5L608.6 1336.6L598.1 1346.1L596.2 1347.9L583.9 1358.8L580.4 1361.7Z" fill="#92d4fa" stroke="#92d4fa" stroke-width="0.6" fill-rule="evenodd"/>
<path d="M237.8 1351.8L245.4 1361.7L250.2 1361.7L262.5 1361.7L274.9 1361.7L287.2 1361.7L299.6 1361.7L312.0 1361.7L317.7 1361.7L324.3 1356.3L333.8 1346.1L336.7 1343.6L345.8 1330.5L349.0 1325.8L356.8 1315.0L361.4 1310.3L373.8 1303.4L386.1 1302.5L398.5 1306.5L410.2 1315.0L410.8 1315.5L422.2 1330.5L423.2 1332.2L431.1 1346.1L435.6 1354.5L439.9 1361.7L447.9 1361.7L452.8 1361.7L447.9 1355.5L442.2 1346.1L435.6 1335.2L432.9 1330.5L423.2 1315.7L422.7 1315.0L410.8 1303.3L404.7 1299.4L398.5 1296.2L386.1 1293.0L373.8 1293.6L361.4 1298.5L360.0 1299.4L349.0 1309.5L344.5 1315.0L336.7 1327.2L332.6 1330.5L324.3 1336.9L312.0 1342.0L299.6 1344.9L287.2 1334.4L284.7 1330.5L274.9 1322.4L268.3 1315.0L262.5 1310.7L250.2 1301.0L247.9 1299.4L237.8 1294.2L225.4 1288.9L213.8 1283.8L213.1 1283.5L200.7 1278.1L188.4 1272.5L179.2 1268.2L176.0 1266.7L163.6 1259.9L151.3 1252.6L151.3 1252.6L138.9 1245.0L127.6 1237.1L126.6 1236.3L114.2 1226.7L114.2 1237.1L114.2 1252.6L114.2 1257.6L126.6 1266.9L128.8 1268.2L138.9 1273.6L151.3 1281.2L155.3 1283.8L163.6 1289.4L176.0 1297.5L179.2 1299.4L188.4 1305.2L200.7 1312.1L206.7 1315.0L213.1 1319.0L225.4 1327.5L228.4 1330.5L234.3 1346.1ZM571.5 1361.7L580.4 1361.7L583.9 1358.8L596.2 1347.9L598.1 1346.1L608.6 1336.6L614.9 1330.5L621.0 1325.1L632.5 1315.0L633.3 1314.3L645.7 1304.7L652.1 1299.4L658.0 1294.6L670.4 1283.9L670.5 1283.8L682.8 1272.4L686.9 1268.2L695.1 1260.3L702.8 1252.6L707.5 1248.5L719.8 1238.2L721.2 1237.1L732.2 1228.3L741.3 1221.5L744.6 1218.6L756.9 1208.7L760.1 1205.9L769.3 1195.0L773.5 1190.3L781.6 1180.7L787.5 1174.7L794.0 1168.9L806.0 1159.2L806.4 1158.9L818.7 1150.3L827.7 1143.6L831.1 1141.4L843.4 1134.2L855.8 1128.9L858.8 1128.0L868.2 1125.7L880.5 1122.9L892.9 1119.6L905.2 1116.2L917.6 1112.6L917.6 1112.4L917.6 1106.4L905.2 1110.4L898.4 1112.4L892.9 1114.0L880.5 1117.1L868.2 1119.8L855.8 1122.4L843.4 1126.2L839.4 1128.0L831.1 1132.5L818.7 1140.2L812.7 1143.6L806.4 1147.9L794.0 1155.9L789.3 1159.2L781.6 1165.8L773.0 1174.7L769.3 1179.1L761.2 1190.3L756.9 1195.3L747.5 1205.9L744.6 1208.2L732.2 1218.9L729.4 1221.5L719.8 1229.2L710.3 1237.1L707.5 1239.4L695.1 1250.3L692.6 1252.6L682.8 1262.1L676.0 1268.2L670.4 1273.5L658.3 1283.8L658.0 1284.0L645.7 1294.0L638.4 1299.4L633.3 1303.4L621.0 1313.1L618.6 1315.0L608.6 1323.8L600.9 1330.5L596.2 1334.8L583.9 1344.6L581.8 1346.1L571.5 1354.6L563.3 1361.7Z" fill="#a8dcf8" stroke="#a8dcf8" stroke-width="0.6" fill-rule="evenodd"/>
<path d="M447.9 1355.5L452.8 1361.7L460.3 1361.7L472.6 1361.7L460.3 1351.8L455.9 1346.1L447.9 1335.3L445.1 1330.5L435.6 1316.3L434.7 1315.0L423.2 1301.4L421.0 1299.4L410.8 1292.2L398.5 1286.4L386.5 1283.8L386.1 1283.7L380.9 1283.8L373.8 1283.9L361.4 1287.1L349.0 1293.6L340.5 1299.4L336.7 1303.8L324.3 1311.5L312.0 1307.7L301.5 1299.4L299.6 1298.0L287.2 1289.0L279.3 1283.8L274.9 1281.3L262.5 1275.2L250.2 1270.0L245.3 1268.2L237.8 1265.6L225.4 1260.2L213.1 1253.9L210.5 1252.6L200.7 1248.1L188.4 1242.3L177.7 1237.1L176.0 1236.3L163.6 1230.6L151.3 1223.9L147.6 1221.5L138.9 1216.5L126.6 1207.6L124.2 1205.9L114.2 1199.7L114.2 1205.9L114.2 1221.5L114.2 1226.7L126.6 1236.3L127.6 1237.1L138.9 1245.0L151.3 1252.6L151.3 1252.6L163.6 1259.9L176.0 1266.7L179.2 1268.2L188.4 1272.5L200.7 1278.1L213.1 1283.5L213.8 1283.8L225.4 1288.9L237.8 1294.2L247.9 1299.4L250.2 1301.0L262.5 1310.7L268.3 1315.0L274.9 1322.4L284.7 1330.5L287.2 1334.4L299.6 1344.9L312.0 1342.0L324.3 1336.9L332.6 1330.5L336.7 1327.2L344.5 1315.0L349.0 1309.5L360.0 1299.4L361.4 1298.5L373.8 1293.6L386.1 1293.0L398.5 1296.2L404.7 1299.4L410.8 1303.3L422.7 1315.0L423.2 1315.7L432.9 1330.5L435.6 1335.2L442.2 1346.1ZM546.8 1361.7L559.2 1361.7L563.3 1361.7L571.5 1354.6L581.8 1346.1L583.9 1344.6L596.2 1334.8L600.9 1330.5L608.6 1323.8L618.6 1315.0L621.0 1313.1L633.3 1303.4L638.4 1299.4L645.7 1294.0L658.0 1284.0L658.3 1283.8L670.4 1273.5L676.0 1268.2L682.8 1262.1L692.6 1252.6L695.1 1250.3L707.5 1239.4L710.3 1237.1L719.8 1229.2L729.4 1221.5L732.2 1218.9L744.6 1208.2L747.5 1205.9L756.9 1195.3L761.2 1190.3L769.3 1179.1L773.0 1174.7L781.6 1165.8L789.3 1159.2L794.0 1155.9L806.4 1147.9L812.7 1143.6L818.7 1140.2L831.1 1132.5L839.4 1128.0L843.4 1126.2L855.8 1122.4L868.2 1119.8L880.5 1117.1L892.9 1114.0L898.4 1112.4L905.2 1110.4L917.6 1106.4L917.6 1100.1L905.2 1104.7L892.9 1108.4L880.5 1111.4L875.1 1112.4L868.2 1113.8L855.8 1116.1L843.4 1119.1L831.1 1124.2L823.6 1128.0L818.7 1130.9L806.4 1137.7L794.6 1143.6L794.0 1143.9L781.6 1151.7L772.1 1159.2L769.3 1161.9L758.9 1174.7L756.9 1177.4L748.4 1190.3L744.6 1194.6L735.1 1205.9L732.2 1208.3L719.8 1220.0L718.2 1221.5L707.5 1230.2L699.5 1237.1L695.1 1240.9L682.8 1252.0L682.1 1252.6L670.4 1263.2L664.6 1268.2L658.0 1273.8L645.7 1283.6L645.5 1283.8L633.3 1292.8L624.1 1299.4L621.0 1301.8L608.6 1311.6L604.5 1315.0L596.2 1322.1L585.2 1330.5L583.9 1331.6L571.5 1340.4L563.8 1346.1L559.2 1350.1L546.8 1360.8L545.7 1361.7Z" fill="#c0e6fa" stroke="#c0e6fa" stroke-width="0.6" fill-rule="evenodd"/>
<path d="M460.3 1351.8L472.6 1361.7L472.6 1361.7L485.0 1361.7L497.4 1361.7L505.6 1361.7L497.4 1356.8L485.0 1349.2L480.0 1346.1L472.6 1341.1L461.3 1330.5L460.3 1329.6L448.5 1315.0L447.9 1314.3L435.6 1299.4L435.5 1299.4L423.2 1289.1L414.8 1283.8L410.8 1281.7L398.5 1277.0L386.1 1274.5L373.8 1274.1L361.4 1275.7L349.0 1278.7L336.7 1281.8L324.3 1282.0L312.0 1277.2L299.6 1269.0L298.5 1268.2L287.2 1261.7L274.9 1255.2L269.4 1252.6L262.5 1249.7L250.2 1245.0L237.8 1240.0L231.3 1237.1L225.4 1234.8L213.1 1229.9L200.7 1224.3L194.7 1221.5L188.4 1219.1L176.0 1214.3L163.6 1208.9L158.1 1205.9L151.3 1202.7L138.9 1195.1L132.4 1190.3L126.6 1186.4L114.2 1178.9L114.2 1190.3L114.2 1199.7L124.2 1205.9L126.6 1207.6L138.9 1216.5L147.6 1221.5L151.3 1223.9L163.6 1230.6L176.0 1236.3L177.7 1237.1L188.4 1242.3L200.7 1248.1L210.5 1252.6L213.1 1253.9L225.4 1260.2L237.8 1265.6L245.3 1268.2L250.2 1270.0L262.5 1275.2L274.9 1281.3L279.3 1283.8L287.2 1289.0L299.6 1298.0L301.5 1299.4L312.0 1307.7L324.3 1311.5L336.7 1303.8L340.5 1299.4L349.0 1293.6L361.4 1287.1L373.8 1283.9L380.9 1283.8L386.1 1283.7L386.5 1283.8L398.5 1286.4L410.8 1292.2L421.0 1299.4L423.2 1301.4L434.7 1315.0L435.6 1316.3L445.1 1330.5L447.9 1335.3L455.9 1346.1ZM534.4 1361.7L545.7 1361.7L546.8 1360.8L559.2 1350.1L563.8 1346.1L571.5 1340.4L583.9 1331.6L585.2 1330.5L596.2 1322.1L604.5 1315.0L608.6 1311.6L621.0 1301.8L624.1 1299.4L633.3 1292.8L645.5 1283.8L645.7 1283.6L658.0 1273.8L664.6 1268.2L670.4 1263.2L682.1 1252.6L682.8 1252.0L695.1 1240.9L699.5 1237.1L707.5 1230.2L718.2 1221.5L719.8 1220.0L732.2 1208.3L735.1 1205.9L744.6 1194.6L748.4 1190.3L756.9 1177.4L758.9 1174.7L769.3 1161.9L772.1 1159.2L781.6 1151.7L794.0 1143.9L794.6 1143.6L806.4 1137.7L818.7 1130.9L823.6 1128.0L831.1 1124.2L843.4 1119.1L855.8 1116.1L868.2 1113.8L875.1 1112.4L880.5 1111.4L892.9 1108.4L905.2 1104.7L917.6 1100.1L917.6 1096.8L917.6 1093.3L910.6 1096.8L905.2 1099.0L892.9 1102.9L880.5 1105.8L868.2 1108.2L855.8 1110.0L843.4 1112.0L842.2 1112.4L831.1 1116.5L818.7 1122.6L806.6 1128.0L806.4 1128.1L794.0 1133.6L781.6 1139.2L773.4 1143.6L769.3 1146.5L756.9 1157.3L755.2 1159.2L744.9 1174.7L744.6 1175.3L735.8 1190.3L732.2 1194.6L723.8 1205.9L719.8 1209.6L707.5 1221.0L706.9 1221.5L695.1 1231.4L688.6 1237.1L682.8 1242.3L671.0 1252.6L670.4 1253.2L658.0 1263.7L652.4 1268.2L645.7 1273.6L633.3 1282.5L631.4 1283.8L621.0 1291.0L609.2 1299.4L608.6 1299.8L596.2 1309.7L589.2 1315.0L583.9 1319.0L571.5 1327.3L566.4 1330.5L559.2 1335.6L546.8 1345.1L545.5 1346.1L534.4 1354.9L523.0 1361.7Z" fill="#d6eefa" stroke="#d6eefa" stroke-width="0.6" fill-rule="evenodd"/>
<path d="M485.0 1349.2L497.4 1356.8L505.6 1361.7L509.7 1361.7L522.1 1361.7L523.0 1361.7L534.4 1354.9L545.5 1346.1L546.8 1345.1L559.2 1335.6L566.4 1330.5L571.5 1327.3L583.9 1319.0L589.2 1315.0L596.2 1309.7L608.6 1299.8L609.2 1299.4L621.0 1291.0L631.4 1283.8L633.3 1282.5L645.7 1273.6L652.4 1268.2L658.0 1263.7L670.4 1253.2L671.0 1252.6L682.8 1242.3L688.6 1237.1L695.1 1231.4L706.9 1221.5L707.5 1221.0L719.8 1209.6L723.8 1205.9L732.2 1194.6L735.8 1190.3L744.6 1175.3L744.9 1174.7L755.2 1159.2L756.9 1157.3L769.3 1146.5L773.4 1143.6L781.6 1139.2L794.0 1133.6L806.4 1128.1L806.6 1128.0L818.7 1122.6L831.1 1116.5L842.2 1112.4L843.4 1112.0L855.8 1110.0L868.2 1108.2L880.5 1105.8L892.9 1102.9L905.2 1099.0L910.6 1096.8L917.6 1093.3L917.6 1085.9L905.2 1092.4L894.5 1096.8L892.9 1097.3L880.5 1100.2L868.2 1102.7L855.8 1104.3L843.4 1105.7L831.1 1109.3L823.6 1112.4L818.7 1114.8L806.4 1119.9L794.0 1123.9L781.6 1127.9L781.3 1128.0L769.3 1133.5L756.9 1141.0L753.2 1143.6L744.6 1152.6L740.0 1159.2L732.2 1174.7L732.2 1174.7L724.3 1190.3L719.8 1196.2L712.4 1205.9L707.5 1210.4L695.4 1221.5L695.1 1221.7L682.8 1232.4L677.4 1237.1L670.4 1243.1L659.1 1252.6L658.0 1253.5L645.7 1263.4L639.3 1268.2L633.3 1272.5L621.0 1280.4L615.6 1283.8L608.6 1288.5L596.2 1297.5L593.8 1299.4L583.9 1306.9L571.7 1315.0L571.5 1315.1L559.2 1322.7L546.8 1330.2L546.3 1330.5L534.4 1338.9L522.1 1345.6L514.6 1346.1L509.7 1346.4L509.2 1346.1L497.4 1338.2L486.8 1330.5L485.0 1329.4L472.6 1320.6L466.6 1315.0L460.3 1309.4L451.1 1299.4L447.9 1296.5L435.6 1285.9L432.8 1283.8L423.2 1278.2L410.8 1272.1L399.7 1268.2L398.5 1267.8L386.1 1265.2L373.8 1264.1L361.4 1264.3L349.0 1264.6L336.7 1263.8L324.3 1260.5L312.0 1254.5L309.0 1252.6L299.6 1247.6L287.2 1240.9L279.7 1237.1L274.9 1234.8L262.5 1229.8L250.2 1225.0L241.5 1221.5L237.8 1220.3L225.4 1216.3L213.1 1212.2L200.7 1207.3L197.6 1205.9L188.4 1202.7L176.0 1198.5L163.6 1193.2L158.4 1190.3L151.3 1186.6L138.9 1178.3L134.2 1174.7L126.6 1169.2L114.2 1161.9L114.2 1174.7L114.2 1178.9L126.6 1186.4L132.4 1190.3L138.9 1195.1L151.3 1202.7L158.1 1205.9L163.6 1208.9L176.0 1214.3L188.4 1219.1L194.7 1221.5L200.7 1224.3L213.1 1229.9L225.4 1234.8L231.3 1237.1L237.8 1240.0L250.2 1245.0L262.5 1249.7L269.4 1252.6L274.9 1255.2L287.2 1261.7L298.5 1268.2L299.6 1269.0L312.0 1277.2L324.3 1282.0L336.7 1281.8L349.0 1278.7L361.4 1275.7L373.8 1274.1L386.1 1274.5L398.5 1277.0L410.8 1281.7L414.8 1283.8L423.2 1289.1L435.5 1299.4L435.6 1299.4L447.9 1314.3L448.5 1315.0L460.3 1329.6L461.3 1330.5L472.6 1341.1L480.0 1346.1Z" fill="#e8f6fa" stroke="#e8f6fa" stroke-width="0.6" fill-rule="evenodd"/>
<path d="M509.7 1346.4L514.6 1346.1L522.1 1345.6L534.4 1338.9L546.3 1330.5L546.8 1330.2L559.2 1322.7L571.5 1315.1L571.7 1315.0L583.9 1306.9L593.8 1299.4L596.2 1297.5L608.6 1288.5L615.6 1283.8L621.0 1280.4L633.3 1272.5L639.3 1268.2L645.7 1263.4L658.0 1253.5L659.1 1252.6L670.4 1243.1L677.4 1237.1L682.8 1232.4L695.1 1221.7L695.4 1221.5L707.5 1210.4L712.4 1205.9L719.8 1196.2L724.3 1190.3L732.2 1174.7L732.2 1174.7L740.0 1159.2L744.6 1152.6L753.2 1143.6L756.9 1141.0L769.3 1133.5L781.3 1128.0L781.6 1127.9L794.0 1123.9L806.4 1119.9L818.7 1114.8L823.6 1112.4L831.1 1109.3L843.4 1105.7L855.8 1104.3L868.2 1102.7L880.5 1100.2L892.9 1097.3L894.5 1096.8L905.2 1092.4L917.6 1085.9L917.6 1081.2L917.6 1077.8L912.9 1081.2L905.2 1085.4L892.9 1090.7L880.5 1094.4L869.8 1096.8L868.2 1097.2L855.8 1098.7L843.4 1099.3L831.1 1102.6L818.7 1107.8L806.4 1111.8L803.7 1112.4L794.0 1115.1L781.6 1118.1L769.3 1122.1L756.9 1127.9L756.7 1128.0L744.6 1136.4L736.6 1143.6L732.2 1150.0L727.5 1159.2L720.9 1174.7L719.8 1176.7L713.0 1190.3L707.5 1197.4L700.5 1205.9L695.1 1210.8L683.8 1221.5L682.8 1222.4L670.4 1233.0L665.5 1237.1L658.0 1243.2L646.3 1252.6L645.7 1253.1L633.3 1262.2L623.8 1268.2L621.0 1270.0L608.6 1277.5L599.1 1283.8L596.2 1285.8L583.9 1295.1L577.7 1299.4L571.5 1303.6L559.2 1310.9L551.3 1315.0L546.8 1317.6L534.4 1324.1L522.1 1328.1L509.7 1327.1L497.4 1321.3L488.1 1315.0L485.0 1313.1L472.6 1304.0L467.6 1299.4L460.3 1292.9L450.1 1283.8L447.9 1282.2L435.6 1274.7L423.7 1268.2L423.2 1268.0L410.8 1262.9L398.5 1258.8L386.1 1255.9L373.8 1254.0L361.7 1252.6L361.4 1252.6L349.0 1250.7L336.7 1247.4L324.3 1242.4L313.7 1237.1L312.0 1236.2L299.6 1230.1L287.2 1223.8L282.5 1221.5L274.9 1218.2L262.5 1213.8L250.2 1209.7L239.8 1205.9L237.8 1205.3L225.4 1202.1L213.1 1198.7L200.7 1194.5L189.4 1190.3L188.4 1190.0L176.0 1185.8L163.6 1180.4L154.2 1174.7L151.3 1173.0L138.9 1164.1L132.6 1159.2L126.6 1154.8L114.2 1148.3L114.2 1159.2L114.2 1161.9L126.6 1169.2L134.2 1174.7L138.9 1178.3L151.3 1186.6L158.4 1190.3L163.6 1193.2L176.0 1198.5L188.4 1202.7L197.6 1205.9L200.7 1207.3L213.1 1212.2L225.4 1216.3L237.8 1220.3L241.5 1221.5L250.2 1225.0L262.5 1229.8L274.9 1234.8L279.7 1237.1L287.2 1240.9L299.6 1247.6L309.0 1252.6L312.0 1254.5L324.3 1260.5L336.7 1263.8L349.0 1264.6L361.4 1264.3L373.8 1264.1L386.1 1265.2L398.5 1267.8L399.7 1268.2L410.8 1272.1L423.2 1278.2L432.8 1283.8L435.6 1285.9L447.9 1296.5L451.1 1299.4L460.3 1309.4L466.6 1315.0L472.6 1320.6L485.0 1329.4L486.8 1330.5L497.4 1338.2L509.2 1346.1Z" fill="#fcfef8" stroke="#fcfef8" stroke-width="0.6" fill-rule="evenodd"/>
<path d="M497.4 1321.3L509.7 1327.1L522.1 1328.1L534.4 1324.1L546.8 1317.6L551.3 1315.0L559.2 1310.9L571.5 1303.6L577.7 1299.4L583.9 1295.1L596.2 1285.8L599.1 1283.8L608.6 1277.5L621.0 1270.0L623.8 1268.2L633.3 1262.2L645.7 1253.1L646.3 1252.6L658.0 1243.2L665.5 1237.1L670.4 1233.0L682.8 1222.4L683.8 1221.5L695.1 1210.8L700.5 1205.9L707.5 1197.4L713.0 1190.3L719.8 1176.7L720.9 1174.7L727.5 1159.2L732.2 1150.0L736.6 1143.6L744.6 1136.4L756.7 1128.0L756.9 1127.9L769.3 1122.1L781.6 1118.1L794.0 1115.1L803.7 1112.4L806.4 1111.8L818.7 1107.8L831.1 1102.6L843.4 1099.3L855.8 1098.7L868.2 1097.2L869.8 1096.8L880.5 1094.4L892.9 1090.7L905.2 1085.4L912.9 1081.2L917.6 1077.8L917.6 1068.3L905.2 1077.2L898.9 1081.2L892.9 1083.9L880.5 1087.9L868.2 1091.3L855.8 1093.2L843.4 1093.5L831.1 1096.0L828.8 1096.8L818.7 1101.1L806.4 1104.8L794.0 1106.9L781.6 1108.7L769.3 1111.6L767.2 1112.4L756.9 1117.0L744.6 1124.0L739.1 1128.0L732.2 1134.2L724.7 1143.6L719.8 1152.9L716.7 1159.2L709.9 1174.7L707.5 1179.5L701.4 1190.3L695.1 1198.0L688.5 1205.9L682.8 1211.3L671.8 1221.5L670.4 1222.6L658.0 1232.7L652.6 1237.1L645.7 1242.5L633.3 1251.7L631.9 1252.6L621.0 1259.5L608.6 1266.7L606.1 1268.2L596.2 1274.6L583.9 1283.6L583.7 1283.8L571.5 1292.6L560.3 1299.4L559.2 1300.0L546.8 1306.4L534.4 1311.3L522.1 1313.6L509.7 1312.3L497.4 1307.4L485.0 1299.6L484.8 1299.4L472.6 1290.2L465.6 1283.8L460.3 1279.4L447.9 1270.9L443.4 1268.2L435.6 1264.6L423.2 1259.0L410.8 1254.0L406.8 1252.6L398.5 1249.9L386.1 1246.5L373.8 1243.6L361.4 1240.8L349.2 1237.1L349.0 1237.0L336.7 1232.1L324.3 1226.5L314.0 1221.5L312.0 1220.6L299.6 1215.1L287.2 1209.5L279.4 1205.9L274.9 1204.2L262.5 1200.6L250.2 1197.2L237.8 1193.7L225.6 1190.3L225.4 1190.3L213.1 1187.1L200.7 1183.4L188.4 1179.2L176.6 1174.7L176.0 1174.5L163.6 1168.8L151.3 1160.9L149.0 1159.2L138.9 1151.7L128.3 1143.6L126.6 1142.5L114.2 1137.4L114.2 1143.6L114.2 1148.3L126.6 1154.8L132.6 1159.2L138.9 1164.1L151.3 1173.0L154.2 1174.7L163.6 1180.4L176.0 1185.8L188.4 1190.0L189.4 1190.3L200.7 1194.5L213.1 1198.7L225.4 1202.1L237.8 1205.3L239.8 1205.9L250.2 1209.7L262.5 1213.8L274.9 1218.2L282.5 1221.5L287.2 1223.8L299.6 1230.1L312.0 1236.2L313.7 1237.1L324.3 1242.4L336.7 1247.4L349.0 1250.7L361.4 1252.6L361.7 1252.6L373.8 1254.0L386.1 1255.9L398.5 1258.8L410.8 1262.9L423.2 1268.0L423.7 1268.2L435.6 1274.7L447.9 1282.2L450.1 1283.8L460.3 1292.9L467.6 1299.4L472.6 1304.0L485.0 1313.1L488.1 1315.0Z" fill="#fef6e2" stroke="#fef6e2" stroke-width="0.6" fill-rule="evenodd"/>
<path d="M485.0 1299.6L497.4 1307.4L509.7 1312.3L522.1 1313.6L534.4 1311.3L546.8 1306.4L559.2 1300.0L560.3 1299.4L571.5 1292.6L583.7 1283.8L583.9 1283.6L596.2 1274.6L606.1 1268.2L608.6 1266.7L621.0 1259.5L631.9 1252.6L633.3 1251.7L645.7 1242.5L652.6 1237.1L658.0 1232.7L670.4 1222.6L671.8 1221.5L682.8 1211.3L688.5 1205.9L695.1 1198.0L701.4 1190.3L707.5 1179.5L709.9 1174.7L716.7 1159.2L719.8 1152.9L724.7 1143.6L732.2 1134.2L739.1 1128.0L744.6 1124.0L756.9 1117.0L767.2 1112.4L769.3 1111.6L781.6 1108.7L794.0 1106.9L806.4 1104.8L818.7 1101.1L828.8 1096.8L831.1 1096.0L843.4 1093.5L855.8 1093.2L868.2 1091.3L880.5 1087.9L892.9 1083.9L898.9 1081.2L905.2 1077.2L917.6 1068.3L917.6 1065.7L917.6 1056.4L907.3 1065.7L905.2 1067.1L892.9 1075.1L881.3 1081.2L880.5 1081.5L868.2 1085.5L855.8 1087.7L843.4 1088.1L831.1 1090.3L818.7 1094.7L809.5 1096.8L806.4 1097.7L794.0 1099.1L781.6 1099.9L769.3 1102.1L756.9 1106.7L746.1 1112.4L744.6 1113.3L732.2 1122.3L726.1 1128.0L719.8 1135.8L714.3 1143.6L707.5 1156.9L706.3 1159.2L699.1 1174.7L695.1 1181.6L689.8 1190.3L682.8 1198.7L676.4 1205.9L670.4 1211.4L658.7 1221.5L658.0 1222.0L645.7 1231.6L638.4 1237.1L633.3 1240.8L621.0 1249.0L614.9 1252.6L608.6 1256.3L596.2 1263.8L590.0 1268.2L583.9 1272.8L571.5 1282.0L568.7 1283.8L559.2 1289.8L546.8 1295.8L536.0 1299.4L534.4 1300.0L522.1 1301.8L509.7 1300.1L507.9 1299.4L497.4 1295.5L485.0 1288.0L479.8 1283.8L472.6 1278.4L460.7 1268.2L460.3 1267.9L447.9 1261.5L435.6 1255.7L428.8 1252.6L423.2 1250.2L410.8 1245.3L398.5 1240.9L386.2 1237.1L386.1 1237.0L373.8 1233.2L361.4 1228.9L349.0 1223.7L344.3 1221.5L336.7 1217.7L324.3 1212.1L312.0 1206.7L310.1 1205.9L299.6 1201.8L287.2 1196.9L274.9 1192.4L267.7 1190.3L262.5 1188.9L250.2 1186.0L237.8 1183.1L225.4 1180.1L213.1 1176.7L206.7 1174.7L200.7 1172.9L188.4 1168.8L176.0 1164.2L166.0 1159.2L163.6 1157.9L151.3 1149.6L143.4 1143.6L138.9 1140.5L126.6 1132.8L115.0 1128.0L114.2 1127.7L114.2 1128.0L114.2 1137.4L126.6 1142.5L128.3 1143.6L138.9 1151.7L149.0 1159.2L151.3 1160.9L163.6 1168.8L176.0 1174.5L176.6 1174.7L188.4 1179.2L200.7 1183.4L213.1 1187.1L225.4 1190.3L225.6 1190.3L237.8 1193.7L250.2 1197.2L262.5 1200.6L274.9 1204.2L279.4 1205.9L287.2 1209.5L299.6 1215.1L312.0 1220.6L314.0 1221.5L324.3 1226.5L336.7 1232.1L349.0 1237.0L349.2 1237.1L361.4 1240.8L373.8 1243.6L386.1 1246.5L398.5 1249.9L406.8 1252.6L410.8 1254.0L423.2 1259.0L435.6 1264.6L443.4 1268.2L447.9 1270.9L460.3 1279.4L465.6 1283.8L472.6 1290.2L484.8 1299.4Z" fill="#fdeecb" stroke="#fdeecb" stroke-width="0.6" fill-rule="evenodd"/>
<path d="M509.7 1300.1L522.1 1301.8L534.4 1300.0L536.0 1299.4L546.8 1295.8L559.2 1289.8L568.7 1283.8L571.5 1282.0L583.9 1272.8L590.0 1268.2L596.2 1263.8L608.6 1256.3L614.9 1252.6L621.0 1249.0L633.3 1240.8L638.4 1237.1L645.7 1231.6L658.0 1222.0L658.7 1221.5L670.4 1211.4L676.4 1205.9L682.8 1198.7L689.8 1190.3L695.1 1181.6L699.1 1174.7L706.3 1159.2L707.5 1156.9L714.3 1143.6L719.8 1135.8L726.1 1128.0L732.2 1122.3L744.6 1113.3L746.1 1112.4L756.9 1106.7L769.3 1102.1L781.6 1099.9L794.0 1099.1L806.4 1097.7L809.5 1096.8L818.7 1094.7L831.1 1090.3L843.4 1088.1L855.8 1087.7L868.2 1085.5L880.5 1081.5L881.3 1081.2L892.9 1075.1L905.2 1067.1L907.3 1065.7L917.6 1056.4L917.6 1050.1L917.6 1043.2L908.0 1050.1L905.2 1052.3L892.9 1064.5L891.8 1065.7L880.5 1072.2L868.2 1079.0L860.9 1081.2L855.8 1082.3L843.4 1082.6L831.1 1084.7L818.7 1088.8L806.4 1091.0L794.0 1091.5L781.6 1091.6L769.3 1093.2L756.9 1096.8L756.9 1096.8L744.6 1103.0L732.2 1111.5L731.1 1112.4L719.8 1122.7L715.0 1128.0L707.5 1138.6L704.0 1143.6L696.0 1159.2L695.1 1161.0L688.3 1174.7L682.8 1183.5L678.1 1190.3L670.4 1199.0L663.5 1205.9L658.0 1210.5L645.7 1220.5L644.4 1221.5L633.3 1229.7L622.7 1237.1L621.0 1238.2L608.6 1245.9L597.8 1252.6L596.2 1253.6L583.9 1262.3L576.1 1268.2L571.5 1271.7L559.2 1279.8L551.0 1283.8L546.8 1285.9L534.4 1289.9L522.1 1291.3L509.7 1289.7L497.4 1284.8L495.7 1283.8L485.0 1277.5L473.2 1268.2L472.6 1267.8L460.3 1259.4L447.9 1252.7L447.7 1252.6L435.6 1247.3L423.2 1241.8L411.8 1237.1L410.8 1236.6L398.5 1231.8L386.1 1227.3L373.8 1222.6L371.0 1221.5L361.4 1217.1L349.0 1210.8L340.0 1205.9L336.7 1204.1L324.3 1198.8L312.0 1194.1L301.7 1190.3L299.6 1189.6L287.2 1185.4L274.9 1181.5L262.5 1178.4L250.2 1175.6L246.0 1174.7L237.8 1173.0L225.4 1170.1L213.1 1166.7L200.7 1162.8L190.0 1159.2L188.4 1158.6L176.0 1153.7L163.6 1147.2L158.4 1143.6L151.3 1138.6L138.9 1130.2L135.2 1128.0L126.6 1123.6L114.2 1118.9L114.2 1127.7L115.0 1128.0L126.6 1132.8L138.9 1140.5L143.4 1143.6L151.3 1149.6L163.6 1157.9L166.0 1159.2L176.0 1164.2L188.4 1168.8L200.7 1172.9L206.7 1174.7L213.1 1176.7L225.4 1180.1L237.8 1183.1L250.2 1186.0L262.5 1188.9L267.7 1190.3L274.9 1192.4L287.2 1196.9L299.6 1201.8L310.1 1205.9L312.0 1206.7L324.3 1212.1L336.7 1217.7L344.3 1221.5L349.0 1223.7L361.4 1228.9L373.8 1233.2L386.1 1237.0L386.2 1237.1L398.5 1240.9L410.8 1245.3L423.2 1250.2L428.8 1252.6L435.6 1255.7L447.9 1261.5L460.3 1267.9L460.7 1268.2L472.6 1278.4L479.8 1283.8L485.0 1288.0L497.4 1295.5L507.9 1299.4Z" fill="#fde6ae" stroke="#fde6ae" stroke-width="0.6" fill-rule="evenodd"/>
<path d="M497.4 1284.8L509.7 1289.7L522.1 1291.3L534.4 1289.9L546.8 1285.9L551.0 1283.8L559.2 1279.8L571.5 1271.7L576.1 1268.2L583.9 1262.3L596.2 1253.6L597.8 1252.6L608.6 1245.9L621.0 1238.2L622.7 1237.1L633.3 1229.7L644.4 1221.5L645.7 1220.5L658.0 1210.5L663.5 1205.9L670.4 1199.0L678.1 1190.3L682.8 1183.5L688.3 1174.7L695.1 1161.0L696.0 1159.2L704.0 1143.6L707.5 1138.6L715.0 1128.0L719.8 1122.7L731.1 1112.4L732.2 1111.5L744.6 1103.0L756.9 1096.8L756.9 1096.8L769.3 1093.2L781.6 1091.6L794.0 1091.5L806.4 1091.0L818.7 1088.8L831.1 1084.7L843.4 1082.6L855.8 1082.3L860.9 1081.2L868.2 1079.0L880.5 1072.2L891.8 1065.7L892.9 1064.5L905.2 1052.3L908.0 1050.1L917.6 1043.2L917.6 1034.5L917.6 1030.0L905.2 1034.4L905.1 1034.5L892.9 1046.1L890.0 1050.1L880.5 1060.3L876.6 1065.7L868.2 1071.0L855.8 1076.0L843.4 1076.4L831.1 1078.6L823.7 1081.2L818.7 1082.9L806.4 1084.3L794.0 1084.0L781.6 1083.7L769.3 1084.9L756.9 1087.7L744.6 1092.5L738.3 1096.8L732.2 1100.9L719.8 1111.1L718.5 1112.4L707.5 1124.4L704.4 1128.0L695.1 1141.5L693.8 1143.6L685.8 1159.2L682.8 1165.1L677.3 1174.7L670.4 1184.7L665.8 1190.3L658.0 1198.1L649.3 1205.9L645.7 1208.8L633.3 1218.4L629.1 1221.5L621.0 1227.2L608.6 1235.5L606.3 1237.1L596.2 1243.5L583.9 1252.2L583.3 1252.6L571.5 1261.6L561.9 1268.2L559.2 1270.1L546.8 1276.4L534.4 1280.1L522.1 1281.4L509.7 1279.9L497.4 1275.3L486.0 1268.2L485.0 1267.7L472.6 1259.2L462.9 1252.6L460.3 1251.1L447.9 1245.0L435.6 1239.2L430.9 1237.1L423.2 1233.4L410.8 1227.8L398.5 1222.6L395.6 1221.5L386.1 1217.3L373.8 1211.7L362.6 1205.9L361.4 1205.2L349.0 1198.1L336.7 1191.5L333.9 1190.3L324.3 1186.3L312.0 1182.0L299.6 1178.1L288.7 1174.7L287.2 1174.3L274.9 1170.7L262.5 1167.8L250.2 1165.4L237.8 1163.1L225.4 1160.3L221.5 1159.2L213.1 1156.4L200.7 1152.2L188.4 1147.9L176.9 1143.6L176.0 1143.2L163.6 1135.9L151.8 1128.0L151.3 1127.7L138.9 1120.3L126.6 1114.7L120.4 1112.4L114.2 1110.0L114.2 1112.4L114.2 1118.9L126.6 1123.6L135.2 1128.0L138.9 1130.2L151.3 1138.6L158.4 1143.6L163.6 1147.2L176.0 1153.7L188.4 1158.6L190.0 1159.2L200.7 1162.8L213.1 1166.7L225.4 1170.1L237.8 1173.0L246.0 1174.7L250.2 1175.6L262.5 1178.4L274.9 1181.5L287.2 1185.4L299.6 1189.6L301.7 1190.3L312.0 1194.1L324.3 1198.8L336.7 1204.1L340.0 1205.9L349.0 1210.8L361.4 1217.1L371.0 1221.5L373.8 1222.6L386.1 1227.3L398.5 1231.8L410.8 1236.6L411.8 1237.1L423.2 1241.8L435.6 1247.3L447.7 1252.6L447.9 1252.7L460.3 1259.4L472.6 1267.8L473.2 1268.2L485.0 1277.5L495.7 1283.8Z" fill="#fde0a0" stroke="#fde0a0" stroke-width="0.6" fill-rule="evenodd"/>
<path d="M497.4 1275.3L509.7 1279.9L522.1 1281.4L534.4 1280.1L546.8 1276.4L559.2 1270.1L561.9 1268.2L571.5 1261.6L583.3 1252.6L583.9 1252.2L596.2 1243.5L606.3 1237.1L608.6 1235.5L621.0 1227.2L629.1 1221.5L633.3 1218.4L645.7 1208.8L649.3 1205.9L658.0 1198.1L665.8 1190.3L670.4 1184.7L677.3 1174.7L682.8 1165.1L685.8 1159.2L693.8 1143.6L695.1 1141.5L704.4 1128.0L707.5 1124.4L718.5 1112.4L719.8 1111.1L732.2 1100.9L738.3 1096.8L744.6 1092.5L756.9 1087.7L769.3 1084.9L781.6 1083.7L794.0 1084.0L806.4 1084.3L818.7 1082.9L823.7 1081.2L831.1 1078.6L843.4 1076.4L855.8 1076.0L868.2 1071.0L876.6 1065.7L880.5 1060.3L890.0 1050.1L892.9 1046.1L905.1 1034.5L905.2 1034.4L917.6 1030.0L917.6 1018.9L917.6 1018.2L905.2 1018.8L904.8 1018.9L892.9 1025.7L884.5 1034.5L880.5 1040.0L875.3 1050.1L868.2 1059.9L863.5 1065.7L855.8 1069.3L843.4 1070.1L831.1 1072.0L818.7 1076.1L806.4 1076.7L794.0 1075.8L781.6 1075.6L769.3 1076.9L756.9 1078.9L745.7 1081.2L744.6 1081.6L732.2 1089.0L723.6 1096.8L719.8 1099.8L707.5 1112.1L707.1 1112.4L695.1 1126.4L693.9 1128.0L683.9 1143.6L682.8 1145.8L675.5 1159.2L670.4 1168.0L665.9 1174.7L658.0 1184.5L652.5 1190.3L645.7 1196.5L634.3 1205.9L633.3 1206.7L621.0 1216.0L613.4 1221.5L608.6 1224.7L596.2 1233.3L591.2 1237.1L583.9 1242.2L571.5 1251.6L570.1 1252.6L559.2 1260.3L546.8 1266.9L542.7 1268.2L534.4 1270.8L522.1 1272.1L509.7 1270.6L503.5 1268.2L497.4 1266.0L485.0 1258.9L475.8 1252.6L472.6 1250.7L460.3 1243.5L447.9 1237.2L447.6 1237.1L435.6 1231.0L423.2 1224.8L416.0 1221.5L410.8 1218.8L398.5 1212.9L386.1 1207.1L383.7 1205.9L373.8 1200.4L361.4 1193.0L356.9 1190.3L349.0 1185.3L336.7 1178.9L326.2 1174.7L324.3 1174.0L312.0 1170.0L299.6 1166.5L287.2 1163.1L274.9 1159.8L272.1 1159.2L262.5 1156.9L250.2 1154.7L237.8 1152.7L225.4 1149.7L213.1 1145.6L207.1 1143.6L200.7 1141.0L188.4 1136.2L176.0 1130.9L170.8 1128.0L163.6 1123.8L151.3 1116.5L143.2 1112.4L138.9 1110.4L126.6 1105.5L114.2 1100.8L114.2 1110.0L120.4 1112.4L126.6 1114.7L138.9 1120.3L151.3 1127.7L151.8 1128.0L163.6 1135.9L176.0 1143.2L176.9 1143.6L188.4 1147.9L200.7 1152.2L213.1 1156.4L221.5 1159.2L225.4 1160.3L237.8 1163.1L250.2 1165.4L262.5 1167.8L274.9 1170.7L287.2 1174.3L288.7 1174.7L299.6 1178.1L312.0 1182.0L324.3 1186.3L333.9 1190.3L336.7 1191.5L349.0 1198.1L361.4 1205.2L362.6 1205.9L373.8 1211.7L386.1 1217.3L395.6 1221.5L398.5 1222.6L410.8 1227.8L423.2 1233.4L430.9 1237.1L435.6 1239.2L447.9 1245.0L460.3 1251.1L462.9 1252.6L472.6 1259.2L485.0 1267.7L486.0 1268.2Z" fill="#fdd880" stroke="#fdd880" stroke-width="0.6" fill-rule="evenodd"/>
<path d="M509.7 1270.6L522.1 1272.1L534.4 1270.8L542.7 1268.2L546.8 1266.9L559.2 1260.3L570.1 1252.6L571.5 1251.6L583.9 1242.2L591.2 1237.1L596.2 1233.3L608.6 1224.7L613.4 1221.5L621.0 1216.0L633.3 1206.7L634.3 1205.9L645.7 1196.5L652.5 1190.3L658.0 1184.5L665.9 1174.7L670.4 1168.0L675.5 1159.2L682.8 1145.8L683.9 1143.6L693.9 1128.0L695.1 1126.4L707.1 1112.4L707.5 1112.1L719.8 1099.8L723.6 1096.8L732.2 1089.0L744.6 1081.6L745.7 1081.3L756.9 1078.9L769.3 1076.9L781.6 1075.6L794.0 1075.8L806.4 1076.7L818.7 1076.1L831.1 1072.0L843.4 1070.1L855.8 1069.3L863.5 1065.7L868.2 1059.9L875.3 1050.1L880.5 1040.0L884.5 1034.5L892.9 1025.7L904.8 1018.9L905.2 1018.8L917.6 1018.2L917.6 1008.8L905.2 1007.8L892.9 1011.2L882.5 1018.9L880.5 1021.0L870.3 1034.5L868.2 1038.8L862.4 1050.1L855.8 1058.3L843.4 1061.6L831.1 1065.1L830.1 1065.7L818.7 1069.0L806.4 1068.4L794.0 1067.3L781.6 1067.6L769.3 1069.1L756.9 1070.7L744.6 1071.7L732.2 1076.4L726.9 1081.2L719.8 1087.7L711.0 1096.8L707.5 1100.3L695.9 1112.4L695.1 1113.3L683.2 1128.0L682.8 1128.8L673.7 1143.6L670.4 1149.7L664.8 1159.2L658.0 1169.2L653.7 1174.7L645.7 1183.3L638.3 1190.3L633.3 1194.5L621.0 1204.4L619.1 1205.9L608.6 1213.6L598.1 1221.5L596.2 1222.7L583.9 1232.0L577.5 1237.1L571.5 1241.6L559.2 1250.5L555.5 1252.6L546.8 1257.4L534.4 1261.5L522.1 1262.9L509.7 1261.6L497.4 1257.1L489.5 1252.6L485.0 1250.3L472.6 1242.9L462.3 1237.1L460.3 1235.9L447.9 1229.4L435.6 1222.8L432.9 1221.5L423.2 1215.8L410.8 1209.2L404.0 1205.9L398.5 1202.8L386.1 1196.0L376.5 1190.3L373.8 1188.5L361.4 1180.0L352.9 1174.7L349.0 1172.1L336.7 1165.6L324.3 1161.0L317.6 1159.2L312.0 1157.5L299.6 1154.4L287.2 1150.9L274.9 1147.5L262.5 1145.0L251.9 1143.6L250.2 1143.3L237.8 1141.4L225.4 1137.8L213.1 1133.1L200.7 1128.4L199.7 1128.0L188.4 1122.9L176.0 1117.1L167.0 1112.4L163.6 1110.6L151.3 1104.5L138.9 1099.8L129.2 1096.8L126.6 1095.9L114.2 1090.4L114.2 1096.8L114.2 1100.8L126.6 1105.5L138.9 1110.4L143.2 1112.4L151.3 1116.5L163.6 1123.8L170.8 1128.0L176.0 1130.9L188.4 1136.2L200.7 1141.0L207.1 1143.6L213.1 1145.6L225.4 1149.7L237.8 1152.7L250.2 1154.7L262.5 1156.9L272.1 1159.2L274.9 1159.8L287.2 1163.1L299.6 1166.5L312.0 1170.0L324.3 1174.0L326.2 1174.7L336.7 1178.9L349.0 1185.3L356.9 1190.3L361.4 1193.0L373.8 1200.4L383.7 1205.9L386.1 1207.1L398.5 1212.9L410.8 1218.8L416.0 1221.5L423.2 1224.8L435.6 1231.0L447.6 1237.1L447.9 1237.2L460.3 1243.5L472.6 1250.7L475.8 1252.6L485.0 1258.9L497.4 1266.0L503.5 1268.2Z" fill="#fcd060" stroke="#fcd060" stroke-width="0.6" fill-rule="evenodd"/>
<path d="M497.4 1257.1L509.7 1261.6L522.1 1262.9L534.4 1261.5L546.8 1257.4L555.5 1252.6L559.2 1250.5L571.5 1241.6L577.5 1237.1L583.9 1232.0L596.2 1222.7L598.1 1221.5L608.6 1213.6L619.1 1205.9L621.0 1204.4L633.3 1194.5L638.3 1190.3L645.7 1183.3L653.7 1174.7L658.0 1169.2L664.8 1159.2L670.4 1149.7L673.7 1143.6L682.8 1128.8L683.2 1128.0L695.1 1113.3L695.9 1112.4L707.5 1100.3L711.0 1096.8L719.8 1087.7L726.9 1081.2L732.2 1076.4L744.6 1071.7L756.9 1070.7L769.3 1069.1L781.6 1067.6L794.0 1067.3L806.4 1068.4L818.7 1069.0L830.1 1065.7L831.1 1065.1L843.4 1061.6L855.8 1058.3L862.4 1050.1L868.2 1038.8L870.3 1034.5L880.5 1021.0L882.5 1018.9L892.9 1011.2L905.2 1007.8L917.6 1008.8L917.6 1003.4L917.6 1000.1L905.2 998.9L892.9 1000.5L886.9 1003.4L880.5 1008.0L868.2 1018.6L867.8 1018.9L856.0 1034.5L855.8 1034.9L843.4 1047.3L835.8 1050.1L831.1 1051.0L818.7 1053.7L806.4 1054.9L794.0 1056.1L781.6 1058.2L769.3 1060.9L756.9 1062.7L744.6 1062.6L732.2 1064.6L730.5 1065.7L719.8 1075.6L714.2 1081.2L707.5 1088.3L699.1 1096.8L695.1 1100.9L683.9 1112.4L682.8 1113.8L672.1 1128.0L670.4 1130.9L663.0 1143.6L658.0 1152.0L653.3 1159.2L645.7 1168.8L640.5 1174.7L633.3 1181.6L623.6 1190.3L621.0 1192.4L608.6 1202.1L603.9 1205.9L596.2 1211.6L584.0 1221.5L583.9 1221.6L571.5 1231.3L564.0 1237.1L559.2 1240.5L546.8 1247.8L534.4 1252.3L531.9 1252.6L522.1 1253.9L510.0 1252.6L509.7 1252.6L497.4 1248.3L485.0 1242.0L476.3 1237.1L472.6 1235.0L460.3 1228.2L447.9 1221.6L447.8 1221.5L435.6 1213.8L423.2 1206.5L422.1 1205.9L410.8 1198.9L398.5 1191.9L395.7 1190.3L386.1 1184.1L373.8 1175.5L372.6 1174.7L361.4 1165.8L351.3 1159.2L349.0 1157.5L336.7 1150.8L324.3 1146.3L312.4 1143.6L312.0 1143.4L299.6 1140.6L287.2 1136.6L274.9 1133.2L262.5 1130.9L250.2 1129.2L242.0 1128.0L237.8 1127.2L225.4 1123.1L213.1 1118.0L200.7 1112.9L199.5 1112.4L188.4 1107.0L176.0 1101.1L165.8 1096.8L163.6 1095.9L151.3 1091.1L138.9 1087.5L126.6 1084.4L119.2 1081.2L114.2 1077.9L114.2 1081.2L114.2 1090.4L126.6 1095.9L129.2 1096.8L138.9 1099.8L151.3 1104.5L163.6 1110.6L167.0 1112.4L176.0 1117.1L188.4 1122.9L199.7 1128.0L200.7 1128.4L213.1 1133.1L225.4 1137.8L237.8 1141.4L250.2 1143.3L251.9 1143.6L262.5 1145.0L274.9 1147.5L287.2 1150.9L299.6 1154.4L312.0 1157.5L317.6 1159.2L324.3 1161.0L336.7 1165.6L349.0 1172.1L352.9 1174.7L361.4 1180.0L373.8 1188.5L376.5 1190.3L386.1 1196.0L398.5 1202.8L404.0 1205.9L410.8 1209.2L423.2 1215.8L432.9 1221.5L435.6 1222.8L447.9 1229.4L460.3 1235.9L462.3 1237.1L472.6 1242.9L485.0 1250.3L489.5 1252.6Z" fill="#fcc84e" stroke="#fcc84e" stroke-width="0.6" fill-rule="evenodd"/>
<path d="M522.1 1253.9L531.9 1252.6L534.4 1252.3L546.8 1247.8L559.2 1240.5L564.0 1237.1L571.5 1231.3L583.9 1221.6L584.0 1221.5L596.2 1211.6L603.9 1205.9L608.6 1202.1L621.0 1192.4L623.6 1190.3L633.3 1181.6L640.5 1174.7L645.7 1168.8L653.3 1159.2L658.0 1152.0L663.0 1143.6L670.4 1130.9L672.1 1128.0L682.8 1113.8L683.9 1112.4L695.1 1100.9L699.1 1096.8L707.5 1088.3L714.2 1081.2L719.8 1075.6L730.5 1065.7L732.2 1064.6L744.6 1062.6L756.9 1062.7L769.3 1060.9L781.6 1058.2L794.0 1056.1L806.4 1054.9L818.7 1053.7L831.1 1051.0L835.8 1050.1L843.4 1047.3L855.8 1034.9L856.0 1034.5L867.8 1018.9L868.2 1018.6L880.5 1008.0L886.9 1003.4L892.9 1000.5L905.2 998.9L917.6 1000.1L917.6 992.6L905.2 991.4L892.9 992.4L880.5 997.6L870.5 1003.4L868.2 1005.3L855.8 1014.3L846.1 1018.9L843.4 1021.1L831.1 1024.6L818.7 1027.4L806.4 1034.2L805.9 1034.5L794.0 1042.1L781.6 1047.8L776.8 1050.1L769.3 1052.4L756.9 1055.0L744.6 1054.6L732.2 1055.9L719.8 1063.8L717.8 1065.7L707.5 1076.1L702.1 1081.2L695.1 1088.3L685.5 1096.8L682.8 1099.6L670.6 1112.4L670.4 1112.7L660.3 1128.0L658.0 1131.9L651.4 1143.6L645.7 1152.1L640.6 1159.2L633.3 1167.5L626.4 1174.7L621.0 1179.6L608.6 1190.2L608.4 1190.3L596.2 1199.9L589.3 1205.9L583.9 1210.3L571.5 1220.8L570.7 1221.5L559.2 1230.3L548.5 1237.1L546.8 1238.1L534.4 1243.0L522.1 1244.9L509.7 1243.7L497.4 1239.7L492.0 1237.1L485.0 1233.6L472.6 1227.0L462.2 1221.5L460.3 1220.4L447.9 1212.6L437.5 1205.9L435.6 1204.3L423.2 1195.5L414.6 1190.3L410.8 1187.6L398.5 1179.7L391.0 1174.7L386.1 1170.9L373.8 1160.6L371.9 1159.2L361.4 1149.2L353.4 1143.6L349.0 1140.0L336.7 1133.0L324.3 1128.3L322.9 1128.0L312.0 1124.3L299.6 1121.0L287.2 1117.6L274.9 1114.9L262.5 1112.9L259.2 1112.4L250.2 1110.8L237.8 1107.8L225.4 1103.6L213.1 1098.7L208.7 1096.8L200.7 1092.9L188.4 1087.0L176.0 1081.8L174.3 1081.2L163.6 1077.5L151.3 1074.1L138.9 1071.1L126.6 1067.1L124.3 1065.7L114.2 1055.1L114.2 1065.7L114.2 1077.9L119.2 1081.2L126.6 1084.4L138.9 1087.5L151.3 1091.1L163.6 1095.9L165.8 1096.8L176.0 1101.1L188.4 1107.0L199.5 1112.4L200.7 1112.9L213.1 1118.0L225.4 1123.1L237.8 1127.2L242.0 1128.0L250.2 1129.2L262.5 1130.9L274.9 1133.2L287.2 1136.6L299.6 1140.6L312.0 1143.4L312.4 1143.6L324.3 1146.3L336.7 1150.8L349.0 1157.5L351.3 1159.2L361.4 1165.8L372.6 1174.7L373.8 1175.5L386.1 1184.1L395.7 1190.3L398.5 1191.9L410.8 1198.9L422.1 1205.9L423.2 1206.5L435.6 1213.8L447.8 1221.5L447.9 1221.6L460.3 1228.2L472.6 1235.0L476.3 1237.1L485.0 1242.0L497.4 1248.3L509.7 1252.6L510.0 1252.6Z" fill="#fcc42a" stroke="#fcc42a" stroke-width="0.6" fill-rule="evenodd"/>
<path d="M497.4 1239.7L509.7 1243.7L522.1 1244.9L534.4 1243.0L546.8 1238.1L548.5 1237.1L559.2 1230.3L570.7 1221.5L571.5 1220.8L583.9 1210.3L589.3 1205.9L596.2 1199.9L608.4 1190.3L608.6 1190.2L621.0 1179.6L626.4 1174.7L633.3 1167.5L640.6 1159.2L645.7 1152.1L651.4 1143.6L658.0 1131.9L660.3 1128.0L670.4 1112.7L670.6 1112.4L682.8 1099.6L685.5 1096.8L695.1 1088.3L702.1 1081.2L707.5 1076.1L717.8 1065.7L719.8 1063.8L732.2 1055.9L744.6 1054.6L756.9 1055.0L769.3 1052.4L776.8 1050.1L781.6 1047.8L794.0 1042.1L805.9 1034.5L806.4 1034.2L818.7 1027.4L831.1 1024.6L843.4 1021.1L846.1 1018.9L855.8 1014.3L868.2 1005.3L870.5 1003.4L880.5 997.6L892.9 992.4L905.2 991.4L917.6 992.6L917.6 987.8L917.6 985.1L905.2 984.1L892.9 984.5L882.0 987.8L880.5 988.3L868.2 994.5L855.8 1000.4L844.9 1003.4L843.4 1003.9L831.1 1005.6L818.7 1009.6L806.4 1016.3L802.4 1018.9L794.0 1025.2L781.7 1034.5L781.6 1034.5L769.3 1041.5L756.9 1046.3L744.6 1045.9L732.2 1046.8L725.9 1050.1L719.8 1053.4L707.5 1064.1L705.5 1065.7L695.1 1075.3L687.6 1081.2L682.8 1085.3L670.4 1095.4L668.7 1096.8L658.0 1109.3L656.0 1112.4L647.3 1128.0L645.7 1130.9L638.5 1143.6L633.3 1150.7L627.0 1159.2L621.0 1165.5L611.4 1174.7L608.6 1177.1L596.2 1187.6L593.3 1190.3L583.9 1198.4L575.8 1205.9L571.5 1209.5L559.2 1219.8L556.8 1221.5L546.8 1228.0L534.4 1233.5L522.1 1235.8L509.7 1234.8L497.4 1230.9L485.0 1225.1L477.9 1221.5L472.6 1218.5L460.3 1211.5L451.4 1205.9L447.9 1202.9L435.6 1192.8L431.9 1190.3L423.2 1182.9L410.8 1174.7L410.8 1174.7L398.5 1165.7L390.1 1159.2L386.1 1155.1L375.0 1143.6L373.8 1141.8L361.4 1128.3L361.0 1128.0L349.0 1116.6L342.5 1112.4L336.7 1107.3L324.3 1100.0L316.8 1096.8L312.0 1094.4L299.6 1090.4L287.2 1088.9L274.9 1088.2L262.5 1087.0L250.2 1084.7L237.8 1081.4L237.3 1081.2L225.4 1076.6L213.1 1071.2L200.7 1065.8L200.4 1065.7L188.4 1059.4L176.0 1054.3L163.6 1050.3L162.9 1050.1L151.3 1044.1L138.9 1035.4L138.1 1034.5L130.7 1018.9L126.7 1003.4L126.6 1001.9L124.7 987.8L121.4 972.2L114.2 960.2L114.2 972.2L114.2 987.8L114.2 1003.4L114.2 1018.9L114.2 1034.5L114.2 1050.1L114.2 1055.1L124.3 1065.7L126.6 1067.1L138.9 1071.1L151.3 1074.1L163.6 1077.5L174.3 1081.2L176.0 1081.8L188.4 1087.0L200.7 1092.9L208.7 1096.8L213.1 1098.7L225.4 1103.6L237.8 1107.8L250.2 1110.8L259.2 1112.4L262.5 1112.9L274.9 1114.9L287.2 1117.6L299.6 1121.0L312.0 1124.3L322.9 1128.0L324.3 1128.3L336.7 1133.0L349.0 1140.0L353.4 1143.6L361.4 1149.2L371.9 1159.2L373.8 1160.6L386.1 1170.9L391.0 1174.7L398.5 1179.7L410.8 1187.6L414.6 1190.3L423.2 1195.5L435.6 1204.3L437.5 1205.9L447.9 1212.6L460.3 1220.4L462.2 1221.5L472.6 1227.0L485.0 1233.6L492.0 1237.1Z" fill="#f9ac28" stroke="#f9ac28" stroke-width="0.6" fill-rule="evenodd"/>
<path d="M485.0 1225.1L497.4 1230.9L509.7 1234.8L522.1 1235.8L534.4 1233.5L546.8 1228.0L556.8 1221.5L559.2 1219.8L571.5 1209.5L575.8 1205.9L583.9 1198.4L593.3 1190.3L596.2 1187.6L608.6 1177.1L611.4 1174.7L621.0 1165.5L627.0 1159.2L633.3 1150.7L638.5 1143.6L645.7 1130.9L647.3 1128.0L656.0 1112.4L658.0 1109.3L668.7 1096.8L670.4 1095.4L682.8 1085.3L687.6 1081.2L695.1 1075.3L705.5 1065.7L707.5 1064.1L719.8 1053.4L725.9 1050.1L732.2 1046.8L744.6 1045.9L756.9 1046.3L769.3 1041.5L781.6 1034.5L781.7 1034.5L794.0 1025.2L802.4 1018.9L806.4 1016.3L818.7 1009.6L831.1 1005.6L843.4 1003.9L844.9 1003.4L855.8 1000.4L868.2 994.5L880.5 988.3L882.0 987.8L892.9 984.5L905.2 984.1L917.6 985.1L917.6 977.8L905.2 976.8L892.9 976.7L880.5 979.5L868.2 984.4L859.1 987.8L855.8 989.2L843.4 991.9L831.1 993.1L818.7 995.9L806.4 1001.4L802.6 1003.4L794.0 1008.7L781.6 1016.8L778.8 1018.9L769.3 1026.5L759.3 1034.5L756.9 1035.6L744.6 1036.1L732.2 1036.9L719.8 1042.0L710.0 1050.1L707.5 1052.2L695.1 1062.0L689.6 1065.7L682.8 1070.7L670.4 1078.7L666.4 1081.2L658.0 1087.8L649.6 1096.8L645.7 1102.8L640.5 1112.4L633.3 1127.9L633.3 1128.0L624.7 1143.6L621.0 1148.5L612.1 1159.2L608.6 1162.6L596.2 1174.1L595.6 1174.7L583.9 1185.4L579.1 1190.3L571.5 1197.3L562.3 1205.9L559.2 1208.5L546.8 1217.6L539.5 1221.5L534.4 1223.8L522.1 1226.5L509.7 1225.8L497.4 1222.0L496.1 1221.5L485.0 1215.9L472.6 1209.2L466.5 1205.9L460.3 1201.3L447.9 1190.8L447.3 1190.3L435.6 1178.1L431.3 1174.7L423.2 1167.0L411.8 1159.2L410.8 1158.3L398.5 1148.0L394.1 1143.6L386.1 1131.1L383.9 1128.0L376.1 1112.4L373.8 1105.4L369.5 1096.8L367.5 1081.2L373.8 1074.3L381.6 1065.7L386.1 1061.2L397.5 1050.1L398.5 1048.5L408.5 1034.5L407.0 1018.9L398.5 1010.7L386.1 1007.9L373.8 1013.8L369.0 1018.9L361.4 1024.4L351.1 1034.5L349.0 1037.4L336.7 1048.8L332.6 1050.1L324.3 1052.8L312.0 1052.7L299.6 1052.1L287.2 1053.8L274.9 1055.1L262.5 1054.3L250.2 1050.7L248.8 1050.1L237.8 1044.4L225.4 1037.0L221.8 1034.5L213.1 1025.0L208.2 1018.9L203.8 1003.4L204.9 987.8L208.9 972.2L213.1 957.2L213.3 956.6L213.8 941.0L213.1 939.2L204.6 925.5L200.7 922.5L188.4 916.3L176.0 911.9L170.8 909.9L163.6 907.0L151.3 901.1L138.9 895.2L137.0 894.3L126.6 888.1L114.2 878.9L114.2 894.3L114.2 909.9L114.2 925.5L114.2 941.0L114.2 956.6L114.2 960.2L121.4 972.2L124.7 987.8L126.6 1001.9L126.7 1003.4L130.7 1018.9L138.1 1034.5L138.9 1035.4L151.3 1044.1L162.9 1050.1L163.6 1050.3L176.0 1054.3L188.4 1059.4L200.4 1065.7L200.7 1065.8L213.1 1071.2L225.4 1076.6L237.3 1081.2L237.8 1081.4L250.2 1084.7L262.5 1087.0L274.9 1088.2L287.2 1088.9L299.6 1090.4L312.0 1094.4L316.8 1096.8L324.3 1100.0L336.7 1107.3L342.5 1112.4L349.0 1116.6L361.0 1128.0L361.4 1128.3L373.8 1141.8L375.0 1143.6L386.1 1155.1L390.1 1159.2L398.5 1165.7L410.8 1174.7L410.8 1174.7L423.2 1182.9L431.9 1190.3L435.6 1192.8L447.9 1202.9L451.4 1205.9L460.3 1211.5L472.6 1218.5L477.9 1221.5Z" fill="#f7981f" stroke="#f7981f" stroke-width="0.6" fill-rule="evenodd"/>
<path d="M497.4 1222.0L509.7 1225.8L522.1 1226.5L534.4 1223.8L539.5 1221.5L546.8 1217.6L559.2 1208.5L562.3 1205.9L571.5 1197.3L579.1 1190.3L583.9 1185.4L595.6 1174.7L596.2 1174.1L608.6 1162.6L612.1 1159.2L621.0 1148.5L624.7 1143.6L633.3 1128.0L633.3 1127.9L640.5 1112.4L645.7 1102.8L649.6 1096.8L658.0 1087.8L666.4 1081.2L670.4 1078.7L682.8 1070.7L689.6 1065.7L695.1 1062.0L707.5 1052.2L710.0 1050.1L719.8 1042.0L732.2 1036.9L744.6 1036.1L756.9 1035.6L759.3 1034.5L769.3 1026.5L778.8 1018.9L781.6 1016.8L794.0 1008.7L802.6 1003.4L806.4 1001.4L818.7 995.9L831.1 993.1L843.4 991.9L855.8 989.2L859.1 987.8L868.2 984.4L880.5 979.5L892.9 976.7L905.2 976.8L917.6 977.8L917.6 972.2L917.6 969.7L905.2 968.7L892.9 968.1L880.5 970.3L875.5 972.2L868.2 974.7L855.8 978.8L843.4 980.6L831.1 981.6L818.7 984.0L808.4 987.8L806.4 988.6L794.0 994.2L781.6 999.6L772.3 1003.4L769.3 1005.2L756.9 1015.4L750.4 1018.9L744.6 1021.1L732.2 1023.5L719.8 1028.5L712.5 1034.5L707.5 1038.2L695.1 1047.9L691.5 1050.1L682.8 1055.0L670.4 1061.5L662.8 1065.7L658.0 1068.4L645.7 1077.3L641.6 1081.2L633.3 1092.7L630.9 1096.8L624.5 1112.4L621.0 1121.4L618.4 1128.0L609.7 1143.6L608.6 1144.9L596.2 1158.2L595.4 1159.2L583.9 1170.4L580.2 1174.7L571.5 1183.5L565.3 1190.3L559.2 1196.1L547.8 1205.9L546.8 1206.6L534.4 1213.5L522.1 1216.9L509.7 1216.3L497.4 1212.2L485.0 1206.2L484.4 1205.9L472.6 1197.7L462.7 1190.3L460.3 1187.5L449.5 1174.7L447.9 1172.1L437.9 1159.2L435.6 1155.2L424.4 1143.6L423.2 1141.8L411.8 1128.0L410.8 1123.5L408.8 1112.4L410.8 1104.1L413.1 1096.8L423.2 1083.1L424.7 1081.2L435.6 1071.8L441.7 1065.7L447.9 1058.8L454.6 1050.1L460.3 1035.4L460.6 1034.5L460.3 1030.6L459.3 1018.9L453.9 1003.4L447.9 991.4L445.6 987.8L435.6 975.2L432.5 972.2L423.2 964.5L411.3 956.6L410.8 956.3L398.5 950.3L386.1 945.4L373.8 941.6L369.9 941.0L361.4 939.9L349.0 940.1L336.7 939.3L324.3 932.9L316.1 925.5L312.0 922.7L299.6 914.2L294.1 909.9L287.2 904.4L277.5 894.3L274.9 891.2L264.9 878.7L262.5 875.7L252.0 863.1L250.2 861.0L237.8 847.7L237.6 847.6L225.4 833.4L224.4 832.0L214.2 816.4L213.1 814.4L205.2 800.8L200.7 800.8L188.4 800.8L176.0 800.8L163.6 800.8L151.3 800.8L138.9 800.8L126.6 800.8L114.2 800.8L114.2 816.4L114.2 832.0L114.2 847.6L114.2 863.1L114.2 878.7L114.2 878.9L126.6 888.1L137.0 894.3L138.9 895.2L151.3 901.1L163.6 907.0L170.8 909.9L176.0 911.9L188.4 916.3L200.7 922.5L204.6 925.5L213.1 939.2L213.8 941.0L213.3 956.6L213.1 957.2L208.9 972.2L204.9 987.8L203.8 1003.4L208.2 1018.9L213.1 1025.0L221.8 1034.5L225.4 1037.0L237.8 1044.4L248.8 1050.1L250.2 1050.7L262.5 1054.3L274.9 1055.1L287.2 1053.8L299.6 1052.1L312.0 1052.7L324.3 1052.8L332.6 1050.1L336.7 1048.8L349.0 1037.4L351.1 1034.5L361.4 1024.4L369.0 1018.9L373.8 1013.8L386.1 1007.9L398.5 1010.7L407.0 1018.9L408.5 1034.5L398.5 1048.5L397.5 1050.1L386.1 1061.2L381.6 1065.7L373.8 1074.3L367.5 1081.2L369.5 1096.8L373.8 1105.4L376.1 1112.4L383.9 1128.0L386.1 1131.1L394.1 1143.6L398.5 1148.0L410.8 1158.3L411.8 1159.2L423.2 1167.0L431.3 1174.7L435.6 1178.1L447.3 1190.3L447.9 1190.8L460.3 1201.3L466.5 1205.9L472.6 1209.2L485.0 1215.9L496.1 1221.5ZM267.6 1018.9L262.5 1016.9L250.2 1007.8L247.4 1003.4L250.2 993.1L253.4 987.8L262.5 981.8L274.9 978.7L287.2 978.4L299.6 978.3L312.0 975.7L323.7 972.2L324.3 971.8L325.6 972.2L336.7 975.6L342.6 987.8L340.7 1003.4L336.7 1007.6L324.3 1014.8L315.7 1018.9L312.0 1020.0L299.6 1021.6L287.2 1021.6L274.9 1020.4Z" fill="#f58220" stroke="#f58220" stroke-width="0.6" fill-rule="evenodd"/>
<path d="M485.0 1206.2L497.4 1212.2L509.7 1216.3L522.1 1216.9L534.4 1213.5L546.8 1206.6L547.8 1205.9L559.2 1196.1L565.3 1190.3L571.5 1183.5L580.2 1174.7L583.9 1170.4L595.4 1159.2L596.2 1158.2L608.6 1144.9L609.7 1143.6L618.4 1128.0L621.0 1121.4L624.5 1112.4L630.9 1096.8L633.3 1092.7L641.6 1081.2L645.7 1077.3L658.0 1068.4L662.8 1065.7L670.4 1061.5L682.8 1055.0L691.5 1050.1L695.1 1047.9L707.5 1038.2L712.5 1034.5L719.8 1028.5L732.2 1023.5L744.6 1021.1L750.4 1018.9L756.9 1015.4L769.3 1005.2L772.3 1003.4L781.6 999.6L794.0 994.2L806.4 988.6L808.4 987.8L818.7 984.0L831.1 981.6L843.4 980.6L855.8 978.8L868.2 974.7L875.5 972.2L880.5 970.3L892.9 968.1L905.2 968.7L917.6 969.7L917.6 959.3L905.2 958.8L892.9 958.1L880.5 959.5L868.2 963.3L855.8 967.6L843.4 969.1L831.1 970.0L819.6 972.2L818.7 972.3L806.4 976.2L794.0 980.8L781.6 984.6L771.0 987.8L769.3 988.4L756.9 994.3L744.6 1001.1L738.8 1003.4L732.2 1005.8L719.8 1009.9L707.5 1018.1L706.5 1018.9L695.1 1028.1L685.4 1034.5L682.8 1035.8L670.4 1041.1L658.0 1047.1L652.7 1050.1L645.7 1053.7L633.3 1062.3L629.8 1065.7L621.0 1076.5L618.3 1081.2L612.3 1096.8L608.6 1110.5L608.1 1112.4L602.0 1128.0L596.2 1136.7L591.3 1143.6L583.9 1151.7L578.2 1159.2L571.5 1166.8L565.5 1174.7L559.2 1181.7L551.1 1190.3L546.8 1194.0L534.4 1202.5L525.3 1205.9L522.1 1206.9L509.7 1206.4L508.1 1205.9L497.4 1201.4L485.0 1193.7L480.2 1190.3L472.6 1181.8L466.7 1174.7L460.3 1162.3L458.5 1159.2L452.4 1143.6L448.3 1128.0L447.9 1116.8L447.7 1112.4L447.9 1111.7L452.0 1096.8L460.3 1084.0L461.9 1081.2L472.6 1067.2L473.6 1065.7L482.6 1050.1L485.0 1040.5L486.1 1034.5L485.0 1024.1L484.3 1018.9L480.9 1003.4L477.2 987.8L472.6 973.7L472.0 972.2L463.9 956.6L460.3 951.3L451.3 941.0L447.9 937.7L435.6 928.6L429.9 925.5L423.2 921.9L410.8 916.1L398.5 910.9L395.7 909.9L386.1 906.1L373.8 902.3L361.4 898.6L352.3 894.3L349.0 892.2L336.7 882.7L331.5 878.7L324.3 871.4L316.0 863.1L312.0 858.1L303.8 847.6L299.6 841.7L292.7 832.0L287.2 824.5L281.2 816.4L274.9 808.0L269.3 800.8L262.5 800.8L250.2 800.8L237.8 800.8L225.4 800.8L213.1 800.8L205.2 800.8L213.1 814.4L214.2 816.4L224.4 832.0L225.4 833.4L237.6 847.6L237.8 847.7L250.2 861.0L252.0 863.1L262.5 875.7L264.9 878.7L274.9 891.2L277.5 894.3L287.2 904.4L294.1 909.9L299.6 914.2L312.0 922.7L316.1 925.5L324.3 932.9L336.7 939.3L349.0 940.1L361.4 939.9L369.9 941.0L373.8 941.6L386.1 945.4L398.5 950.3L410.8 956.3L411.3 956.6L423.2 964.5L432.5 972.2L435.6 975.2L445.6 987.8L447.9 991.4L453.9 1003.4L459.3 1018.9L460.3 1030.6L460.6 1034.5L460.3 1035.4L454.6 1050.1L447.9 1058.8L441.7 1065.7L435.6 1071.8L424.7 1081.2L423.2 1083.1L413.1 1096.8L410.8 1104.1L408.8 1112.4L410.8 1123.5L411.8 1128.0L423.2 1141.8L424.4 1143.6L435.6 1155.2L437.9 1159.2L447.9 1172.1L449.5 1174.7L460.3 1187.5L462.7 1190.3L472.6 1197.7L484.4 1205.9ZM274.9 1020.4L287.2 1021.6L299.6 1021.6L312.0 1020.0L315.7 1018.9L324.3 1014.8L336.7 1007.6L340.7 1003.4L342.6 987.8L336.7 975.6L325.6 972.2L324.3 971.8L323.7 972.2L312.0 975.7L299.6 978.3L287.2 978.4L274.9 978.7L262.5 981.8L253.4 987.8L250.2 993.1L247.4 1003.4L250.2 1007.8L262.5 1016.9L267.6 1018.9Z" fill="#f46f1d" stroke="#f46f1d" stroke-width="0.6" fill-rule="evenodd"/>
<path d="M509.7 1206.4L522.1 1206.9L525.3 1205.9L534.4 1202.5L546.8 1194.0L551.1 1190.3L559.2 1181.7L565.5 1174.7L571.5 1166.8L578.2 1159.2L583.9 1151.7L591.3 1143.6L596.2 1136.7L602.0 1128.0L608.1 1112.4L608.6 1110.5L612.3 1096.8L618.3 1081.2L621.0 1076.5L629.8 1065.7L633.3 1062.3L645.7 1053.7L652.7 1050.1L658.0 1047.1L670.4 1041.1L682.8 1035.8L685.4 1034.5L695.1 1028.1L706.5 1018.9L707.5 1018.1L719.8 1009.9L732.2 1005.8L738.8 1003.4L744.6 1001.1L756.9 994.3L769.3 988.4L771.0 987.8L781.6 984.6L794.0 980.8L806.4 976.2L818.7 972.3L819.6 972.2L831.1 970.0L843.4 969.1L855.8 967.6L868.2 963.3L880.5 959.5L892.9 958.1L905.2 958.8L917.6 959.3L917.6 956.6L917.6 941.0L917.6 938.6L913.0 941.0L905.2 942.4L892.9 942.7L880.5 944.4L868.2 948.4L855.8 953.5L843.4 955.5L831.1 956.6L831.1 956.6L818.7 958.6L806.4 962.4L794.0 966.9L781.6 970.1L772.4 972.2L769.3 972.9L756.9 976.5L744.6 981.3L732.2 985.2L719.8 987.3L717.0 987.8L707.5 989.7L695.1 994.1L682.8 1000.5L678.2 1003.4L670.4 1007.5L658.0 1014.9L651.9 1018.9L645.7 1022.0L633.3 1028.3L622.7 1034.5L621.0 1035.5L608.6 1047.0L606.6 1050.1L601.0 1065.7L598.3 1081.2L596.2 1093.5L595.7 1096.8L591.4 1112.4L583.9 1127.1L583.4 1128.0L572.0 1143.6L571.5 1144.2L562.3 1159.2L559.2 1163.3L550.9 1174.7L546.8 1179.1L534.4 1190.0L533.9 1190.3L522.1 1195.0L509.7 1194.5L500.0 1190.3L497.4 1188.7L485.0 1176.3L483.6 1174.7L476.4 1159.2L472.6 1145.2L472.1 1143.6L468.0 1128.0L467.2 1112.4L471.6 1096.8L472.6 1095.2L480.8 1081.2L485.0 1075.0L491.2 1065.7L497.4 1053.5L499.4 1050.1L503.0 1034.5L502.9 1018.9L501.6 1003.4L503.0 987.8L505.7 972.2L503.8 956.6L497.4 944.9L495.3 941.0L485.3 925.5L485.0 924.9L475.2 909.9L472.6 905.6L463.0 894.3L460.3 891.0L447.9 881.0L443.3 878.7L435.6 873.1L423.2 864.5L421.5 863.1L410.8 850.8L407.9 847.6L398.5 833.4L397.6 832.0L388.5 816.4L386.1 812.8L378.5 800.8L373.8 800.8L361.4 800.8L349.0 800.8L336.7 800.8L324.3 800.8L312.0 800.8L299.6 800.8L287.2 800.8L274.9 800.8L269.3 800.8L274.9 808.0L281.2 816.4L287.2 824.5L292.7 832.0L299.6 841.7L303.8 847.6L312.0 858.1L316.0 863.1L324.3 871.4L331.5 878.7L336.7 882.7L349.0 892.2L352.3 894.3L361.4 898.6L373.8 902.3L386.1 906.1L395.7 909.9L398.5 910.9L410.8 916.1L423.2 921.9L429.9 925.5L435.6 928.6L447.9 937.7L451.3 941.0L460.3 951.3L463.9 956.6L472.0 972.2L472.6 973.7L477.2 987.8L480.9 1003.4L484.3 1018.9L485.0 1024.1L486.1 1034.5L485.0 1040.5L482.6 1050.1L473.6 1065.7L472.6 1067.2L461.9 1081.2L460.3 1084.0L452.0 1096.8L447.9 1111.7L447.7 1112.4L447.9 1116.8L448.3 1128.0L452.4 1143.6L458.5 1159.2L460.3 1162.3L466.7 1174.7L472.6 1181.8L480.2 1190.3L485.0 1193.7L497.4 1201.4L508.1 1205.9ZM917.6 866.2L917.6 863.1L917.6 847.6L917.6 832.0L917.6 816.4L917.6 811.3L915.7 816.4L914.4 832.0L915.3 847.6L917.1 863.1Z" fill="#f25a1a" stroke="#f25a1a" stroke-width="0.6" fill-rule="evenodd"/>
<path d="M509.7 1194.5L522.1 1195.0L533.9 1190.3L534.4 1190.0L546.8 1179.1L550.9 1174.7L559.2 1163.3L562.3 1159.2L571.5 1144.2L572.0 1143.6L583.4 1128.0L583.9 1127.1L591.4 1112.4L595.7 1096.8L596.2 1093.5L598.3 1081.2L601.0 1065.7L606.6 1050.1L608.6 1047.0L621.0 1035.5L622.7 1034.5L633.3 1028.3L645.7 1022.0L651.9 1018.9L658.0 1014.9L670.4 1007.5L678.2 1003.4L682.8 1000.5L695.1 994.1L707.5 989.7L717.0 987.8L719.8 987.3L732.2 985.2L744.6 981.3L756.9 976.5L769.3 972.9L772.4 972.2L781.6 970.1L794.0 966.9L806.4 962.4L818.7 958.6L831.1 956.6L831.1 956.6L843.4 955.5L855.8 953.5L868.2 948.4L880.5 944.4L892.9 942.7L905.2 942.4L913.0 941.0L917.6 938.6L917.6 925.5L917.6 909.9L917.6 894.3L917.6 878.7L917.6 866.2L917.1 863.1L915.3 847.6L914.4 832.0L915.7 816.4L917.6 811.3L917.6 800.8L905.2 800.8L892.9 800.8L880.5 800.8L868.2 800.8L855.8 800.8L843.4 800.8L831.1 800.8L818.8 800.8L825.4 816.4L831.1 826.2L834.1 832.0L843.1 847.5L843.4 848.3L851.2 863.1L855.8 874.7L857.7 878.7L864.6 894.3L867.1 909.9L856.2 925.5L855.8 925.6L843.4 931.1L831.1 935.4L818.7 940.2L817.1 941.0L806.4 944.6L794.0 949.3L781.6 952.6L769.3 954.9L761.1 956.6L756.9 957.4L744.6 959.9L732.2 961.7L719.8 959.9L710.5 956.6L707.5 954.9L695.1 946.7L686.9 941.0L682.8 937.4L670.4 930.7L658.0 929.3L645.7 933.2L633.3 940.8L633.0 941.0L621.0 950.2L610.3 956.6L608.6 957.6L596.2 962.1L583.9 964.1L571.5 963.0L559.2 957.0L558.8 956.6L546.8 946.2L543.2 941.0L534.4 933.0L527.7 925.5L522.1 920.6L512.2 909.9L509.7 907.3L501.3 894.3L497.4 885.6L494.4 878.7L488.6 863.1L485.0 850.9L483.8 847.6L479.9 832.0L476.6 816.4L472.6 804.4L471.0 800.8L460.3 800.8L447.9 800.8L435.6 800.8L423.2 800.8L410.8 800.8L398.5 800.8L386.1 800.8L378.5 800.8L386.1 812.8L388.5 816.4L397.6 832.0L398.5 833.4L407.9 847.6L410.8 850.8L421.5 863.1L423.2 864.5L435.6 873.1L443.3 878.7L447.9 881.0L460.3 891.0L463.0 894.3L472.6 905.6L475.2 909.9L485.0 924.9L485.3 925.5L495.3 941.0L497.4 944.9L503.8 956.6L505.7 972.2L503.0 987.8L501.6 1003.4L502.9 1018.9L503.0 1034.5L499.4 1050.1L497.4 1053.5L491.2 1065.7L485.0 1075.0L480.8 1081.2L472.6 1095.2L471.6 1096.8L467.2 1112.4L468.0 1128.0L472.1 1143.6L472.6 1145.2L476.4 1159.2L483.6 1174.7L485.0 1176.3L497.4 1188.7L500.0 1190.3ZM501.8 1174.7L497.4 1169.0L492.3 1159.2L488.4 1143.6L485.0 1133.6L483.1 1128.0L481.0 1112.4L484.6 1096.8L485.0 1096.2L494.6 1081.2L497.4 1077.2L509.7 1067.2L513.0 1065.7L522.1 1056.0L532.3 1050.1L534.4 1047.7L546.8 1049.2L547.6 1050.1L559.2 1056.5L569.2 1065.7L571.5 1067.7L577.6 1081.2L577.8 1096.8L572.2 1112.4L571.5 1113.6L563.1 1128.0L559.2 1134.8L554.8 1143.6L546.8 1158.6L546.5 1159.2L534.4 1173.9L533.5 1174.7L522.1 1180.8L509.7 1180.1Z" fill="#f04616" stroke="#f04616" stroke-width="0.6" fill-rule="evenodd"/>
<path d="M509.7 1180.1L522.1 1180.8L533.5 1174.7L534.4 1173.9L546.5 1159.2L546.8 1158.6L554.8 1143.6L559.2 1134.8L563.1 1128.0L571.5 1113.6L572.2 1112.4L577.8 1096.8L577.6 1081.2L571.5 1067.7L569.2 1065.7L559.2 1056.5L547.6 1050.1L546.8 1049.2L534.4 1047.7L532.3 1050.1L522.1 1056.0L513.0 1065.7L509.7 1067.2L497.4 1077.2L494.6 1081.2L485.0 1096.2L484.6 1096.8L481.0 1112.4L483.1 1128.0L485.0 1133.6L488.4 1143.6L492.3 1159.2L497.4 1169.0L501.8 1174.7ZM518.5 1159.2L509.7 1154.9L506.2 1143.6L497.4 1128.7L497.1 1128.0L494.4 1112.4L497.2 1096.8L497.4 1096.6L509.7 1091.7L521.7 1096.8L522.1 1097.1L534.4 1107.9L538.2 1112.4L538.8 1128.0L534.4 1143.3L534.3 1143.6L522.8 1159.2L522.1 1159.7ZM559.2 957.0L571.5 963.0L583.9 964.1L596.2 962.1L608.6 957.6L610.3 956.6L621.0 950.2L633.0 941.0L633.3 940.8L645.7 933.2L658.0 929.3L670.4 930.7L682.8 937.4L686.9 941.0L695.1 946.7L707.5 954.9L710.5 956.6L719.8 959.9L732.2 961.7L744.6 959.9L756.9 957.4L761.1 956.6L769.3 954.9L781.6 952.6L794.0 949.3L806.4 944.6L817.1 941.0L818.7 940.2L831.1 935.4L843.4 931.1L855.8 925.6L856.2 925.5L867.1 909.9L864.6 894.3L857.7 878.7L855.8 874.7L851.2 863.1L843.4 848.3L843.1 847.6L834.1 832.0L831.1 826.2L825.4 816.4L818.8 800.8L818.7 800.8L806.4 800.8L794.0 800.8L781.6 800.8L769.3 800.8L756.9 800.8L754.1 800.8L756.9 813.1L757.7 816.4L766.7 832.0L769.3 834.6L781.6 846.1L783.1 847.6L794.0 858.5L797.8 863.1L806.4 877.9L806.8 878.7L809.7 894.3L806.4 905.1L804.7 909.9L794.0 919.1L783.4 925.5L781.6 926.1L769.3 928.2L756.9 928.2L744.6 925.5L744.6 925.4L732.2 914.5L728.5 909.9L720.3 894.3L719.8 893.3L710.9 878.7L707.5 874.7L695.1 863.7L694.3 863.1L682.8 856.9L670.4 853.2L658.0 852.0L645.7 852.9L633.3 855.6L621.0 859.8L613.0 863.1L608.6 865.0L596.2 870.4L583.9 875.7L575.3 878.7L571.5 880.0L559.2 881.9L546.8 880.6L542.0 878.7L534.4 875.3L523.2 863.1L522.1 861.6L516.3 847.6L510.9 832.0L509.7 827.9L507.1 816.4L504.2 800.8L497.4 800.8L485.0 800.8L472.6 800.8L471.0 800.8L472.6 804.4L476.6 816.4L479.9 832.0L483.8 847.6L485.0 850.9L488.6 863.1L494.4 878.7L497.4 885.6L501.3 894.3L509.7 907.3L512.2 909.9L522.1 920.6L527.7 925.5L534.4 933.0L543.2 941.0L546.8 946.2L558.8 956.6Z" fill="#ee3014" stroke="#ee3014" stroke-width="0.6" fill-rule="evenodd"/>
<path d="M522.1 1159.7L522.8 1159.2L534.3 1143.6L534.4 1143.3L538.8 1128.0L538.2 1112.4L534.4 1107.9L522.1 1097.1L521.7 1096.8L509.7 1091.7L497.4 1096.6L497.2 1096.8L494.4 1112.4L497.1 1128.0L497.4 1128.7L506.2 1143.6L509.7 1154.9L518.5 1159.2ZM756.9 928.2L769.3 928.2L781.6 926.1L783.4 925.5L794.0 919.1L804.7 909.9L806.4 905.1L809.7 894.3L806.8 878.7L806.4 877.9L797.8 863.1L794.0 858.5L783.1 847.6L781.6 846.1L769.3 834.6L766.7 832.0L757.7 816.4L756.9 813.1L754.1 800.8L744.6 800.8L732.2 800.8L719.8 800.8L707.5 800.8L695.1 800.8L682.8 800.8L670.4 800.8L658.0 800.8L645.7 800.8L633.3 800.8L621.0 800.8L608.6 800.8L596.2 800.8L583.9 800.8L571.5 800.8L559.2 800.8L546.8 800.8L534.4 800.8L522.1 800.8L509.7 800.8L504.2 800.8L507.1 816.4L509.7 827.9L510.9 832.0L516.3 847.6L522.1 861.6L523.2 863.1L534.4 875.3L542.0 878.7L546.8 880.6L559.2 881.9L571.5 880.0L575.3 878.7L583.9 875.7L596.2 870.4L608.6 865.0L613.0 863.1L621.0 859.8L633.3 855.6L645.7 852.9L658.0 852.0L670.4 853.2L682.8 856.9L694.3 863.1L695.1 863.7L707.5 874.7L710.9 878.7L719.8 893.3L720.3 894.3L728.5 909.9L732.2 914.5L744.6 925.4L744.6 925.5Z" fill="#ec1a10" stroke="#ec1a10" stroke-width="0.6" fill-rule="evenodd"/>
</g>
<g clip-path="url(#bclip)">
<path d="M-690.4,699.5 L-690.4,715.1 L-689.2,730.7 L-685.5,741.6 L-681.8,747.8 L-676.8,758.7 L-664.5,761.9 L-652.1,758.7 L-639.8,749.4 L-624.9,746.3 L-620.0,733.8 L-616.3,743.2 L-612.6,747.8 L-611.3,755.6 L-605.2,766.5 L-599.0,777.4 L-595.3,786.8 L-591.6,800.8 L-575.5,802.4 L-573.0,793.0 L-554.5,791.5 L-548.3,777.4 L-545.8,765.0 L-543.4,752.5 L-531.0,747.8 L-519.9,740.0 L-524.8,730.7 L-534.7,721.4 L-537.2,715.1 L-537.2,699.5 L-486.5,699.5 L-486.5,721.4 L-479.1,726.0 L-468.0,732.3 L-454.4,727.6 L-435.8,726.0 L-422.2,722.9 L-404.9,722.9 L-392.6,727.6 L-377.7,732.3 L-392.6,732.3 L-404.9,738.5 L-423.5,738.5 L-442.0,736.9 L-454.4,741.6 L-460.5,744.7 L-461.8,752.5 L-456.8,757.2 L-448.2,757.2 L-450.7,765.0 L-449.4,774.3 L-455.6,777.4 L-463.0,774.3 L-471.7,768.1 L-485.3,771.2 L-491.4,780.6 L-490.2,793.0 L-489.0,805.5 L-497.6,810.2 L-506.3,817.9 L-521.1,817.9 L-528.5,811.7 L-547.1,816.4 L-565.6,822.6 L-578.0,825.7 L-590.3,817.9 L-599.0,821.1 L-615.0,824.2 L-617.5,816.4 L-627.4,814.8 L-623.7,807.0 L-618.7,789.9 L-623.7,782.1 L-620.0,766.5 L-628.6,769.7 L-644.7,775.9 L-650.9,785.2 L-650.9,800.8 L-644.7,808.6 L-643.5,819.5 L-641.0,825.7 L-652.1,830.4 L-664.5,833.5 L-676.8,833.5 L-689.2,839.8 L-695.4,852.2 L-705.3,863.1 L-713.9,867.8 L-721.3,870.9 L-731.2,872.5 L-731.2,883.4 L-744.8,889.6 L-751.0,894.3 L-763.4,895.8 L-768.3,891.2 L-774.5,891.2 L-770.8,908.3 L-788.1,905.2 L-809.1,911.4 L-804.1,920.8 L-781.9,928.6 L-775.7,936.4 L-765.8,948.8 L-767.1,966.0 L-769.5,987.8 L-775.7,989.3 L-794.3,987.8 L-812.8,986.2 L-837.5,986.2 L-849.9,984.7 L-865.9,995.6 L-861.0,1011.1 L-858.5,1026.7 L-862.2,1042.3 L-868.4,1061.0 L-859.8,1067.2 L-861.0,1081.2 L-861.0,1089.0 L-847.4,1089.0 L-836.3,1085.9 L-830.1,1092.2 L-825.2,1103.1 L-820.2,1104.6 L-812.8,1098.4 L-805.4,1093.7 L-788.1,1093.7 L-775.7,1092.2 L-770.8,1082.8 L-759.7,1079.7 L-754.7,1068.8 L-748.5,1061.0 L-754.7,1050.1 L-748.5,1039.2 L-739.9,1026.7 L-723.8,1022.0 L-711.4,1012.7 L-712.7,1003.4 L-713.9,992.4 L-701.6,987.8 L-689.2,989.3 L-676.8,994.0 L-664.5,987.8 L-658.3,983.1 L-649.6,980.0 L-642.2,973.7 L-633.6,976.9 L-624.9,981.5 L-621.2,995.6 L-612.6,1003.4 L-602.7,1012.7 L-592.8,1022.0 L-581.7,1023.6 L-576.7,1029.8 L-568.1,1033.0 L-565.6,1039.2 L-558.2,1042.3 L-554.5,1050.1 L-552.0,1059.4 L-556.9,1070.3 L-552.0,1073.5 L-545.8,1067.2 L-539.6,1059.4 L-538.4,1051.6 L-545.8,1042.3 L-542.1,1036.1 L-534.7,1037.6 L-523.6,1042.3 L-522.3,1039.2 L-529.8,1031.4 L-542.1,1023.6 L-553.2,1018.9 L-563.1,1012.7 L-575.5,1004.9 L-582.9,989.3 L-595.3,978.4 L-600.2,967.5 L-596.5,956.6 L-589.1,953.5 L-581.7,955.1 L-579.2,966.0 L-571.8,961.3 L-561.9,975.3 L-553.2,987.8 L-540.9,995.6 L-528.5,1001.8 L-516.2,1009.6 L-511.2,1014.3 L-510.0,1026.7 L-511.2,1037.6 L-503.8,1048.5 L-495.1,1057.9 L-490.2,1068.8 L-484.0,1075.0 L-482.8,1089.0 L-474.1,1096.8 L-469.2,1089.0 L-464.2,1098.4 L-466.7,1084.4 L-461.8,1075.0 L-469.2,1068.8 L-459.3,1067.2 L-454.4,1070.3 L-463.0,1057.9 L-469.2,1048.5 L-471.7,1037.6 L-463.0,1039.2 L-455.6,1043.9 L-451.9,1037.6 L-456.8,1029.8 L-446.9,1028.3 L-435.8,1028.3 L-427.2,1033.0 L-427.2,1042.3 L-422.2,1053.2 L-418.5,1065.7 L-414.8,1075.0 L-411.1,1087.5 L-402.4,1093.7 L-392.6,1095.3 L-380.2,1101.5 L-372.8,1092.2 L-361.7,1093.7 L-349.3,1103.1 L-334.5,1101.5 L-323.3,1092.2 L-307.3,1092.2 L-306.0,1107.7 L-308.5,1118.6 L-307.3,1128.0 L-312.2,1137.3 L-317.2,1151.4 L-322.1,1166.9 L-327.1,1177.8 L-343.1,1181.0 L-351.8,1177.8 L-361.7,1174.7 L-376.5,1176.3 L-392.6,1184.1 L-413.6,1176.3 L-439.5,1173.2 L-454.4,1166.9 L-465.5,1157.6 L-479.1,1152.9 L-491.4,1154.5 L-502.6,1163.8 L-503.8,1182.5 L-516.2,1193.4 L-528.5,1185.6 L-548.3,1179.4 L-561.9,1163.8 L-579.2,1156.0 L-595.3,1154.5 L-608.9,1149.8 L-616.3,1142.0 L-623.7,1138.9 L-626.2,1131.1 L-617.5,1120.2 L-615.0,1110.9 L-620.0,1098.4 L-613.8,1089.0 L-624.9,1085.9 L-633.6,1084.4 L-647.2,1090.6 L-664.5,1089.0 L-683.0,1093.7 L-701.6,1090.6 L-713.9,1092.2 L-726.3,1095.3 L-738.6,1098.4 L-757.2,1106.2 L-765.8,1109.3 L-778.2,1118.6 L-795.5,1115.5 L-807.9,1117.1 L-816.5,1107.7 L-823.9,1107.7 L-827.6,1112.4 L-832.6,1128.0 L-843.7,1140.5 L-857.3,1149.8 L-865.9,1159.2 L-872.1,1176.3 L-869.7,1191.9 L-877.1,1205.9 L-887.0,1216.8 L-899.3,1226.1 L-911.7,1235.5 L-917.9,1252.6 L-930.2,1268.2 L-936.4,1283.8 L-948.8,1297.8 L-952.5,1315.0 L-959.9,1330.5 L-962.4,1341.4 L-954.9,1357.0 L-951.2,1377.3 L-953.7,1400.6 L-956.2,1416.2 L-963.6,1434.9 L-958.6,1447.4 L-957.4,1463.0 L-958.6,1473.9 L-948.8,1486.3 L-936.4,1497.2 L-924.0,1509.7 L-915.4,1522.2 L-905.5,1542.4 L-893.1,1556.4 L-880.8,1568.9 L-868.4,1579.8 L-849.9,1593.8 L-843.7,1596.9 L-831.3,1593.8 L-812.8,1586.0 L-800.4,1584.5 L-788.1,1586.0 L-775.7,1590.7 L-763.4,1584.5 L-751.0,1578.3 L-738.6,1572.0 L-726.3,1567.3 L-713.9,1565.8 L-701.6,1567.3 L-689.2,1575.1 L-683.0,1587.6 L-676.8,1598.5 L-664.5,1596.9 L-652.1,1595.4 L-645.9,1592.3 L-639.8,1603.2 L-629.9,1618.8 L-628.6,1634.3 L-632.3,1649.9 L-636.1,1665.5 L-639.8,1681.1 L-633.6,1696.7 L-621.2,1712.2 L-608.9,1727.8 L-600.2,1743.4 L-599.0,1759.0 L-591.6,1782.4 L-585.4,1805.7 L-586.6,1829.1 L-580.4,1844.7 L-592.8,1864.9 L-599.0,1883.6 L-605.2,1911.7 L-605.2,1933.5 L-596.5,1953.7 L-584.1,1980.2 L-573.0,2008.3 L-571.8,2031.6 L-566.8,2062.8 L-563.1,2083.0 L-553.2,2104.9 L-543.4,2125.1 L-537.2,2145.4 L-526.0,2160.9 L-523.6,2184.3 L-523.6,2196.8 L-512.5,2206.1 L-503.8,2207.7 L-491.4,2201.5 L-472.9,2195.2 L-454.4,2196.8 L-435.8,2195.2 L-423.5,2190.5 L-411.1,2182.8 L-398.7,2171.9 L-386.4,2156.3 L-375.3,2140.7 L-367.8,2125.1 L-355.5,2114.2 L-349.3,2101.7 L-345.6,2086.2 L-348.1,2070.6 L-336.9,2059.7 L-318.4,2050.3 L-312.2,2031.6 L-313.5,2008.3 L-318.4,1991.1 L-322.1,1977.1 L-312.2,1961.5 L-299.9,1950.6 L-287.5,1938.2 L-269.0,1922.6 L-254.1,1907.0 L-249.2,1891.4 L-250.4,1860.2 L-251.7,1836.9 L-260.3,1821.3 L-266.5,1797.9 L-265.3,1774.6 L-271.4,1759.0 L-266.5,1743.4 L-260.3,1727.8 L-254.1,1712.2 L-244.2,1696.7 L-234.4,1681.1 L-222.0,1657.7 L-207.2,1642.1 L-188.6,1631.2 L-172.6,1611.0 L-157.7,1587.6 L-145.4,1561.1 L-135.5,1533.1 L-123.1,1501.9 L-118.2,1481.7 L-126.8,1478.5 L-139.2,1489.4 L-151.5,1491.0 L-170.1,1497.2 L-188.6,1501.9 L-207.2,1503.5 L-215.8,1486.3 L-219.5,1470.8 L-226.9,1455.2 L-238.1,1434.9 L-250.4,1422.5 L-260.3,1408.4 L-269.0,1385.1 L-275.1,1361.7 L-287.5,1338.3 L-292.4,1322.7 L-299.9,1299.4 L-311.0,1276.0 L-318.4,1252.6 L-328.3,1235.5 L-336.9,1226.1 L-343.1,1210.6 L-349.3,1198.1 L-346.8,1204.3 L-340.6,1219.9 L-328.3,1232.4 L-324.6,1221.5 L-319.6,1205.9 L-318.4,1229.3 L-312.2,1240.2 L-299.9,1260.4 L-291.2,1279.1 L-281.3,1291.6 L-271.4,1315.0 L-267.7,1330.5 L-261.5,1353.9 L-250.4,1369.5 L-241.8,1388.2 L-229.4,1413.1 L-222.0,1434.9 L-217.0,1455.2 L-213.3,1467.6 L-201.0,1466.1 L-188.6,1459.8 L-170.1,1450.5 L-151.5,1447.4 L-139.2,1436.5 L-120.6,1428.7 L-105.8,1420.9 L-89.7,1405.3 L-71.2,1397.5 L-65.0,1388.2 L-52.7,1385.1 L-46.5,1372.6 L-36.6,1361.7 L-27.9,1346.1 L-18.1,1332.1 L-11.9,1315.0 L-21.8,1299.4 L-30.4,1296.3 L-40.3,1293.1 L-49.0,1283.8 L-53.9,1268.2 L-56.4,1255.7 L-65.0,1266.7 L-77.4,1286.9 L-89.7,1288.5 L-102.1,1288.5 L-113.2,1286.9 L-115.7,1268.2 L-120.6,1260.4 L-125.6,1272.9 L-131.8,1262.0 L-131.8,1249.5 L-139.2,1241.7 L-150.3,1227.7 L-157.7,1205.9 L-151.5,1198.1 L-145.4,1193.4 L-133.0,1196.5 L-125.6,1210.6 L-114.5,1230.8 L-102.1,1237.1 L-89.7,1248.0 L-73.7,1252.6 L-58.8,1244.8 L-46.5,1252.6 L-40.3,1265.1 L-21.8,1269.8 L9.1,1272.9 L33.9,1271.3 L46.2,1272.9 L64.8,1269.8 L74.6,1277.6 L83.3,1291.6 L93.2,1299.4 L99.4,1310.3 L114.2,1308.7 L108.0,1318.1 L119.1,1338.3 L132.7,1341.4 L146.3,1333.6 L148.8,1353.9 L150.0,1369.5 L153.8,1392.9 L157.5,1416.2 L163.6,1434.9 L169.8,1455.2 L173.5,1470.8 L182.2,1486.3 L188.4,1501.9 L193.3,1517.5 L199.5,1533.1 L206.9,1539.3 L215.6,1526.8 L225.4,1520.6 L231.6,1505.0 L236.6,1497.2 L235.3,1478.5 L240.3,1455.2 L239.0,1428.7 L250.2,1416.2 L265.0,1406.9 L268.7,1397.5 L281.1,1385.1 L293.4,1369.5 L305.8,1357.0 L318.1,1350.8 L324.3,1338.3 L334.2,1327.4 L342.9,1327.4 L355.2,1324.3 L366.3,1318.1 L373.8,1313.4 L383.6,1316.5 L386.1,1335.2 L389.8,1344.6 L398.5,1357.0 L407.1,1369.5 L414.5,1380.4 L417.0,1396.0 L414.5,1413.1 L422.0,1419.3 L429.4,1417.8 L441.7,1406.9 L451.6,1408.4 L456.6,1424.0 L460.3,1447.4 L464.0,1463.0 L468.9,1483.2 L466.5,1501.9 L464.0,1525.3 L464.0,1540.9 L468.9,1548.7 L478.8,1559.6 L488.7,1572.0 L489.9,1587.6 L496.1,1603.2 L501.1,1618.8 L508.5,1628.1 L519.6,1639.0 L528.3,1645.2 L536.9,1643.7 L532.0,1626.6 L527.0,1603.2 L527.0,1587.6 L515.9,1572.0 L503.5,1559.6 L494.9,1556.4 L488.7,1540.9 L483.8,1522.2 L475.1,1509.7 L475.1,1494.1 L480.1,1478.5 L485.0,1466.1 L485.0,1456.7 L496.1,1456.7 L496.1,1469.2 L509.7,1475.4 L518.4,1484.8 L522.1,1494.1 L528.3,1500.4 L539.4,1503.5 L544.3,1515.9 L544.3,1531.5 L549.3,1530.0 L565.3,1517.5 L570.3,1505.0 L581.4,1500.4 L593.8,1489.4 L598.7,1478.5 L599.9,1463.0 L597.5,1447.4 L592.5,1428.7 L583.9,1413.1 L574.0,1402.2 L565.3,1388.2 L555.5,1372.6 L556.7,1357.0 L566.6,1346.1 L577.7,1333.6 L590.1,1329.0 L602.4,1330.5 L606.1,1338.3 L612.3,1346.1 L616.0,1335.2 L627.1,1330.5 L639.5,1324.3 L651.9,1319.6 L660.5,1318.1 L670.4,1311.8 L688.9,1308.7 L701.3,1297.8 L711.2,1283.8 L723.5,1269.8 L727.3,1255.7 L734.7,1244.8 L742.1,1229.3 L750.7,1218.4 L756.9,1201.2 L750.7,1190.3 L755.7,1182.5 L747.0,1170.1 L742.1,1159.2 L738.4,1146.7 L734.7,1131.1 L723.5,1123.3 L726.0,1112.4 L738.4,1103.1 L750.7,1092.2 L763.1,1085.9 L750.7,1081.2 L738.4,1078.1 L723.5,1085.9 L717.4,1078.1 L713.7,1070.3 L702.5,1061.0 L705.0,1053.2 L713.7,1054.8 L723.5,1050.1 L732.2,1042.3 L744.6,1029.8 L756.9,1033.0 L749.5,1045.4 L750.7,1057.9 L760.6,1050.1 L775.5,1045.4 L785.3,1043.9 L794.0,1050.1 L797.7,1064.1 L794.0,1073.5 L806.4,1078.1 L815.0,1089.0 L810.1,1107.7 L812.5,1128.0 L824.9,1126.4 L837.3,1120.2 L847.1,1115.5 L849.6,1096.8 L848.4,1081.2 L837.3,1065.7 L831.1,1050.1 L824.9,1045.4 L837.3,1037.6 L852.1,1028.3 L853.3,1014.3 L864.5,1003.4 L874.3,995.6 L884.2,992.4 L895.4,998.7 L911.4,987.8 L923.8,975.3 L939.8,959.7 L952.2,941.0 L960.9,925.5 L967.0,909.9 L981.9,894.3 L985.6,874.0 L996.7,852.2 L991.8,839.8 L979.4,832.0 L960.9,827.3 L948.5,830.4 L942.3,824.2 L952.2,814.8 L960.9,800.8 L973.2,788.3 L985.6,769.7 L1004.1,749.4 L1022.7,741.6 L1047.4,740.0 L1072.1,743.2 L1090.6,736.9 L1109.2,738.5 L1127.7,746.3 L1146.3,743.2 L1158.6,736.9 L1164.8,727.6 L1168.5,699.5 L1237.7,699.5 L1237.7,730.7 L1214.2,749.4 L1195.7,765.0 L1179.6,777.4 L1171.0,793.0 L1172.2,816.4 L1175.9,839.8 L1183.3,863.1 L1185.8,872.5 L1195.7,863.1 L1208.1,847.6 L1224.1,835.1 L1226.6,821.1 L1248.8,811.7 L1252.6,793.0 L1267.4,788.3 L1260.0,769.7 L1267.4,754.1 L1269.9,733.8 L1271.1,699.5Z" fill="none" stroke="#000" stroke-width="1.2" stroke-linejoin="round"/>
<path d="M866.9,1135.8 L874.3,1128.0 L886.7,1114.0 L899.1,1112.4 L923.8,1110.9 L930.0,1096.8 L942.3,1089.0 L946.0,1092.2 L960.9,1081.2 L973.2,1070.3 L979.4,1050.1 L979.4,1034.5 L985.6,1022.0 L994.2,1022.0 L997.9,1034.5 L1004.1,1050.1 L999.2,1065.7 L991.8,1073.5 L991.8,1092.2 L988.1,1110.9 L979.4,1120.2 L969.5,1115.5 L964.6,1126.4 L948.5,1124.9 L939.8,1129.5 L936.1,1138.9 L926.3,1143.6 L918.8,1131.1 L905.2,1126.4 L892.9,1129.5 L883.0,1137.3 L870.6,1137.3Z" fill="none" stroke="#000" stroke-width="1.2" stroke-linejoin="round"/>
<path d="M852.1,1148.2 L862.0,1137.3 L868.2,1137.3 L878.0,1148.2 L874.3,1166.9 L870.6,1177.8 L864.5,1182.5 L858.3,1177.8 L858.3,1162.3 L853.3,1154.5Z" fill="none" stroke="#000" stroke-width="1.2" stroke-linejoin="round"/>
<path d="M886.7,1146.7 L892.9,1135.8 L907.7,1131.1 L913.9,1138.9 L907.7,1146.7 L899.1,1145.1 L891.6,1154.5Z" fill="none" stroke="#000" stroke-width="1.2" stroke-linejoin="round"/>
<path d="M733.4,1307.2 L740.9,1322.7 L744.6,1321.2 L755.7,1283.8 L755.7,1272.9 L749.5,1271.3 L740.9,1282.2Z" fill="none" stroke="#000" stroke-width="1.2" stroke-linejoin="round"/>
<path d="M591.3,1366.4 L602.4,1381.9 L614.8,1377.3 L621.0,1360.1 L616.0,1352.3 L606.1,1353.9 L592.5,1358.6Z" fill="none" stroke="#000" stroke-width="1.2" stroke-linejoin="round"/>
<path d="M532.0,860.0 L544.3,863.1 L559.2,852.2 L571.5,842.9 L590.1,832.0 L602.4,816.4 L606.1,797.7 L598.7,799.3 L590.1,819.5 L571.5,835.1 L553.0,846.0 L536.9,855.3Z" fill="none" stroke="#000" stroke-width="1.2" stroke-linejoin="round"/>
<path d="M157.5,939.5 L169.8,948.8 L182.2,941.0 L200.7,942.6 L219.3,941.0 L227.9,937.9 L213.1,934.8 L194.5,937.9 L176.0,936.4 L163.6,933.2Z" fill="none" stroke="#000" stroke-width="1.2" stroke-linejoin="round"/>
<path d="M581.4,1329.0 L567.8,1322.7 L565.3,1310.3 L553.0,1304.0 L540.6,1310.3 L528.3,1313.4 L515.9,1311.8 L506.0,1318.1 L507.2,1335.2 L491.2,1330.5 L478.8,1321.2 L472.6,1307.2 L460.3,1291.6 L457.8,1276.0 L468.9,1260.4 L462.8,1237.1 L451.6,1226.1 L438.0,1221.5 L423.2,1213.7 L404.7,1223.0 L386.1,1235.5 L379.9,1232.4 L367.6,1229.3 L355.2,1227.7 L346.6,1240.2 L336.7,1230.8 L318.1,1229.3 L305.8,1224.6 L287.2,1218.4 L268.7,1202.8 L252.6,1198.1 L244.0,1193.4 L225.4,1177.8 L229.1,1159.2 L220.5,1157.6 L223.0,1131.1 L210.6,1112.4 L188.4,1104.6 L182.2,1096.8 L169.8,1089.0 L173.5,1085.9 L173.5,1073.5 L161.2,1064.1 L158.7,1053.2 L161.2,1045.4 L176.0,1036.1 L188.4,1034.5 L206.9,1026.7 L225.4,1014.3 L240.3,1008.0 L244.0,981.5 L237.8,966.0 L256.3,959.7 L268.7,961.3 L266.2,956.6 L274.9,930.1 L293.4,933.2 L305.8,931.7 L318.1,909.9 L330.5,900.5 L336.7,909.9 L355.2,919.2 L367.6,933.2 L373.8,948.8 L379.9,961.3 L404.7,964.4 L429.4,975.3 L435.6,987.8 L447.9,998.7 L485.0,1001.8 L503.5,1001.8 L528.3,1012.7 L546.8,1017.4 L571.5,1006.5 L596.2,1004.9 L614.8,1001.8 L627.1,992.4 L627.1,980.0 L639.5,964.4 L658.0,964.4 L676.6,958.2 L688.9,944.1 L701.3,939.5 L713.7,937.9 L729.7,937.9 L728.5,930.1 L713.7,920.8 L701.3,922.3 L682.8,922.3 L682.8,909.9 L692.6,889.6 L705.0,894.3 L719.8,883.4 L726.0,870.9 L738.4,855.3 L732.2,846.0 L742.1,836.6 L756.9,833.5 L775.5,832.0 L794.0,836.6 L806.4,847.6 L816.2,866.2 L824.9,886.5 L831.1,892.7 L849.6,895.8 L862.0,905.2 L868.2,922.3 L886.7,922.3 L905.2,913.0 L917.6,911.4 L905.2,925.5 L892.9,964.4 L880.5,961.3 L868.2,964.4 L870.6,980.0 L865.7,995.6 L862.0,1003.4 L849.6,1004.9 L837.3,1011.1 L831.1,1014.3 L812.5,1018.9 L800.2,1033.0 L785.3,1043.9" fill="none" stroke="#000" stroke-width="1.2" stroke-linejoin="round"/>
<path d="M122.0,1047.7 L136.4,1045.3 L153.2,1038.1 L165.3,1027.3 L179.7,1016.5 L194.1,1006.8 L213.3,1002.0 L234.9,998.4 L246.9,997.2 L263.8,999.6 L278.2,997.2 L287.8,986.4 L302.2,984.0 L316.6,986.4 L319.0,992.4 L311.8,1003.2 L302.2,1005.6 L275.8,1006.8 L254.1,1008.0 L234.9,1014.1 L222.9,1027.3 L210.9,1032.1 L189.3,1041.7 L179.7,1048.9 L184.5,1058.5 L194.1,1072.9 L203.7,1082.5 L222.9,1088.5 L244.5,1095.7 L256.5,1098.1 L268.6,1090.9 L287.8,1084.9 L309.4,1075.3 L326.2,1068.1 L340.6,1063.3 L355.0,1059.7 L374.3,1059.7 L393.5,1059.7 L403.1,1051.3 L412.7,1048.9 L429.5,1047.7 L453.5,1045.3 L465.6,1047.7 L480.0,1056.1 L499.2,1065.7 L513.6,1075.3 L520.8,1082.5 L520.8,1096.9 L525.6,1108.9 L532.8,1123.4 L536.4,1135.4 L535.2,1152.2 L532.8,1169.0 L523.2,1178.6 L518.4,1188.2 L516.0,1200.2 L516.0,1209.9 L518.4,1219.5 L513.6,1233.9 L504.0,1241.1 L489.6,1253.1 L477.6,1259.1 L465.6,1245.9 L456.0,1233.9 L441.5,1221.9 L427.1,1214.7 L417.5,1217.1 L407.9,1224.3 L398.3,1233.9 L386.3,1238.7 L374.3,1239.9 L350.2,1241.1 L326.2,1238.7 L302.2,1229.1 L278.2,1214.7 L254.1,1200.2 L230.1,1183.4 L210.9,1169.0 L194.1,1152.2 L179.7,1135.4 L165.3,1125.8 L146.0,1118.6 L134.0,1117.4 L118.0,1121.0" fill="none" stroke="#fff" stroke-width="3.6" stroke-dasharray="6,5"/>
<path d="M130.5,1069.8 L152.5,1069.8 L201.0,1061.9 L245.0,1059.7 L315.4,1058.3 L341.9,1055.3 L385.9,1046.5 L412.3,1044.3 L469.6,1043.4" fill="none" stroke="#2e3192" stroke-width="4" stroke-linejoin="round"/>
<path d="M524.6,1036.8 L544.5,1032.4 L588.5,1028.8 L632.6,1024.4 L685.4,1021.4 L733.9,1009.0" fill="none" stroke="#2e3192" stroke-width="4" stroke-linejoin="round"/>
<path d="M744.5,1006.0 L755.9,1002.4 L786.7,1002.4 L830.8,998.0 L852.8,992.7 L874.8,991.4 L918.0,977.3" fill="none" stroke="#2e3192" stroke-width="4" stroke-linejoin="round"/>
<path d="M130.5,1113.4 L148.1,1113.4 L178.9,1118.3 L200.9,1118.3 L223.0,1113.9 L271.4,1116.9 L315.4,1114.7 L350.7,1109.4 L385.9,1106.8 L430.0,1105.9" fill="none" stroke="#2e3192" stroke-width="4" stroke-linejoin="round"/>
<path d="M501.8,1123.1 L522.5,1130.1 L544.5,1127.9 L570.9,1125.7 L588.5,1119.1 L619.4,1110.3 L676.6,1103.7 L707.4,1102.8 L764.7,1090.5 L782.3,1088.3 L826.4,1090.9 L874.8,1092.7 L918.0,1098.0" fill="none" stroke="#2e3192" stroke-width="4" stroke-linejoin="round"/>
<path d="M130.5,1185.6 L170.1,1182.1 L201.0,1179.9 L245.0,1183.9 L267.0,1183.0 L315.4,1172.0 L359.5,1168.9 L412.3,1161.0 L430.0,1161.0 L447.6,1165.4 L465.2,1175.1" fill="none" stroke="#2e3192" stroke-width="4" stroke-linejoin="round"/>
<path d="M507.0,1216.0 L522.5,1221.8 L544.5,1222.2 L570.9,1223.5 L610.5,1219.5 L632.6,1216.0 L659.0,1212.9 L676.6,1216.0 L707.4,1227.1 L729.5,1230.6 L747.1,1238.1 L755.9,1255.7 L760.3,1290.9 L759.4,1321.7 L764.7,1356.0" fill="none" stroke="#2e3192" stroke-width="4" stroke-linejoin="round"/>
<path d="M456.4,1356.0 L469.6,1308.5 L491.6,1268.9 L513.6,1233.6 L520.2,1213.8 L522.5,1206.3 L540.1,1206.3" fill="none" stroke="#1c1a5e" stroke-width="4.5" stroke-dasharray="10,7"/>
<path d="M568.7,1145.6 L575.3,1127.9 L584.1,1097.1 L592.9,1066.3 L606.1,1044.3 L619.4,1026.6 L632.6,1004.6 L645.8,991.4 L659.0,978.2 L676.6,976.0" fill="none" stroke="#1c1a5e" stroke-width="4.5" stroke-dasharray="10,7"/>
<path d="M707.4,951.8 L720.6,936.4 L738.3,912.1 L755.9,890.1 L762.5,872.5 L766.9,846.1 L775.7,806.0" fill="none" stroke="#1c1a5e" stroke-width="4.5" stroke-dasharray="10,7"/>
<path d="M533.5,1356.0 L566.5,1299.7 L597.3,1242.5 L623.8,1198.4 L632.6,1178.6" fill="none" stroke="#1c1a5e" stroke-width="4.5" stroke-dasharray="10,7"/>
<path d="M661.2,1119.1 L672.2,1088.3 L689.8,1064.1 L703.0,1064.1 L716.2,1053.1 L733.9,1031.0 L755.9,1017.8 L773.5,1016.5 L799.9,1009.0 L817.5,995.8 L839.6,982.6 L857.2,976.9 L883.6,965.0 L905.6,943.0 L920.0,925.3" fill="none" stroke="#1c1a5e" stroke-width="4.5" stroke-dasharray="10,7"/>
<rect x="534.4" y="1089.0" width="148.3" height="155.8" fill="none" stroke="#000" stroke-width="2"/>
</g>
<text x="476.5" y="1050.5" font-size="22" font-weight="normal" fill="#000" text-anchor="start" textLength="46" lengthAdjust="spacingAndGlyphs">5% IO</text>
<text x="441" y="1120" font-size="22" font-weight="normal" fill="#000" text-anchor="start" textLength="52" lengthAdjust="spacingAndGlyphs" transform="rotate(6 441 1120)">10% IO</text>
<text x="470" y="1183" font-size="22" font-weight="normal" fill="#000" text-anchor="start" textLength="52" lengthAdjust="spacingAndGlyphs" transform="rotate(45 470 1183)">20% IO</text>
<text x="556" y="1210" font-size="22" font-weight="normal" fill="#000" text-anchor="start" textLength="54" lengthAdjust="spacingAndGlyphs" transform="rotate(-68 556 1210)">10% PO</text>
<text x="646" y="1178" font-size="22" font-weight="normal" fill="#000" text-anchor="start" textLength="54" lengthAdjust="spacingAndGlyphs" transform="rotate(-64 646 1178)">20% PO</text>
<text x="689" y="977" font-size="20" font-weight="normal" fill="#000" text-anchor="start" textLength="16" lengthAdjust="spacingAndGlyphs" transform="rotate(-52 689 977)">10</text>
<text x="736" y="1015" font-size="20" font-weight="normal" fill="#000" text-anchor="start" textLength="9" lengthAdjust="spacingAndGlyphs">5</text>
<line x1="114.6" y1="792" x2="114.6" y2="1370" stroke="#000" stroke-width="1.6"/>
<line x1="113.8" y1="1353.9" x2="919.0" y2="1353.9" stroke="#000" stroke-width="1.6"/>
<line x1="99.6" y1="808.6" x2="919.0" y2="808.6" stroke="#300" stroke-width="1.6"/>
<line x1="918.0" y1="808.6" x2="918.0" y2="1353.9" stroke="#333" stroke-width="1"/>
<line x1="99.6" y1="1353.9" x2="114.6" y2="1353.9" stroke="#000" stroke-width="1.6"/>
<text x="92.3" y="1344.6" font-size="24.5" font-weight="bold" fill="#000" text-anchor="middle" textLength="50" lengthAdjust="spacingAndGlyphs" transform="rotate(-90 92.3 1344.6)">20°N</text>
<line x1="99.6" y1="1276.0" x2="114.6" y2="1276.0" stroke="#000" stroke-width="1.6"/>
<text x="92.3" y="1266.2" font-size="24.5" font-weight="bold" fill="#000" text-anchor="middle" textLength="50" lengthAdjust="spacingAndGlyphs" transform="rotate(-90 92.3 1266.2)">25°N</text>
<line x1="99.6" y1="1198.1" x2="114.6" y2="1198.1" stroke="#000" stroke-width="1.6"/>
<text x="92.3" y="1188" font-size="24.5" font-weight="bold" fill="#000" text-anchor="middle" textLength="50" lengthAdjust="spacingAndGlyphs" transform="rotate(-90 92.3 1188)">30°N</text>
<line x1="99.6" y1="1120.2" x2="114.6" y2="1120.2" stroke="#000" stroke-width="1.6"/>
<text x="92.3" y="1110.2" font-size="24.5" font-weight="bold" fill="#000" text-anchor="middle" textLength="50" lengthAdjust="spacingAndGlyphs" transform="rotate(-90 92.3 1110.2)">35°N</text>
<line x1="99.6" y1="1042.3" x2="114.6" y2="1042.3" stroke="#000" stroke-width="1.6"/>
<text x="92.3" y="1032.8" font-size="24.5" font-weight="bold" fill="#000" text-anchor="middle" textLength="50" lengthAdjust="spacingAndGlyphs" transform="rotate(-90 92.3 1032.8)">40°N</text>
<line x1="99.6" y1="964.4" x2="114.6" y2="964.4" stroke="#000" stroke-width="1.6"/>
<text x="92.3" y="954.7" font-size="24.5" font-weight="bold" fill="#000" text-anchor="middle" textLength="50" lengthAdjust="spacingAndGlyphs" transform="rotate(-90 92.3 954.7)">45°N</text>
<line x1="99.6" y1="886.5" x2="114.6" y2="886.5" stroke="#000" stroke-width="1.6"/>
<text x="92.3" y="876.3" font-size="24.5" font-weight="bold" fill="#000" text-anchor="middle" textLength="50" lengthAdjust="spacingAndGlyphs" transform="rotate(-90 92.3 876.3)">50°N</text>
<line x1="99.6" y1="808.6" x2="114.6" y2="808.6" stroke="#000" stroke-width="1.6"/>
<text x="92.3" y="806.7" font-size="24.5" font-weight="bold" fill="#000" text-anchor="middle" textLength="50" lengthAdjust="spacingAndGlyphs" transform="rotate(-90 92.3 806.7)">55°N</text>
<line x1="114.2" y1="1353.9" x2="114.2" y2="1369.9" stroke="#000" stroke-width="1.6"/>
<text x="124.5" y="1393" font-size="25" font-weight="bold" fill="#000" text-anchor="middle" textLength="45.4" lengthAdjust="spacingAndGlyphs">70°E</text>
<line x1="237.8" y1="1353.9" x2="237.8" y2="1369.9" stroke="#000" stroke-width="1.6"/>
<text x="247.6" y="1393" font-size="25" font-weight="bold" fill="#000" text-anchor="middle" textLength="45.4" lengthAdjust="spacingAndGlyphs">80°E</text>
<line x1="361.4" y1="1353.9" x2="361.4" y2="1369.9" stroke="#000" stroke-width="1.6"/>
<text x="372" y="1393" font-size="25" font-weight="bold" fill="#000" text-anchor="middle" textLength="45.4" lengthAdjust="spacingAndGlyphs">90°E</text>
<line x1="485.0" y1="1353.9" x2="485.0" y2="1369.9" stroke="#000" stroke-width="1.6"/>
<text x="493.2" y="1393" font-size="25" font-weight="bold" fill="#000" text-anchor="middle" textLength="60.0" lengthAdjust="spacingAndGlyphs">100°E</text>
<line x1="608.6" y1="1353.9" x2="608.6" y2="1369.9" stroke="#000" stroke-width="1.6"/>
<text x="617.2" y="1393" font-size="25" font-weight="bold" fill="#000" text-anchor="middle" textLength="60.0" lengthAdjust="spacingAndGlyphs">110°E</text>
<line x1="732.2" y1="1353.9" x2="732.2" y2="1369.9" stroke="#000" stroke-width="1.6"/>
<text x="741" y="1393" font-size="25" font-weight="bold" fill="#000" text-anchor="middle" textLength="60.0" lengthAdjust="spacingAndGlyphs">120°E</text>
<line x1="855.8" y1="1353.9" x2="855.8" y2="1369.9" stroke="#000" stroke-width="1.6"/>
<text x="864" y="1393" font-size="25" font-weight="bold" fill="#000" text-anchor="middle" textLength="60.0" lengthAdjust="spacingAndGlyphs">130°E</text>
<text x="0" y="810" font-size="33.5" font-weight="bold" fill="#000" text-anchor="start" textLength="40.8" lengthAdjust="spacingAndGlyphs">(b)</text>
<rect x="258.30" y="1415.0" width="17.15" height="30.0" fill="#2417e0"/>
<rect x="274.85" y="1415.0" width="17.15" height="30.0" fill="#2a28e0"/>
<rect x="291.40" y="1415.0" width="17.15" height="30.0" fill="#2e3ce4"/>
<rect x="307.95" y="1415.0" width="17.15" height="30.0" fill="#3456ea"/>
<rect x="324.51" y="1415.0" width="17.15" height="30.0" fill="#386aee"/>
<rect x="341.06" y="1415.0" width="17.15" height="30.0" fill="#3e80f0"/>
<rect x="357.61" y="1415.0" width="17.15" height="30.0" fill="#4290f2"/>
<rect x="374.16" y="1415.0" width="17.15" height="30.0" fill="#4aa2f6"/>
<rect x="390.71" y="1415.0" width="17.15" height="30.0" fill="#50bafe"/>
<rect x="407.26" y="1415.0" width="17.15" height="30.0" fill="#66c6fe"/>
<rect x="423.82" y="1415.0" width="17.15" height="30.0" fill="#7ccefc"/>
<rect x="440.37" y="1415.0" width="17.15" height="30.0" fill="#92d4fa"/>
<rect x="456.92" y="1415.0" width="17.15" height="30.0" fill="#a8dcf8"/>
<rect x="473.47" y="1415.0" width="17.15" height="30.0" fill="#c0e6fa"/>
<rect x="490.02" y="1415.0" width="17.15" height="30.0" fill="#d6eefa"/>
<rect x="506.57" y="1415.0" width="17.15" height="30.0" fill="#e8f6fa"/>
<rect x="523.12" y="1415.0" width="17.15" height="30.0" fill="#fcfef8"/>
<rect x="539.68" y="1415.0" width="17.15" height="30.0" fill="#fef6e2"/>
<rect x="556.23" y="1415.0" width="17.15" height="30.0" fill="#fdeecb"/>
<rect x="572.78" y="1415.0" width="17.15" height="30.0" fill="#fde6ae"/>
<rect x="589.33" y="1415.0" width="17.15" height="30.0" fill="#fde0a0"/>
<rect x="605.88" y="1415.0" width="17.15" height="30.0" fill="#fdd880"/>
<rect x="622.43" y="1415.0" width="17.15" height="30.0" fill="#fcd060"/>
<rect x="638.98" y="1415.0" width="17.15" height="30.0" fill="#fcc84e"/>
<rect x="655.54" y="1415.0" width="17.15" height="30.0" fill="#fcc42a"/>
<rect x="672.09" y="1415.0" width="17.15" height="30.0" fill="#f9ac28"/>
<rect x="688.64" y="1415.0" width="17.15" height="30.0" fill="#f7981f"/>
<rect x="705.19" y="1415.0" width="17.15" height="30.0" fill="#f58220"/>
<rect x="721.74" y="1415.0" width="17.15" height="30.0" fill="#f46f1d"/>
<rect x="738.29" y="1415.0" width="17.15" height="30.0" fill="#f25a1a"/>
<rect x="754.85" y="1415.0" width="17.15" height="30.0" fill="#f04616"/>
<rect x="771.40" y="1415.0" width="17.15" height="30.0" fill="#ee3014"/>
<rect x="787.95" y="1415.0" width="17.15" height="30.0" fill="#ec1a10"/>
<rect x="258.3" y="1412.5" width="546.2" height="32.5" fill="none" stroke="#231f20" stroke-width="2.4"/>
<line x1="331.1" y1="1439.0" x2="331.1" y2="1445.0" stroke="#231f20" stroke-width="2"/>
<line x1="404.0" y1="1439.0" x2="404.0" y2="1445.0" stroke="#231f20" stroke-width="2"/>
<line x1="476.8" y1="1439.0" x2="476.8" y2="1445.0" stroke="#231f20" stroke-width="2"/>
<line x1="549.6" y1="1439.0" x2="549.6" y2="1445.0" stroke="#231f20" stroke-width="2"/>
<line x1="622.4" y1="1439.0" x2="622.4" y2="1445.0" stroke="#231f20" stroke-width="2"/>
<line x1="695.3" y1="1439.0" x2="695.3" y2="1445.0" stroke="#231f20" stroke-width="2"/>
<line x1="768.1" y1="1439.0" x2="768.1" y2="1445.0" stroke="#231f20" stroke-width="2"/>
<text x="258.8" y="1471" font-size="25" font-weight="bold" fill="#000" text-anchor="middle" textLength="14.4" lengthAdjust="spacingAndGlyphs">0</text>
<text x="331.55" y="1471" font-size="25" font-weight="bold" fill="#000" text-anchor="middle" textLength="29.5" lengthAdjust="spacingAndGlyphs">10</text>
<text x="404.2" y="1471" font-size="25" font-weight="bold" fill="#000" text-anchor="middle" textLength="29.6" lengthAdjust="spacingAndGlyphs">20</text>
<text x="476.65" y="1471" font-size="25" font-weight="bold" fill="#000" text-anchor="middle" textLength="29.9" lengthAdjust="spacingAndGlyphs">30</text>
<text x="548.9" y="1471" font-size="25" font-weight="bold" fill="#000" text-anchor="middle" textLength="30.8" lengthAdjust="spacingAndGlyphs">40</text>
<text x="621.1" y="1471" font-size="25" font-weight="bold" fill="#000" text-anchor="middle" textLength="30.0" lengthAdjust="spacingAndGlyphs">50</text>
<text x="693.8" y="1471" font-size="25" font-weight="bold" fill="#000" text-anchor="middle" textLength="30.0" lengthAdjust="spacingAndGlyphs">60</text>
<text x="766.45" y="1471" font-size="25" font-weight="bold" fill="#000" text-anchor="middle" textLength="29.9" lengthAdjust="spacingAndGlyphs">70</text>
<text x="307.5" y="1512" font-size="27.6" font-weight="bold" fill="#000" text-anchor="start" textLength="503.5" lengthAdjust="spacingAndGlyphs">Terrestrially Recycled Moisture (% TPW)</text>
<line x1="1113.8" y1="1274.8" x2="1843.2" y2="1274.8" stroke="#cfe2f3" stroke-width="1.6"/>
<line x1="1113.8" y1="1159.5" x2="1843.2" y2="1159.5" stroke="#cfe2f3" stroke-width="1.6"/>
<line x1="1113.8" y1="1044.1" x2="1843.2" y2="1044.1" stroke="#cfe2f3" stroke-width="1.6"/>
<line x1="1113.8" y1="928.8" x2="1843.2" y2="928.8" stroke="#cfe2f3" stroke-width="1.6"/>
<line x1="1113.8" y1="813.5" x2="1843.2" y2="813.5" stroke="#cfe2f3" stroke-width="1.6"/>
<line x1="1180.1" y1="813.5" x2="1180.1" y2="1390.1" stroke="#d4d4d8" stroke-width="1.6"/>
<line x1="1246.4" y1="813.5" x2="1246.4" y2="1390.1" stroke="#d4d4d8" stroke-width="1.6"/>
<line x1="1312.7" y1="813.5" x2="1312.7" y2="1390.1" stroke="#d4d4d8" stroke-width="1.6"/>
<line x1="1379.0" y1="813.5" x2="1379.0" y2="1390.1" stroke="#d4d4d8" stroke-width="1.6"/>
<line x1="1445.3" y1="813.5" x2="1445.3" y2="1390.1" stroke="#d4d4d8" stroke-width="1.6"/>
<line x1="1511.7" y1="813.5" x2="1511.7" y2="1390.1" stroke="#d4d4d8" stroke-width="1.6"/>
<line x1="1578.0" y1="813.5" x2="1578.0" y2="1390.1" stroke="#d4d4d8" stroke-width="1.6"/>
<line x1="1644.3" y1="813.5" x2="1644.3" y2="1390.1" stroke="#d4d4d8" stroke-width="1.6"/>
<line x1="1710.6" y1="813.5" x2="1710.6" y2="1390.1" stroke="#d4d4d8" stroke-width="1.6"/>
<line x1="1776.9" y1="813.5" x2="1776.9" y2="1390.1" stroke="#d4d4d8" stroke-width="1.6"/>
<polygon points="1113.8,858.7 1180.1,862.9 1246.4,857.6 1312.7,850.9 1379.0,858.7 1445.3,883.6 1511.7,902.8 1578.0,904.4 1644.3,891.0 1710.6,873.2 1776.9,857.6 1843.2,853.4 1843.2,918.4 1776.9,924.2 1710.6,938.3 1644.3,954.9 1578.0,967.8 1511.7,953.7 1445.3,928.8 1379.0,912.2 1312.7,909.7 1246.4,909.0 1180.1,909.0 1113.8,913.1" fill="#d9c8b6" fill-opacity="0.6" stroke="#999" stroke-opacity="0.7" stroke-width="1.2"/>
<polygon points="1113.8,1310.5 1180.1,1274.3 1246.4,1240.4 1312.7,1213.0 1379.0,1215.0 1445.3,1237.9 1511.7,1266.5 1578.0,1293.9 1644.3,1314.7 1710.6,1332.4 1776.9,1339.1 1843.2,1332.9 1843.2,1357.3 1776.9,1359.9 1710.6,1352.3 1644.3,1339.1 1578.0,1318.4 1511.7,1297.8 1445.3,1275.2 1379.0,1260.2 1312.7,1261.2 1246.4,1284.7 1180.1,1315.8 1113.8,1340.7" fill="#8f8fb2" fill-opacity="0.40"/>
<polygon points="1113.8,1244.1 1180.1,1227.5 1246.4,1222.9 1312.7,1225.0 1379.0,1230.0 1445.3,1245.7 1511.7,1271.6 1578.0,1300.2 1644.3,1318.4 1710.6,1320.0 1776.9,1300.2 1843.2,1273.2 1843.2,1309.6 1776.9,1328.7 1710.6,1341.9 1644.3,1343.3 1578.0,1328.7 1511.7,1302.9 1445.3,1276.9 1379.0,1264.9 1312.7,1264.9 1246.4,1271.6 1180.1,1281.0 1113.8,1292.5" fill="#f08a8a" fill-opacity="0.40"/>
<polygon points="1113.8,1345.4 1180.1,1345.4 1246.4,1310.5 1312.7,1235.3 1379.0,1134.1 1445.3,1025.0 1511.7,961.6 1578.0,984.9 1644.3,1070.7 1710.6,1162.7 1776.9,1253.6 1843.2,1313.3 1843.2,1357.3 1776.9,1297.8 1710.6,1221.3 1644.3,1131.8 1578.0,1064.0 1511.7,1045.8 1445.3,1097.6 1379.0,1196.4 1312.7,1295.1 1246.4,1365.2 1180.1,1400.5 1113.8,1392.4" fill="#0a64f8" fill-opacity="0.25"/>
<polyline points="1113.8,1373.5 1180.1,1376.5 1246.4,1341.9 1312.7,1269.0 1379.0,1167.8 1445.3,1057.1 1511.7,997.3 1578.0,1019.7 1644.3,1100.2 1710.6,1195.2 1776.9,1276.9 1843.2,1336.6" fill="none" stroke="#0d63f5" stroke-width="2.9"/>
<polygon points="1113.8,870.0 1180.1,896.1 1246.4,913.1 1312.7,953.3 1379.0,1005.2 1445.3,1011.4 1511.7,952.1 1578.0,858.7 1644.3,789.5 1710.6,768.8 1776.9,784.9 1843.2,825.0 1843.2,1010.9 1776.9,983.3 1710.6,961.6 1644.3,968.7 1578.0,1015.5 1511.7,1098.6 1445.3,1147.0 1379.0,1135.0 1312.7,1087.3 1246.4,1037.9 1180.1,1023.8 1113.8,1028.5" fill="#82339f" fill-opacity="0.28"/>
<polyline points="1113.8,883.2 1180.1,883.2 1246.4,880.4 1312.7,877.4 1379.0,882.7 1445.3,902.8 1511.7,926.3 1578.0,933.0 1644.3,920.1 1710.6,902.8 1776.9,888.2 1843.2,883.6" fill="none" stroke="#6f5f51" stroke-width="3.6" stroke-dasharray="13.6,13"/>
<polyline points="1113.8,949.1 1180.1,960.0 1246.4,975.6 1312.7,1018.8 1379.0,1070.2 1445.3,1079.4 1511.7,1023.8 1578.0,938.3 1644.3,879.5 1710.6,865.4 1776.9,884.8 1843.2,918.9" fill="none" stroke="#7d1fa6" stroke-width="2.9"/>
<polyline points="1113.8,1327.1 1180.1,1297.8 1246.4,1262.8 1312.7,1239.0 1379.0,1237.9 1445.3,1256.1 1511.7,1281.0 1578.0,1305.5 1644.3,1327.8 1710.6,1342.8 1776.9,1349.5 1843.2,1344.4" fill="none" stroke="#1c1a6e" stroke-width="2.7" stroke-dasharray="15,9"/>
<polyline points="1113.8,1269.0 1180.1,1254.9 1246.4,1246.2 1312.7,1244.1 1379.0,1248.3 1445.3,1261.2 1511.7,1287.2 1578.0,1314.7 1644.3,1331.3 1710.6,1331.3 1776.9,1314.7 1843.2,1291.4" fill="none" stroke="#e0141b" stroke-width="2.7" stroke-dasharray="15,9"/>
<line x1="1113.8" y1="812.5" x2="1113.8" y2="1391.1" stroke="#000" stroke-width="2.4"/>
<line x1="1843.2" y1="812.5" x2="1843.2" y2="1391.1" stroke="#000" stroke-width="2.4"/>
<line x1="1112.8" y1="1390.1" x2="1859.2" y2="1390.1" stroke="#000" stroke-width="2.4"/>
<line x1="1098.8" y1="1390.1" x2="1113.8" y2="1390.1" stroke="#000" stroke-width="2"/>
<line x1="1105.8" y1="1367.0" x2="1113.8" y2="1367.0" stroke="#000" stroke-width="2"/>
<line x1="1105.8" y1="1344.0" x2="1113.8" y2="1344.0" stroke="#000" stroke-width="2"/>
<line x1="1105.8" y1="1320.9" x2="1113.8" y2="1320.9" stroke="#000" stroke-width="2"/>
<line x1="1105.8" y1="1297.8" x2="1113.8" y2="1297.8" stroke="#000" stroke-width="2"/>
<line x1="1098.8" y1="1274.8" x2="1113.8" y2="1274.8" stroke="#000" stroke-width="2"/>
<line x1="1105.8" y1="1251.7" x2="1113.8" y2="1251.7" stroke="#000" stroke-width="2"/>
<line x1="1105.8" y1="1228.7" x2="1113.8" y2="1228.7" stroke="#000" stroke-width="2"/>
<line x1="1105.8" y1="1205.6" x2="1113.8" y2="1205.6" stroke="#000" stroke-width="2"/>
<line x1="1105.8" y1="1182.5" x2="1113.8" y2="1182.5" stroke="#000" stroke-width="2"/>
<line x1="1098.8" y1="1159.5" x2="1113.8" y2="1159.5" stroke="#000" stroke-width="2"/>
<line x1="1105.8" y1="1136.4" x2="1113.8" y2="1136.4" stroke="#000" stroke-width="2"/>
<line x1="1105.8" y1="1113.3" x2="1113.8" y2="1113.3" stroke="#000" stroke-width="2"/>
<line x1="1105.8" y1="1090.3" x2="1113.8" y2="1090.3" stroke="#000" stroke-width="2"/>
<line x1="1105.8" y1="1067.2" x2="1113.8" y2="1067.2" stroke="#000" stroke-width="2"/>
<line x1="1098.8" y1="1044.1" x2="1113.8" y2="1044.1" stroke="#000" stroke-width="2"/>
<line x1="1105.8" y1="1021.1" x2="1113.8" y2="1021.1" stroke="#000" stroke-width="2"/>
<line x1="1105.8" y1="998.0" x2="1113.8" y2="998.0" stroke="#000" stroke-width="2"/>
<line x1="1105.8" y1="974.9" x2="1113.8" y2="974.9" stroke="#000" stroke-width="2"/>
<line x1="1105.8" y1="951.9" x2="1113.8" y2="951.9" stroke="#000" stroke-width="2"/>
<line x1="1098.8" y1="928.8" x2="1113.8" y2="928.8" stroke="#000" stroke-width="2"/>
<line x1="1105.8" y1="905.8" x2="1113.8" y2="905.8" stroke="#000" stroke-width="2"/>
<line x1="1105.8" y1="882.7" x2="1113.8" y2="882.7" stroke="#000" stroke-width="2"/>
<line x1="1105.8" y1="859.6" x2="1113.8" y2="859.6" stroke="#000" stroke-width="2"/>
<line x1="1105.8" y1="836.6" x2="1113.8" y2="836.6" stroke="#000" stroke-width="2"/>
<line x1="1098.8" y1="813.5" x2="1113.8" y2="813.5" stroke="#000" stroke-width="2"/>
<line x1="1113.8" y1="1390.1" x2="1113.8" y2="1405.1" stroke="#000" stroke-width="2"/>
<line x1="1180.1" y1="1390.1" x2="1180.1" y2="1405.1" stroke="#000" stroke-width="2"/>
<line x1="1246.4" y1="1390.1" x2="1246.4" y2="1405.1" stroke="#000" stroke-width="2"/>
<line x1="1312.7" y1="1390.1" x2="1312.7" y2="1405.1" stroke="#000" stroke-width="2"/>
<line x1="1379.0" y1="1390.1" x2="1379.0" y2="1405.1" stroke="#000" stroke-width="2"/>
<line x1="1445.3" y1="1390.1" x2="1445.3" y2="1405.1" stroke="#000" stroke-width="2"/>
<line x1="1511.7" y1="1390.1" x2="1511.7" y2="1405.1" stroke="#000" stroke-width="2"/>
<line x1="1578.0" y1="1390.1" x2="1578.0" y2="1405.1" stroke="#000" stroke-width="2"/>
<line x1="1644.3" y1="1390.1" x2="1644.3" y2="1405.1" stroke="#000" stroke-width="2"/>
<line x1="1710.6" y1="1390.1" x2="1710.6" y2="1405.1" stroke="#000" stroke-width="2"/>
<line x1="1776.9" y1="1390.1" x2="1776.9" y2="1405.1" stroke="#000" stroke-width="2"/>
<line x1="1843.2" y1="1390.1" x2="1843.2" y2="1405.1" stroke="#000" stroke-width="2"/>
<line x1="1843.2" y1="813.5" x2="1859.2" y2="813.5" stroke="#000" stroke-width="2"/>
<line x1="1843.2" y1="830.0" x2="1852.2" y2="830.0" stroke="#000" stroke-width="2"/>
<line x1="1843.2" y1="846.5" x2="1852.2" y2="846.5" stroke="#000" stroke-width="2"/>
<line x1="1843.2" y1="863.0" x2="1852.2" y2="863.0" stroke="#000" stroke-width="2"/>
<line x1="1843.2" y1="879.5" x2="1852.2" y2="879.5" stroke="#000" stroke-width="2"/>
<line x1="1843.2" y1="896.0" x2="1859.2" y2="896.0" stroke="#000" stroke-width="2"/>
<line x1="1843.2" y1="912.5" x2="1852.2" y2="912.5" stroke="#000" stroke-width="2"/>
<line x1="1843.2" y1="929.0" x2="1852.2" y2="929.0" stroke="#000" stroke-width="2"/>
<line x1="1843.2" y1="945.5" x2="1852.2" y2="945.5" stroke="#000" stroke-width="2"/>
<line x1="1843.2" y1="962.0" x2="1852.2" y2="962.0" stroke="#000" stroke-width="2"/>
<line x1="1843.2" y1="978.5" x2="1859.2" y2="978.5" stroke="#000" stroke-width="2"/>
<text x="986" y="809" font-size="33" font-weight="bold" fill="#000" text-anchor="start" textLength="37.5" lengthAdjust="spacingAndGlyphs">(c)</text>
<circle cx="991" cy="1467.5" r="2.2" fill="#9c9c80"/>
<text x="1085.5" y="1398.6" font-size="28" font-weight="bold" fill="#000" text-anchor="end" textLength="14.6" lengthAdjust="spacingAndGlyphs">0</text>
<text x="1085.5" y="1283.3" font-size="28" font-weight="bold" fill="#000" text-anchor="end" textLength="14.6" lengthAdjust="spacingAndGlyphs">5</text>
<text x="1085.5" y="1168.0" font-size="28" font-weight="bold" fill="#000" text-anchor="end" textLength="29.2" lengthAdjust="spacingAndGlyphs">10</text>
<text x="1085.5" y="1052.6" font-size="28" font-weight="bold" fill="#000" text-anchor="end" textLength="29.2" lengthAdjust="spacingAndGlyphs">15</text>
<text x="1085.5" y="937.3" font-size="28" font-weight="bold" fill="#000" text-anchor="end" textLength="29.2" lengthAdjust="spacingAndGlyphs">20</text>
<text x="1085.5" y="822.0" font-size="28" font-weight="bold" fill="#000" text-anchor="end" textLength="29.2" lengthAdjust="spacingAndGlyphs">25</text>
<text x="1870.3" y="822.0" font-size="28" font-weight="bold" fill="#000" text-anchor="start" textLength="28.1" lengthAdjust="spacingAndGlyphs">70</text>
<text x="1870.3" y="905.1" font-size="28" font-weight="bold" fill="#000" text-anchor="start" textLength="28.1" lengthAdjust="spacingAndGlyphs">60</text>
<text x="1870.3" y="987.2" font-size="28" font-weight="bold" fill="#000" text-anchor="start" textLength="28.1" lengthAdjust="spacingAndGlyphs">50</text>
<text x="1099.8" y="1435.4" font-size="26.5" font-weight="bold" fill="#231f20" text-anchor="start" textLength="36.5" lengthAdjust="spacingAndGlyphs" stroke="#231f20" stroke-width="1.2" stroke-linejoin="round">JAN</text>
<text x="1163.9" y="1435.4" font-size="26.5" font-weight="bold" fill="#231f20" text-anchor="start" textLength="35.6" lengthAdjust="spacingAndGlyphs" stroke="#231f20" stroke-width="1.2" stroke-linejoin="round">FEB</text>
<text x="1223.9" y="1435.4" font-size="26.5" font-weight="bold" fill="#231f20" text-anchor="start" textLength="44.9" lengthAdjust="spacingAndGlyphs" stroke="#231f20" stroke-width="1.2" stroke-linejoin="round">MAR</text>
<text x="1290.8" y="1435.4" font-size="26.5" font-weight="bold" fill="#231f20" text-anchor="start" textLength="38.9" lengthAdjust="spacingAndGlyphs" stroke="#231f20" stroke-width="1.2" stroke-linejoin="round">APR</text>
<text x="1358.9" y="1435.4" font-size="26.5" font-weight="bold" fill="#231f20" text-anchor="start" textLength="42.8" lengthAdjust="spacingAndGlyphs" stroke="#231f20" stroke-width="1.2" stroke-linejoin="round">MAY</text>
<text x="1425.7" y="1435.4" font-size="26.5" font-weight="bold" fill="#231f20" text-anchor="start" textLength="40.9" lengthAdjust="spacingAndGlyphs" stroke="#231f20" stroke-width="1.2" stroke-linejoin="round">JUN</text>
<text x="1497.0" y="1435.4" font-size="26.5" font-weight="bold" fill="#231f20" text-anchor="start" textLength="36.9" lengthAdjust="spacingAndGlyphs" stroke="#231f20" stroke-width="1.2" stroke-linejoin="round">JUL</text>
<text x="1552.3" y="1435.4" font-size="26.5" font-weight="bold" fill="#231f20" text-anchor="start" textLength="44.8" lengthAdjust="spacingAndGlyphs" stroke="#231f20" stroke-width="1.2" stroke-linejoin="round">AUG</text>
<text x="1620.3" y="1435.4" font-size="26.5" font-weight="bold" fill="#231f20" text-anchor="start" textLength="39.7" lengthAdjust="spacingAndGlyphs" stroke="#231f20" stroke-width="1.2" stroke-linejoin="round">SEP</text>
<text x="1685.2" y="1435.4" font-size="26.5" font-weight="bold" fill="#231f20" text-anchor="start" textLength="36.8" lengthAdjust="spacingAndGlyphs" stroke="#231f20" stroke-width="1.2" stroke-linejoin="round">OCT</text>
<text x="1746.1" y="1435.4" font-size="26.5" font-weight="bold" fill="#231f20" text-anchor="start" textLength="45.2" lengthAdjust="spacingAndGlyphs" stroke="#231f20" stroke-width="1.2" stroke-linejoin="round">NOV</text>
<text x="1818.1" y="1435.4" font-size="26.5" font-weight="bold" fill="#231f20" text-anchor="start" textLength="38.9" lengthAdjust="spacingAndGlyphs" stroke="#231f20" stroke-width="1.2" stroke-linejoin="round">DEC</text>
<text x="1235.4" y="1495" font-size="27.8" font-weight="bold" fill="#000" text-anchor="start" textLength="534.1" lengthAdjust="spacingAndGlyphs">Vapor Contribution Annual Cycle (% TPW)</text>
<text x="1038.7" y="1192" font-size="29" font-weight="bold" fill="#000" text-anchor="start" textLength="210" lengthAdjust="spacingAndGlyphs" transform="rotate(-90 1038.7 1192)">% of total vapor</text>
<text x="1954.3" y="1001.3" font-size="29" font-weight="bold" fill="#000" text-anchor="start" textLength="204" lengthAdjust="spacingAndGlyphs" transform="rotate(-90 1954.3 1001.3)">% of total vapor</text>
<text x="1990.2" y="990.5" font-size="29" font-weight="bold" fill="#000" text-anchor="start" textLength="185" lengthAdjust="spacingAndGlyphs" transform="rotate(-90 1990.2 990.5)">Ter. Recycling)</text>
<line x1="1127.6" y1="1064.5" x2="1171.4" y2="1064.5" stroke="#e0141b" stroke-width="2.8" stroke-dasharray="16.3,11.2"/>
<text x="1196.8" y="1071.3" font-size="25.3" font-weight="bold" fill="#e0141b" text-anchor="start" textLength="63.0" lengthAdjust="spacingAndGlyphs" stroke="#e0141b" stroke-width="0.5" stroke-linejoin="round">ARAB</text>
<line x1="1127.6" y1="1097.6" x2="1171.4" y2="1097.6" stroke="#1c1a6e" stroke-width="2.8" stroke-dasharray="16.3,11.2"/>
<text x="1196.8" y="1103.3" font-size="25.3" font-weight="bold" fill="#1c1a6e" text-anchor="start" textLength="44.2" lengthAdjust="spacingAndGlyphs" stroke="#1c1a6e" stroke-width="0.5" stroke-linejoin="round">BoB</text>
<line x1="1127.6" y1="1133.8" x2="1177.6" y2="1133.8" stroke="#0d63f5" stroke-width="2.8"/>
<text x="1196.8" y="1141.3" font-size="25.3" font-weight="bold" fill="#0d63f5" text-anchor="start" textLength="140.6" lengthAdjust="spacingAndGlyphs" stroke="#0d63f5" stroke-width="0.5" stroke-linejoin="round">IO (TIO+SIO)</text>
<line x1="1127.6" y1="1170.1" x2="1177.6" y2="1170.1" stroke="#7d1fa6" stroke-width="2.8"/>
<text x="1196.8" y="1177.6" font-size="25.3" font-weight="bold" fill="#7d1fa6" text-anchor="start" textLength="159.29999999999998" lengthAdjust="spacingAndGlyphs" stroke="#7d1fa6" stroke-width="0.5" stroke-linejoin="round">PO (PAC+SCS)</text>
<line x1="1127.6" y1="1205.6" x2="1171.4" y2="1205.6" stroke="#7a6a5c" stroke-width="2.8" stroke-dasharray="16.3,11.2"/>
<text x="1196.8" y="1213.1" font-size="25.3" font-weight="bold" fill="#7a6a5c" text-anchor="start" textLength="46.7" lengthAdjust="spacingAndGlyphs" stroke="#7a6a5c" stroke-width="0.5" stroke-linejoin="round">LND</text>
</svg></body></html>
